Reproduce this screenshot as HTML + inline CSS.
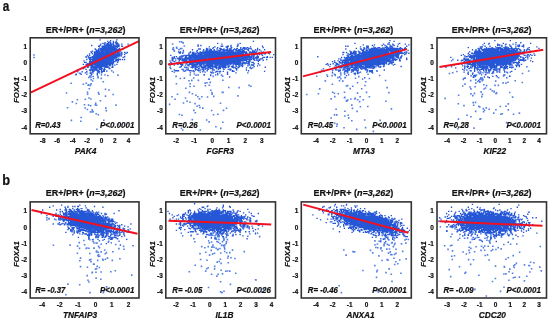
<!DOCTYPE html><html lang="en"><head><title>FOXA1 correlation scatter plots</title><meta charset="utf-8"><style>html,body{margin:0;padding:0;background:#fff}svg{display:block}svg text{font-family:"Liberation Sans",sans-serif}</style></head><body><svg width="550" height="321" viewBox="0 0 550 321">
<rect width="550" height="321" fill="#fff"/>
<g font-weight="bold" fill="#111" stroke="#111" stroke-width="0.2">
<text transform="translate(2.8 11.2) scale(0.88 1.03)" font-size="13.5">a</text>
<text transform="translate(2.3 185) scale(0.95 1.02)" font-size="13.5">b</text>
<path d="M98 76.2h.01M91.1 79.7h.01M76.3 103.5h.01M92.2 109.9h.01M66.5 93h.01M88.6 84.9h.01M111.7 70.8h.01M96.2 113.7h.01M105.8 108.1h.01M87.6 94.1h.01M75.7 74.7h.01M87.5 92.3h.01M106.7 71.1h.01M116 105.1h.01M83.4 84.3h.01M90.5 111.9h.01M88.1 85.2h.01M77.4 99.8h.01M93.4 78.5h.01M96.6 105.3h.01M96.9 129.3h.01M77.8 71.8h.01M90.9 99h.01M71.4 120.4h.01M103.3 81.8h.01M80.1 73.4h.01M89 98h.01M86.9 74.2h.01M85.3 99.2h.01M79.6 73.3h.01M71.1 83.2h.01M113.1 94.5h.01M95.4 104.9h.01M117.5 124.4h.01M91.1 83.9h.01M99 94.3h.01M92.6 81h.01M98.4 72.5h.01M89.3 88.7h.01M95.7 103.2h.01M106.3 110.6h.01M67.5 107.7h.01M90.8 77.4h.01M87.4 109.5h.01M88.8 77.5h.01M101.2 78.4h.01M82.2 71.8h.01M89.7 76.4h.01M86.3 83.3h.01M72.4 101.9h.01M81.1 117.5h.01M88.6 105.1h.01M92.3 112h.01M93.1 111.6h.01M90.7 105.7h.01M118 75.1h.01M97.6 69.6h.01M85.1 108h.01M84.5 104.8h.01M90.3 85.5h.01M105.5 96.1h.01M109 90h.01M98.3 114.8h.01M105.5 89.3h.01M80.8 121.3h.01M98.4 92.6h.01M103.8 120.3h.01M100.4 100.7h.01M34 55h.01M34 57.5h.01" stroke="#5580e4" stroke-width="1.6" stroke-linecap="square" fill="none"/>
<path d="M76.3 74.2h.01M77.7 70h.01M81.2 74.2h.01M83.3 64.4h.01M83.3 68.6h.01M84 60.9h.01M84.7 62.3h.01M84.7 67.9h.01M85.4 72.8h.01M86.1 56.7h.01M86.1 57.4h.01M86.1 62.3h.01M86.1 64.4h.01M86.1 69.3h.01M86.8 59.5h.01M86.8 65.1h.01M86.8 65.8h.01M86.8 71.4h.01M86.8 72.1h.01M87.5 55.3h.01M87.5 63.7h.01M87.5 64.4h.01M87.5 67.2h.01M88.2 56.7h.01M88.2 65.1h.01M88.2 67.2h.01M88.9 58.1h.01M88.9 63.7h.01M88.9 64.4h.01M88.9 65.8h.01M89.6 53.9h.01M89.6 55.3h.01M89.6 57.4h.01M89.6 59.5h.01M89.6 61.6h.01M89.6 62.3h.01M89.6 63h.01M89.6 64.4h.01M89.6 65.1h.01M89.6 70h.01M90.3 58.1h.01M90.3 59.5h.01M90.3 60.2h.01M90.3 60.9h.01M90.3 62.3h.01M90.3 63.7h.01M90.3 70.7h.01M90.3 72.8h.01M90.3 73.5h.01M91 51.8h.01M91 57.4h.01M91 61.6h.01M91 63.7h.01M91 64.4h.01M91 65.1h.01M91 66.5h.01M91 67.9h.01M91 68.6h.01M91 69.3h.01M91 70h.01M91 72.8h.01M91 75.6h.01M91.7 45.5h.01M91.7 52.5h.01M91.7 59.5h.01M91.7 61.6h.01M91.7 62.3h.01M91.7 63h.01M91.7 63.7h.01M91.7 64.4h.01M91.7 65.1h.01M91.7 67.2h.01M91.7 67.9h.01M91.7 74.2h.01M92.4 51.1h.01M92.4 53.9h.01M92.4 56.7h.01M92.4 57.4h.01M92.4 58.8h.01M92.4 59.5h.01M92.4 60.2h.01M92.4 60.9h.01M92.4 61.6h.01M92.4 64.4h.01M92.4 65.1h.01M92.4 66.5h.01M92.4 67.2h.01M92.4 69.3h.01M92.4 70h.01M92.4 71.4h.01M92.4 72.1h.01M93.1 58.1h.01M93.1 58.8h.01M93.1 60.2h.01M93.1 62.3h.01M93.1 63h.01M93.1 64.4h.01M93.1 67.9h.01M93.1 72.8h.01M93.1 76.3h.01M93.8 55.3h.01M93.8 56h.01M93.8 56.7h.01M93.8 57.4h.01M93.8 58.1h.01M93.8 58.8h.01M93.8 59.5h.01M93.8 60.2h.01M93.8 60.9h.01M93.8 61.6h.01M93.8 62.3h.01M93.8 63.7h.01M93.8 65.8h.01M93.8 66.5h.01M93.8 67.2h.01M93.8 67.9h.01M93.8 68.6h.01M93.8 70h.01M93.8 71.4h.01M94.5 51.8h.01M94.5 52.5h.01M94.5 53.2h.01M94.5 53.9h.01M94.5 54.6h.01M94.5 55.3h.01M94.5 56h.01M94.5 56.7h.01M94.5 57.4h.01M94.5 58.1h.01M94.5 58.8h.01M94.5 59.5h.01M94.5 60.2h.01M94.5 60.9h.01M94.5 61.6h.01M94.5 62.3h.01M94.5 63h.01M94.5 63.7h.01M94.5 64.4h.01M94.5 65.8h.01M94.5 67.2h.01M94.5 67.9h.01M95.2 49h.01M95.2 52.5h.01M95.2 53.2h.01M95.2 53.9h.01M95.2 54.6h.01M95.2 56h.01M95.2 56.7h.01M95.2 57.4h.01M95.2 58.1h.01M95.2 59.5h.01M95.2 60.2h.01M95.2 60.9h.01M95.2 61.6h.01M95.2 62.3h.01M95.2 63h.01M95.2 63.7h.01M95.2 64.4h.01M95.2 65.8h.01M95.2 66.5h.01M95.2 67.2h.01M95.2 67.9h.01M95.2 68.6h.01M95.2 69.3h.01M95.2 70h.01M95.9 49.7h.01M95.9 51.8h.01M95.9 52.5h.01M95.9 53.2h.01M95.9 53.9h.01M95.9 55.3h.01M95.9 56.7h.01M95.9 58.1h.01M95.9 58.8h.01M95.9 59.5h.01M95.9 60.2h.01M95.9 60.9h.01M95.9 62.3h.01M95.9 63h.01M95.9 63.7h.01M95.9 64.4h.01M95.9 65.1h.01M95.9 65.8h.01M95.9 67.2h.01M95.9 67.9h.01M95.9 69.3h.01M95.9 70h.01M96.6 50.4h.01M96.6 51.1h.01M96.6 51.8h.01M96.6 53.2h.01M96.6 53.9h.01M96.6 54.6h.01M96.6 55.3h.01M96.6 56h.01M96.6 57.4h.01M96.6 58.1h.01M96.6 58.8h.01M96.6 59.5h.01M96.6 60.2h.01M96.6 60.9h.01M96.6 61.6h.01M96.6 62.3h.01M96.6 63h.01M96.6 63.7h.01M96.6 64.4h.01M96.6 65.1h.01M96.6 65.8h.01M96.6 66.5h.01M96.6 68.6h.01M96.6 69.3h.01M96.6 70h.01M97.3 50.4h.01M97.3 51.1h.01M97.3 51.8h.01M97.3 52.5h.01M97.3 53.2h.01M97.3 53.9h.01M97.3 54.6h.01M97.3 55.3h.01M97.3 56h.01M97.3 56.7h.01M97.3 57.4h.01M97.3 58.1h.01M97.3 58.8h.01M97.3 59.5h.01M97.3 60.2h.01M97.3 60.9h.01M97.3 61.6h.01M97.3 62.3h.01M97.3 63h.01M97.3 63.7h.01M97.3 64.4h.01M97.3 65.1h.01M97.3 65.8h.01M97.3 66.5h.01M97.3 67.9h.01M97.3 70.7h.01M97.3 73.5h.01M97.3 74.9h.01M98 50.4h.01M98 51.1h.01M98 52.5h.01M98 53.9h.01M98 54.6h.01M98 55.3h.01M98 56h.01M98 56.7h.01M98 57.4h.01M98 58.1h.01M98 58.8h.01M98 59.5h.01M98 60.2h.01M98 60.9h.01M98 61.6h.01M98 62.3h.01M98 63h.01M98 63.7h.01M98 65.1h.01M98 65.8h.01M98 66.5h.01M98 67.2h.01M98 67.9h.01M98 70.7h.01M98 72.1h.01M98 77.7h.01M98.7 46.2h.01M98.7 49h.01M98.7 49.7h.01M98.7 50.4h.01M98.7 52.5h.01M98.7 53.2h.01M98.7 53.9h.01M98.7 54.6h.01M98.7 55.3h.01M98.7 56h.01M98.7 56.7h.01M98.7 57.4h.01M98.7 58.1h.01M98.7 58.8h.01M98.7 59.5h.01M98.7 60.2h.01M98.7 60.9h.01M98.7 61.6h.01M98.7 62.3h.01M98.7 63h.01M98.7 63.7h.01M98.7 64.4h.01M98.7 65.1h.01M98.7 65.8h.01M98.7 66.5h.01M98.7 67.2h.01M98.7 70.7h.01M98.7 71.4h.01M99.4 46.9h.01M99.4 51.1h.01M99.4 51.8h.01M99.4 52.5h.01M99.4 53.2h.01M99.4 53.9h.01M99.4 54.6h.01M99.4 55.3h.01M99.4 56h.01M99.4 56.7h.01M99.4 57.4h.01M99.4 58.1h.01M99.4 58.8h.01M99.4 59.5h.01M99.4 60.2h.01M99.4 60.9h.01M99.4 61.6h.01M99.4 62.3h.01M99.4 63h.01M99.4 63.7h.01M99.4 64.4h.01M99.4 65.1h.01M99.4 65.8h.01M99.4 67.9h.01M99.4 68.6h.01M99.4 69.3h.01M99.4 71.4h.01M99.4 72.8h.01M100.1 39.9h.01M100.1 45.5h.01M100.1 49h.01M100.1 51.8h.01M100.1 52.5h.01M100.1 53.2h.01M100.1 53.9h.01M100.1 54.6h.01M100.1 55.3h.01M100.1 56h.01M100.1 56.7h.01M100.1 57.4h.01M100.1 58.1h.01M100.1 58.8h.01M100.1 59.5h.01M100.1 60.2h.01M100.1 60.9h.01M100.1 61.6h.01M100.1 62.3h.01M100.1 63h.01M100.1 63.7h.01M100.1 64.4h.01M100.1 65.1h.01M100.1 65.8h.01M100.1 66.5h.01M100.1 67.2h.01M100.1 69.3h.01M100.8 44.1h.01M100.8 48.3h.01M100.8 49.7h.01M100.8 50.4h.01M100.8 51.8h.01M100.8 52.5h.01M100.8 53.2h.01M100.8 53.9h.01M100.8 54.6h.01M100.8 55.3h.01M100.8 56h.01M100.8 56.7h.01M100.8 57.4h.01M100.8 58.1h.01M100.8 58.8h.01M100.8 59.5h.01M100.8 60.2h.01M100.8 60.9h.01M100.8 61.6h.01M100.8 62.3h.01M100.8 63h.01M100.8 63.7h.01M100.8 64.4h.01M100.8 65.1h.01M100.8 66.5h.01M100.8 67.2h.01M100.8 67.9h.01M100.8 68.6h.01M101.5 49h.01M101.5 49.7h.01M101.5 51.1h.01M101.5 51.8h.01M101.5 52.5h.01M101.5 53.2h.01M101.5 53.9h.01M101.5 54.6h.01M101.5 55.3h.01M101.5 56h.01M101.5 56.7h.01M101.5 57.4h.01M101.5 58.1h.01M101.5 58.8h.01M101.5 59.5h.01M101.5 60.2h.01M101.5 60.9h.01M101.5 61.6h.01M101.5 62.3h.01M101.5 63h.01M101.5 63.7h.01M101.5 64.4h.01M101.5 65.1h.01M101.5 65.8h.01M101.5 66.5h.01M101.5 67.9h.01M101.5 68.6h.01M101.5 70h.01M101.5 71.4h.01M101.5 72.8h.01M101.5 74.9h.01M102.2 46.2h.01M102.2 47.6h.01M102.2 49h.01M102.2 49.7h.01M102.2 50.4h.01M102.2 51.1h.01M102.2 51.8h.01M102.2 52.5h.01M102.2 53.2h.01M102.2 53.9h.01M102.2 54.6h.01M102.2 55.3h.01M102.2 56h.01M102.2 56.7h.01M102.2 57.4h.01M102.2 58.1h.01M102.2 58.8h.01M102.2 59.5h.01M102.2 60.2h.01M102.2 60.9h.01M102.2 61.6h.01M102.2 62.3h.01M102.2 63h.01M102.2 63.7h.01M102.2 64.4h.01M102.2 65.1h.01M102.2 66.5h.01M102.2 68.6h.01M102.2 72.1h.01M102.9 43.4h.01M102.9 46.2h.01M102.9 46.9h.01M102.9 47.6h.01M102.9 48.3h.01M102.9 49h.01M102.9 49.7h.01M102.9 50.4h.01M102.9 51.8h.01M102.9 52.5h.01M102.9 53.2h.01M102.9 53.9h.01M102.9 54.6h.01M102.9 55.3h.01M102.9 56h.01M102.9 56.7h.01M102.9 57.4h.01M102.9 58.1h.01M102.9 58.8h.01M102.9 59.5h.01M102.9 60.2h.01M102.9 60.9h.01M102.9 61.6h.01M102.9 62.3h.01M102.9 63h.01M102.9 63.7h.01M102.9 64.4h.01M102.9 65.1h.01M102.9 66.5h.01M102.9 71.4h.01M103.6 46.2h.01M103.6 46.9h.01M103.6 49h.01M103.6 49.7h.01M103.6 51.1h.01M103.6 51.8h.01M103.6 52.5h.01M103.6 53.2h.01M103.6 53.9h.01M103.6 54.6h.01M103.6 55.3h.01M103.6 56h.01M103.6 56.7h.01M103.6 57.4h.01M103.6 58.1h.01M103.6 58.8h.01M103.6 59.5h.01M103.6 60.2h.01M103.6 60.9h.01M103.6 61.6h.01M103.6 62.3h.01M103.6 63h.01M103.6 63.7h.01M103.6 64.4h.01M103.6 65.1h.01M103.6 65.8h.01M103.6 66.5h.01M103.6 70h.01M104.3 44.1h.01M104.3 46.2h.01M104.3 47.6h.01M104.3 48.3h.01M104.3 49.7h.01M104.3 50.4h.01M104.3 51.8h.01M104.3 52.5h.01M104.3 53.2h.01M104.3 53.9h.01M104.3 54.6h.01M104.3 55.3h.01M104.3 56h.01M104.3 56.7h.01M104.3 57.4h.01M104.3 58.1h.01M104.3 58.8h.01M104.3 59.5h.01M104.3 60.2h.01M104.3 60.9h.01M104.3 61.6h.01M104.3 62.3h.01M104.3 63h.01M104.3 63.7h.01M104.3 64.4h.01M104.3 65.8h.01M104.3 66.5h.01M104.3 68.6h.01M104.3 70.7h.01M104.3 71.4h.01M105 42.7h.01M105 43.4h.01M105 44.8h.01M105 46.2h.01M105 46.9h.01M105 49h.01M105 49.7h.01M105 50.4h.01M105 51.8h.01M105 52.5h.01M105 53.2h.01M105 53.9h.01M105 54.6h.01M105 55.3h.01M105 56h.01M105 56.7h.01M105 58.1h.01M105 58.8h.01M105 59.5h.01M105 60.2h.01M105 60.9h.01M105 61.6h.01M105 62.3h.01M105 63h.01M105 63.7h.01M105 64.4h.01M105 65.1h.01M105 65.8h.01M105 66.5h.01M105 67.2h.01M105 69.3h.01M105 74.9h.01M105.7 47.6h.01M105.7 48.3h.01M105.7 49h.01M105.7 50.4h.01M105.7 51.1h.01M105.7 51.8h.01M105.7 52.5h.01M105.7 53.2h.01M105.7 53.9h.01M105.7 54.6h.01M105.7 55.3h.01M105.7 56h.01M105.7 56.7h.01M105.7 57.4h.01M105.7 58.1h.01M105.7 58.8h.01M105.7 59.5h.01M105.7 60.2h.01M105.7 60.9h.01M105.7 61.6h.01M105.7 62.3h.01M105.7 63h.01M105.7 63.7h.01M105.7 64.4h.01M105.7 65.1h.01M105.7 66.5h.01M106.4 44.8h.01M106.4 45.5h.01M106.4 46.9h.01M106.4 47.6h.01M106.4 48.3h.01M106.4 49h.01M106.4 49.7h.01M106.4 50.4h.01M106.4 51.1h.01M106.4 51.8h.01M106.4 52.5h.01M106.4 53.2h.01M106.4 53.9h.01M106.4 54.6h.01M106.4 55.3h.01M106.4 56h.01M106.4 56.7h.01M106.4 57.4h.01M106.4 58.1h.01M106.4 58.8h.01M106.4 59.5h.01M106.4 60.2h.01M106.4 60.9h.01M106.4 61.6h.01M106.4 62.3h.01M106.4 63h.01M106.4 63.7h.01M106.4 66.5h.01M106.4 67.2h.01M107.1 43.4h.01M107.1 44.1h.01M107.1 44.8h.01M107.1 47.6h.01M107.1 48.3h.01M107.1 49h.01M107.1 49.7h.01M107.1 50.4h.01M107.1 51.1h.01M107.1 51.8h.01M107.1 52.5h.01M107.1 53.2h.01M107.1 53.9h.01M107.1 54.6h.01M107.1 55.3h.01M107.1 56h.01M107.1 56.7h.01M107.1 57.4h.01M107.1 58.1h.01M107.1 58.8h.01M107.1 59.5h.01M107.1 60.2h.01M107.1 60.9h.01M107.1 61.6h.01M107.1 62.3h.01M107.1 63h.01M107.1 63.7h.01M107.1 65.1h.01M107.1 65.8h.01M107.8 41.3h.01M107.8 44.1h.01M107.8 44.8h.01M107.8 45.5h.01M107.8 46.2h.01M107.8 48.3h.01M107.8 49h.01M107.8 49.7h.01M107.8 50.4h.01M107.8 51.1h.01M107.8 51.8h.01M107.8 52.5h.01M107.8 53.2h.01M107.8 53.9h.01M107.8 54.6h.01M107.8 55.3h.01M107.8 56h.01M107.8 56.7h.01M107.8 57.4h.01M107.8 58.1h.01M107.8 58.8h.01M107.8 59.5h.01M107.8 60.2h.01M107.8 60.9h.01M107.8 61.6h.01M107.8 62.3h.01M107.8 63h.01M107.8 63.7h.01M107.8 64.4h.01M107.8 66.5h.01M107.8 67.2h.01M107.8 75.6h.01M108.5 42.7h.01M108.5 44.1h.01M108.5 44.8h.01M108.5 45.5h.01M108.5 46.2h.01M108.5 46.9h.01M108.5 47.6h.01M108.5 49h.01M108.5 49.7h.01M108.5 50.4h.01M108.5 51.1h.01M108.5 51.8h.01M108.5 52.5h.01M108.5 53.2h.01M108.5 53.9h.01M108.5 54.6h.01M108.5 55.3h.01M108.5 56h.01M108.5 56.7h.01M108.5 57.4h.01M108.5 58.1h.01M108.5 58.8h.01M108.5 59.5h.01M108.5 60.2h.01M108.5 60.9h.01M108.5 61.6h.01M108.5 62.3h.01M108.5 63h.01M108.5 64.4h.01M109.2 46.2h.01M109.2 47.6h.01M109.2 48.3h.01M109.2 49h.01M109.2 50.4h.01M109.2 51.1h.01M109.2 51.8h.01M109.2 52.5h.01M109.2 53.2h.01M109.2 53.9h.01M109.2 54.6h.01M109.2 55.3h.01M109.2 56h.01M109.2 56.7h.01M109.2 57.4h.01M109.2 58.1h.01M109.2 58.8h.01M109.2 59.5h.01M109.2 60.9h.01M109.2 61.6h.01M109.2 62.3h.01M109.2 63h.01M109.2 63.7h.01M109.2 64.4h.01M109.2 65.8h.01M109.2 67.9h.01M109.2 68.6h.01M109.9 42h.01M109.9 44.1h.01M109.9 45.5h.01M109.9 46.2h.01M109.9 47.6h.01M109.9 48.3h.01M109.9 49.7h.01M109.9 50.4h.01M109.9 51.1h.01M109.9 51.8h.01M109.9 52.5h.01M109.9 53.2h.01M109.9 53.9h.01M109.9 54.6h.01M109.9 55.3h.01M109.9 56h.01M109.9 56.7h.01M109.9 57.4h.01M109.9 58.1h.01M109.9 58.8h.01M109.9 59.5h.01M109.9 60.2h.01M109.9 60.9h.01M109.9 62.3h.01M109.9 63.7h.01M109.9 65.1h.01M109.9 65.8h.01M109.9 68.6h.01M110.6 40.6h.01M110.6 42.7h.01M110.6 43.4h.01M110.6 46.2h.01M110.6 47.6h.01M110.6 48.3h.01M110.6 49h.01M110.6 49.7h.01M110.6 50.4h.01M110.6 51.1h.01M110.6 51.8h.01M110.6 52.5h.01M110.6 53.2h.01M110.6 53.9h.01M110.6 54.6h.01M110.6 55.3h.01M110.6 56h.01M110.6 56.7h.01M110.6 57.4h.01M110.6 58.1h.01M110.6 58.8h.01M110.6 59.5h.01M110.6 60.2h.01M110.6 62.3h.01M110.6 63h.01M110.6 63.7h.01M110.6 64.4h.01M110.6 65.1h.01M111.3 44.1h.01M111.3 45.5h.01M111.3 46.2h.01M111.3 46.9h.01M111.3 47.6h.01M111.3 48.3h.01M111.3 49h.01M111.3 49.7h.01M111.3 50.4h.01M111.3 51.1h.01M111.3 51.8h.01M111.3 52.5h.01M111.3 53.2h.01M111.3 53.9h.01M111.3 54.6h.01M111.3 55.3h.01M111.3 56h.01M111.3 56.7h.01M111.3 57.4h.01M111.3 58.1h.01M111.3 58.8h.01M111.3 60.2h.01M111.3 60.9h.01M111.3 61.6h.01M111.3 62.3h.01M111.3 63.7h.01M112 46.2h.01M112 46.9h.01M112 47.6h.01M112 49h.01M112 49.7h.01M112 50.4h.01M112 51.1h.01M112 51.8h.01M112 52.5h.01M112 53.2h.01M112 53.9h.01M112 54.6h.01M112 55.3h.01M112 56.7h.01M112 57.4h.01M112 58.1h.01M112 58.8h.01M112 59.5h.01M112 60.2h.01M112 60.9h.01M112 63h.01M112 63.7h.01M112 67.2h.01M112.7 44.1h.01M112.7 46.9h.01M112.7 47.6h.01M112.7 48.3h.01M112.7 49h.01M112.7 50.4h.01M112.7 51.8h.01M112.7 52.5h.01M112.7 53.2h.01M112.7 54.6h.01M112.7 55.3h.01M112.7 56h.01M112.7 56.7h.01M112.7 57.4h.01M112.7 58.8h.01M112.7 60.2h.01M112.7 60.9h.01M112.7 62.3h.01M112.7 63h.01M112.7 64.4h.01M112.7 65.8h.01M112.7 67.2h.01M113.4 41.3h.01M113.4 42.7h.01M113.4 44.1h.01M113.4 44.8h.01M113.4 46.2h.01M113.4 48.3h.01M113.4 49h.01M113.4 49.7h.01M113.4 50.4h.01M113.4 51.8h.01M113.4 52.5h.01M113.4 53.2h.01M113.4 54.6h.01M113.4 55.3h.01M113.4 56h.01M113.4 56.7h.01M113.4 57.4h.01M113.4 58.1h.01M113.4 58.8h.01M113.4 59.5h.01M113.4 60.2h.01M113.4 61.6h.01M113.4 62.3h.01M113.4 63h.01M113.4 72.1h.01M114.1 46.9h.01M114.1 47.6h.01M114.1 48.3h.01M114.1 49h.01M114.1 49.7h.01M114.1 50.4h.01M114.1 51.1h.01M114.1 51.8h.01M114.1 52.5h.01M114.1 53.2h.01M114.1 54.6h.01M114.1 55.3h.01M114.1 56h.01M114.1 57.4h.01M114.1 58.1h.01M114.1 58.8h.01M114.8 45.5h.01M114.8 47.6h.01M114.8 48.3h.01M114.8 49.7h.01M114.8 51.1h.01M114.8 51.8h.01M114.8 52.5h.01M114.8 53.2h.01M114.8 53.9h.01M114.8 54.6h.01M114.8 56.7h.01M114.8 57.4h.01M114.8 61.6h.01M114.8 65.1h.01M115.5 42.7h.01M115.5 46.2h.01M115.5 46.9h.01M115.5 48.3h.01M115.5 49h.01M115.5 49.7h.01M115.5 51.1h.01M115.5 51.8h.01M115.5 52.5h.01M115.5 53.9h.01M115.5 54.6h.01M115.5 55.3h.01M115.5 56h.01M115.5 56.7h.01M115.5 58.1h.01M115.5 60.2h.01M116.2 41.3h.01M116.2 44.1h.01M116.2 46.2h.01M116.2 46.9h.01M116.2 48.3h.01M116.2 49h.01M116.2 49.7h.01M116.2 50.4h.01M116.2 51.1h.01M116.2 51.8h.01M116.2 54.6h.01M116.2 55.3h.01M116.2 56.7h.01M116.2 58.8h.01M116.2 59.5h.01M116.2 60.9h.01M116.9 39.9h.01M116.9 42.7h.01M116.9 44.8h.01M116.9 46.2h.01M116.9 46.9h.01M116.9 51.1h.01M116.9 53.9h.01M116.9 54.6h.01M116.9 56.7h.01M116.9 57.4h.01M116.9 60.9h.01M116.9 64.4h.01M117.6 43.4h.01M117.6 44.8h.01M117.6 46.9h.01M117.6 47.6h.01M117.6 49.7h.01M117.6 50.4h.01M117.6 51.1h.01M117.6 52.5h.01M117.6 53.2h.01M117.6 53.9h.01M117.6 56h.01M117.6 59.5h.01M117.6 62.3h.01M118.3 44.1h.01M118.3 46.2h.01M118.3 50.4h.01M118.3 53.9h.01M118.3 54.6h.01M118.3 55.3h.01M118.3 58.8h.01M118.3 60.9h.01M119 44.8h.01M119 46.2h.01M119 49h.01M119 50.4h.01M119 51.8h.01M119 53.2h.01M119 54.6h.01M119 56h.01M119 56.7h.01M119 59.5h.01M119.7 48.3h.01M119.7 49h.01M119.7 51.8h.01M119.7 53.9h.01M119.7 54.6h.01M119.7 55.3h.01M120.4 51.8h.01M120.4 53.9h.01M120.4 59.5h.01M121.1 56h.01M121.8 44.1h.01M121.8 46.2h.01M121.8 52.5h.01M121.8 53.9h.01M121.8 54.6h.01M122.5 46.2h.01M122.5 59.5h.01M123.2 49h.01M123.2 57.4h.01M124.6 52.5h.01M124.6 54.6h.01M124.6 56.7h.01M124.6 59.5h.01M126 53.2h.01M127.4 52.5h.01M128.1 44.1h.01" stroke="#2556d6" stroke-width="1.35" stroke-linecap="square" fill="none"/>
<line x1="30.5" y1="92.6" x2="139" y2="41.2" stroke="#f01020" stroke-width="2"/>
<rect x="30.2" y="37.8" width="108.8" height="96" fill="none" stroke="#333" stroke-width="1.6"/>
<text x="45.8" y="32.7" font-size="9">ER+/PR+ (<tspan font-style="italic">n=3,262</tspan>)</text>
<text x="27.1" y="48.6" font-size="6.4" text-anchor="end">1</text>
<text x="27.1" y="64.8" font-size="6.4" text-anchor="end">0</text>
<text x="27.1" y="81" font-size="6.4" text-anchor="end">-1</text>
<text x="27.1" y="97.2" font-size="6.4" text-anchor="end">-2</text>
<text x="27.1" y="113.4" font-size="6.4" text-anchor="end">-3</text>
<text x="27.1" y="129.6" font-size="6.4" text-anchor="end">-4</text>
<text x="42.7" y="143.2" font-size="6.4" text-anchor="middle">-8</text>
<text x="57.2" y="143.2" font-size="6.4" text-anchor="middle">-6</text>
<text x="72.7" y="143.2" font-size="6.4" text-anchor="middle">-4</text>
<text x="87.2" y="143.2" font-size="6.4" text-anchor="middle">-2</text>
<text x="101.5" y="143.2" font-size="6.4" text-anchor="middle">0</text>
<text x="114.7" y="143.2" font-size="6.4" text-anchor="middle">2</text>
<text x="128.5" y="143.2" font-size="6.4" text-anchor="middle">4</text>
<text transform="translate(18.9 89.9) rotate(-90)" font-size="7.8" font-style="italic" text-anchor="middle">FOXA1</text>
<text x="85.5" y="153.9" font-size="8.3" font-style="italic" text-anchor="middle">PAK4</text>
<text transform="translate(35.2 127.5) scale(1 1.1)" font-size="7.8" font-style="italic">R=0.43</text>
<text transform="translate(134.4 127.5) scale(1 1.1)" font-size="8" font-style="italic" text-anchor="end">P&lt;0.0001</text>
<path d="M216.5 71.5h.01M196.1 75.2h.01M169.6 104.4h.01M202.8 108.1h.01M222.3 92.4h.01M176.1 76.4h.01M183.4 69.5h.01M213.5 114.8h.01M179.4 114.5h.01M233.5 71.2h.01M209.3 85.2h.01M175.1 99.2h.01M197 67.6h.01M212.6 70.6h.01M207.5 97h.01M194.2 71.8h.01M184.4 78.1h.01M212.3 72.6h.01M197.9 96.7h.01M211.9 92.6h.01M190 86.5h.01M222.8 122.3h.01M189.4 92.4h.01M205.4 85.7h.01M187.1 101.3h.01M194 86.2h.01M193.7 78h.01M186.6 69.8h.01M202.1 69.4h.01M220.5 103.3h.01M229.9 69.1h.01M222.7 76.2h.01M195 103.6h.01M223 92.4h.01M205.2 83.1h.01M228.8 87.5h.01M176.4 83.8h.01M223.4 68.6h.01M187.7 69.8h.01M217.9 114.3h.01M190 102.2h.01M213.7 96.4h.01M193.2 71h.01M181.4 128.3h.01M193.9 110.4h.01M198.4 80.4h.01M177.5 94.3h.01M194.4 74h.01M201.8 96.8h.01M172 96.7h.01M203.2 69h.01M192.3 119.6h.01M213.2 76.4h.01M189 80.7h.01M209.1 121.9h.01M182.7 130h.01M202.6 71.6h.01M199.5 98.9h.01M182 115.3h.01M195.9 95.3h.01M183.5 103h.01M195.3 112.7h.01M208.7 68.9h.01M249.1 85.4h.01M210.2 82.4h.01M199.9 107.5h.01M217.4 71.5h.01M205.9 68.8h.01M215.9 126.7h.01M204.1 74.8h.01M239.1 87.6h.01M221.6 75.1h.01M203.2 67.3h.01M199.4 68.1h.01M183.3 70.1h.01M190.2 75h.01M185.5 98h.01M200.3 130h.01M210.8 90.3h.01M192.4 93.7h.01M198.1 74.9h.01M190.1 83.8h.01M217.6 74.7h.01M206.7 120h.01M191.8 80.4h.01M222.9 80.3h.01M188.2 68.3h.01M195.2 67.6h.01M180.3 78.5h.01M207 82.7h.01M197.1 106.2h.01M208.7 79.3h.01M223.5 110.4h.01M173.4 47.7h.01M179 49.7h.01M184.3 46h.01M176.6 47.2h.01M172.7 49.2h.01M174.3 51.1h.01M181.7 41.9h.01M180.4 48.6h.01M179.7 41.7h.01M172.6 44h.01M181.8 48.5h.01M183.2 42.9h.01M176.9 48.3h.01M173.7 49.6h.01M226.5 108.3h.01M237.9 95.9h.01M220.8 128.4h.01M212.2 94.3h.01M250.9 86.3h.01M199.3 105.5h.01M185.8 88.2h.01M211.6 110.5h.01" stroke="#5580e4" stroke-width="1.6" stroke-linecap="square" fill="none"/>
<path d="M169.4 63.7h.01M170.1 60.9h.01M170.1 65.1h.01M170.1 67.2h.01M170.8 55.3h.01M170.8 62.3h.01M170.8 68.6h.01M171.5 63h.01M171.5 64.4h.01M172.2 57.4h.01M172.2 58.1h.01M172.2 59.5h.01M172.2 60.2h.01M172.2 71.4h.01M172.9 59.5h.01M172.9 60.9h.01M173.6 58.1h.01M174.3 56.7h.01M174.3 58.1h.01M174.3 61.6h.01M174.3 65.1h.01M174.3 70h.01M174.3 72.1h.01M175.7 58.8h.01M175.7 60.9h.01M175.7 70.7h.01M176.4 56.7h.01M176.4 63h.01M177.1 70.7h.01M177.8 58.1h.01M177.8 58.8h.01M177.8 63h.01M177.8 64.4h.01M178.5 51.8h.01M178.5 62.3h.01M178.5 63.7h.01M178.5 70.7h.01M179.2 52.5h.01M179.2 58.1h.01M179.2 58.8h.01M179.2 60.2h.01M179.2 60.9h.01M179.2 63h.01M179.9 53.2h.01M179.9 56.7h.01M179.9 57.4h.01M179.9 58.8h.01M179.9 62.3h.01M179.9 63h.01M179.9 67.2h.01M180.6 51.8h.01M180.6 52.5h.01M180.6 58.1h.01M180.6 59.5h.01M180.6 64.4h.01M181.3 56h.01M181.3 58.1h.01M181.3 63.7h.01M181.3 65.8h.01M181.3 66.5h.01M182 56h.01M182 57.4h.01M182 58.1h.01M182 60.2h.01M182 64.4h.01M182 65.1h.01M182 69.3h.01M182.7 53.2h.01M182.7 59.5h.01M182.7 60.9h.01M182.7 64.4h.01M182.7 65.1h.01M183.4 50.4h.01M183.4 51.8h.01M183.4 56h.01M183.4 58.8h.01M183.4 59.5h.01M184.1 55.3h.01M184.1 58.8h.01M184.1 60.2h.01M184.1 60.9h.01M184.1 61.6h.01M184.1 62.3h.01M184.1 71.4h.01M184.8 58.1h.01M184.8 60.9h.01M184.8 62.3h.01M184.8 67.2h.01M185.5 56h.01M185.5 56.7h.01M185.5 58.1h.01M185.5 59.5h.01M185.5 61.6h.01M185.5 62.3h.01M185.5 65.1h.01M185.5 70.7h.01M186.2 55.3h.01M186.2 56h.01M186.2 58.1h.01M186.2 58.8h.01M186.2 59.5h.01M186.2 60.9h.01M186.2 62.3h.01M186.2 63h.01M186.2 67.9h.01M186.9 55.3h.01M186.9 57.4h.01M186.9 59.5h.01M186.9 60.2h.01M186.9 60.9h.01M186.9 63h.01M186.9 63.7h.01M186.9 67.2h.01M187.6 58.1h.01M187.6 58.8h.01M187.6 62.3h.01M187.6 65.1h.01M188.3 55.3h.01M188.3 58.1h.01M188.3 58.8h.01M188.3 61.6h.01M188.3 70h.01M189 53.2h.01M189 54.6h.01M189 55.3h.01M189 56h.01M189 57.4h.01M189 58.1h.01M189 60.2h.01M189 64.4h.01M189 65.1h.01M189 65.8h.01M189.7 56h.01M189.7 56.7h.01M189.7 57.4h.01M189.7 58.1h.01M189.7 59.5h.01M189.7 60.2h.01M189.7 60.9h.01M189.7 62.3h.01M189.7 63.7h.01M189.7 64.4h.01M189.7 70.7h.01M190.4 51.8h.01M190.4 52.5h.01M190.4 55.3h.01M190.4 56h.01M190.4 58.1h.01M190.4 59.5h.01M190.4 60.2h.01M190.4 60.9h.01M190.4 63.7h.01M190.4 64.4h.01M190.4 72.8h.01M191.1 56h.01M191.1 57.4h.01M191.1 62.3h.01M191.1 67.2h.01M191.1 70.7h.01M191.8 54.6h.01M191.8 55.3h.01M191.8 58.1h.01M191.8 58.8h.01M191.8 59.5h.01M191.8 60.9h.01M191.8 61.6h.01M191.8 62.3h.01M191.8 63h.01M191.8 64.4h.01M191.8 65.1h.01M192.5 49.7h.01M192.5 52.5h.01M192.5 53.2h.01M192.5 55.3h.01M192.5 56h.01M192.5 56.7h.01M192.5 57.4h.01M192.5 58.8h.01M192.5 59.5h.01M192.5 60.2h.01M192.5 60.9h.01M192.5 61.6h.01M192.5 62.3h.01M192.5 65.1h.01M192.5 66.5h.01M192.5 67.9h.01M193.2 53.9h.01M193.2 54.6h.01M193.2 55.3h.01M193.2 56.7h.01M193.2 57.4h.01M193.2 61.6h.01M193.2 63h.01M193.2 63.7h.01M193.2 64.4h.01M193.2 65.1h.01M193.2 66.5h.01M193.2 67.2h.01M193.2 70.7h.01M193.9 52.5h.01M193.9 53.9h.01M193.9 54.6h.01M193.9 55.3h.01M193.9 57.4h.01M193.9 58.1h.01M193.9 59.5h.01M193.9 60.9h.01M193.9 61.6h.01M193.9 62.3h.01M193.9 63.7h.01M194.6 53.9h.01M194.6 55.3h.01M194.6 56h.01M194.6 57.4h.01M194.6 58.1h.01M194.6 59.5h.01M194.6 60.2h.01M194.6 60.9h.01M194.6 61.6h.01M194.6 62.3h.01M194.6 64.4h.01M194.6 65.1h.01M194.6 66.5h.01M195.3 53.9h.01M195.3 54.6h.01M195.3 56h.01M195.3 57.4h.01M195.3 58.1h.01M195.3 58.8h.01M195.3 59.5h.01M195.3 60.2h.01M195.3 60.9h.01M195.3 62.3h.01M195.3 64.4h.01M195.3 68.6h.01M195.3 69.3h.01M195.3 70h.01M196 53.2h.01M196 54.6h.01M196 55.3h.01M196 56h.01M196 56.7h.01M196 57.4h.01M196 58.1h.01M196 58.8h.01M196 60.9h.01M196 61.6h.01M196 63.7h.01M196 64.4h.01M196 65.1h.01M196 65.8h.01M196 67.2h.01M196 69.3h.01M196.7 51.1h.01M196.7 55.3h.01M196.7 56h.01M196.7 57.4h.01M196.7 58.1h.01M196.7 58.8h.01M196.7 59.5h.01M196.7 60.9h.01M196.7 63h.01M196.7 63.7h.01M196.7 64.4h.01M197.4 50.4h.01M197.4 52.5h.01M197.4 56h.01M197.4 56.7h.01M197.4 57.4h.01M197.4 58.1h.01M197.4 58.8h.01M197.4 59.5h.01M197.4 60.2h.01M197.4 60.9h.01M197.4 61.6h.01M197.4 63h.01M197.4 63.7h.01M197.4 65.1h.01M197.4 67.2h.01M197.4 70h.01M198.1 44.8h.01M198.1 46.2h.01M198.1 53.2h.01M198.1 54.6h.01M198.1 55.3h.01M198.1 56h.01M198.1 56.7h.01M198.1 58.1h.01M198.1 59.5h.01M198.1 60.2h.01M198.1 60.9h.01M198.1 61.6h.01M198.1 62.3h.01M198.1 63h.01M198.1 63.7h.01M198.1 70h.01M198.8 49h.01M198.8 53.2h.01M198.8 54.6h.01M198.8 56h.01M198.8 56.7h.01M198.8 58.1h.01M198.8 58.8h.01M198.8 59.5h.01M198.8 60.2h.01M198.8 60.9h.01M198.8 61.6h.01M198.8 62.3h.01M198.8 63h.01M198.8 63.7h.01M198.8 66.5h.01M198.8 68.6h.01M198.8 70.7h.01M199.5 53.2h.01M199.5 54.6h.01M199.5 55.3h.01M199.5 56h.01M199.5 57.4h.01M199.5 58.1h.01M199.5 59.5h.01M199.5 60.9h.01M199.5 61.6h.01M199.5 62.3h.01M199.5 64.4h.01M199.5 65.8h.01M200.2 49h.01M200.2 51.8h.01M200.2 53.2h.01M200.2 53.9h.01M200.2 54.6h.01M200.2 55.3h.01M200.2 56.7h.01M200.2 57.4h.01M200.2 58.1h.01M200.2 59.5h.01M200.2 60.2h.01M200.2 61.6h.01M200.2 62.3h.01M200.2 63h.01M200.2 63.7h.01M200.2 64.4h.01M200.2 65.1h.01M200.2 70h.01M200.2 72.1h.01M200.9 45.5h.01M200.9 52.5h.01M200.9 53.2h.01M200.9 53.9h.01M200.9 55.3h.01M200.9 56h.01M200.9 58.1h.01M200.9 58.8h.01M200.9 59.5h.01M200.9 60.2h.01M200.9 60.9h.01M200.9 62.3h.01M200.9 63h.01M200.9 65.1h.01M200.9 66.5h.01M201.6 52.5h.01M201.6 53.9h.01M201.6 54.6h.01M201.6 55.3h.01M201.6 56h.01M201.6 56.7h.01M201.6 57.4h.01M201.6 58.1h.01M201.6 58.8h.01M201.6 59.5h.01M201.6 60.2h.01M201.6 61.6h.01M201.6 62.3h.01M201.6 63h.01M201.6 63.7h.01M201.6 64.4h.01M201.6 65.1h.01M201.6 65.8h.01M201.6 67.2h.01M202.3 53.9h.01M202.3 55.3h.01M202.3 56h.01M202.3 56.7h.01M202.3 57.4h.01M202.3 58.1h.01M202.3 58.8h.01M202.3 59.5h.01M202.3 60.2h.01M202.3 60.9h.01M202.3 61.6h.01M202.3 63.7h.01M202.3 67.9h.01M203 51.1h.01M203 52.5h.01M203 53.2h.01M203 53.9h.01M203 55.3h.01M203 56h.01M203 57.4h.01M203 58.1h.01M203 58.8h.01M203 59.5h.01M203 60.2h.01M203 60.9h.01M203 61.6h.01M203 62.3h.01M203 63h.01M203 67.2h.01M203 68.6h.01M203 69.3h.01M203.7 49.7h.01M203.7 52.5h.01M203.7 55.3h.01M203.7 57.4h.01M203.7 58.1h.01M203.7 58.8h.01M203.7 59.5h.01M203.7 60.2h.01M203.7 60.9h.01M203.7 62.3h.01M203.7 63h.01M203.7 63.7h.01M203.7 64.4h.01M203.7 65.1h.01M203.7 67.2h.01M203.7 70.7h.01M204.4 53.2h.01M204.4 53.9h.01M204.4 54.6h.01M204.4 55.3h.01M204.4 56.7h.01M204.4 57.4h.01M204.4 58.1h.01M204.4 58.8h.01M204.4 59.5h.01M204.4 60.2h.01M204.4 60.9h.01M204.4 61.6h.01M204.4 62.3h.01M204.4 63h.01M204.4 63.7h.01M204.4 66.5h.01M204.4 67.9h.01M204.4 74.9h.01M205.1 51.1h.01M205.1 51.8h.01M205.1 54.6h.01M205.1 55.3h.01M205.1 56h.01M205.1 57.4h.01M205.1 58.1h.01M205.1 58.8h.01M205.1 59.5h.01M205.1 60.9h.01M205.1 61.6h.01M205.1 62.3h.01M205.1 63h.01M205.1 65.8h.01M205.1 69.3h.01M205.1 72.1h.01M205.8 51.1h.01M205.8 51.8h.01M205.8 52.5h.01M205.8 53.2h.01M205.8 53.9h.01M205.8 54.6h.01M205.8 55.3h.01M205.8 56h.01M205.8 56.7h.01M205.8 57.4h.01M205.8 58.1h.01M205.8 58.8h.01M205.8 59.5h.01M205.8 60.2h.01M205.8 60.9h.01M205.8 61.6h.01M205.8 62.3h.01M205.8 65.1h.01M205.8 66.5h.01M205.8 67.2h.01M205.8 67.9h.01M206.5 48.3h.01M206.5 49.7h.01M206.5 50.4h.01M206.5 51.8h.01M206.5 53.2h.01M206.5 53.9h.01M206.5 55.3h.01M206.5 56h.01M206.5 56.7h.01M206.5 57.4h.01M206.5 58.1h.01M206.5 58.8h.01M206.5 59.5h.01M206.5 60.2h.01M206.5 60.9h.01M206.5 61.6h.01M206.5 62.3h.01M206.5 63h.01M206.5 63.7h.01M206.5 65.1h.01M206.5 65.8h.01M207.2 49h.01M207.2 50.4h.01M207.2 51.1h.01M207.2 52.5h.01M207.2 54.6h.01M207.2 56h.01M207.2 56.7h.01M207.2 58.8h.01M207.2 60.2h.01M207.2 60.9h.01M207.2 61.6h.01M207.2 62.3h.01M207.2 63h.01M207.2 63.7h.01M207.2 64.4h.01M207.2 65.1h.01M207.2 65.8h.01M207.2 68.6h.01M207.2 70.7h.01M207.9 49h.01M207.9 51.1h.01M207.9 52.5h.01M207.9 53.2h.01M207.9 53.9h.01M207.9 54.6h.01M207.9 55.3h.01M207.9 56h.01M207.9 56.7h.01M207.9 57.4h.01M207.9 59.5h.01M207.9 60.2h.01M207.9 60.9h.01M207.9 61.6h.01M207.9 62.3h.01M207.9 63h.01M207.9 64.4h.01M207.9 65.8h.01M207.9 66.5h.01M207.9 67.2h.01M207.9 69.3h.01M208.6 51.1h.01M208.6 51.8h.01M208.6 53.2h.01M208.6 54.6h.01M208.6 55.3h.01M208.6 56h.01M208.6 56.7h.01M208.6 57.4h.01M208.6 58.1h.01M208.6 58.8h.01M208.6 59.5h.01M208.6 60.2h.01M208.6 60.9h.01M208.6 61.6h.01M208.6 62.3h.01M208.6 63.7h.01M208.6 65.1h.01M208.6 65.8h.01M208.6 67.2h.01M209.3 46.9h.01M209.3 50.4h.01M209.3 51.1h.01M209.3 52.5h.01M209.3 53.2h.01M209.3 53.9h.01M209.3 54.6h.01M209.3 55.3h.01M209.3 56h.01M209.3 56.7h.01M209.3 57.4h.01M209.3 58.8h.01M209.3 59.5h.01M209.3 60.2h.01M209.3 60.9h.01M209.3 61.6h.01M209.3 62.3h.01M209.3 63h.01M209.3 63.7h.01M209.3 64.4h.01M209.3 65.1h.01M209.3 65.8h.01M209.3 66.5h.01M209.3 79.1h.01M210 49h.01M210 51.8h.01M210 53.2h.01M210 53.9h.01M210 54.6h.01M210 55.3h.01M210 56h.01M210 56.7h.01M210 57.4h.01M210 58.1h.01M210 58.8h.01M210 59.5h.01M210 60.9h.01M210 62.3h.01M210 63h.01M210 66.5h.01M210 67.9h.01M210.7 50.4h.01M210.7 51.1h.01M210.7 53.2h.01M210.7 54.6h.01M210.7 55.3h.01M210.7 56h.01M210.7 56.7h.01M210.7 57.4h.01M210.7 58.1h.01M210.7 58.8h.01M210.7 59.5h.01M210.7 60.2h.01M210.7 60.9h.01M210.7 61.6h.01M210.7 62.3h.01M210.7 63h.01M210.7 63.7h.01M210.7 64.4h.01M210.7 65.1h.01M210.7 65.8h.01M210.7 67.2h.01M210.7 67.9h.01M210.7 68.6h.01M210.7 72.1h.01M210.7 74.9h.01M210.7 75.6h.01M211.4 49.7h.01M211.4 51.1h.01M211.4 51.8h.01M211.4 52.5h.01M211.4 53.2h.01M211.4 53.9h.01M211.4 54.6h.01M211.4 55.3h.01M211.4 56h.01M211.4 56.7h.01M211.4 57.4h.01M211.4 58.1h.01M211.4 58.8h.01M211.4 59.5h.01M211.4 60.2h.01M211.4 60.9h.01M211.4 61.6h.01M211.4 62.3h.01M211.4 63h.01M211.4 63.7h.01M211.4 65.1h.01M211.4 66.5h.01M211.4 72.8h.01M212.1 51.1h.01M212.1 52.5h.01M212.1 53.2h.01M212.1 53.9h.01M212.1 54.6h.01M212.1 55.3h.01M212.1 56.7h.01M212.1 57.4h.01M212.1 58.1h.01M212.1 58.8h.01M212.1 59.5h.01M212.1 60.2h.01M212.1 60.9h.01M212.1 61.6h.01M212.1 63h.01M212.1 63.7h.01M212.1 64.4h.01M212.1 65.1h.01M212.1 66.5h.01M212.1 68.6h.01M212.8 48.3h.01M212.8 51.1h.01M212.8 51.8h.01M212.8 52.5h.01M212.8 53.2h.01M212.8 53.9h.01M212.8 55.3h.01M212.8 56h.01M212.8 56.7h.01M212.8 57.4h.01M212.8 58.1h.01M212.8 58.8h.01M212.8 59.5h.01M212.8 60.2h.01M212.8 60.9h.01M212.8 61.6h.01M212.8 62.3h.01M212.8 63.7h.01M212.8 65.1h.01M212.8 66.5h.01M212.8 67.2h.01M212.8 68.6h.01M212.8 69.3h.01M213.5 47.6h.01M213.5 51.8h.01M213.5 52.5h.01M213.5 53.9h.01M213.5 54.6h.01M213.5 55.3h.01M213.5 56h.01M213.5 57.4h.01M213.5 58.1h.01M213.5 58.8h.01M213.5 59.5h.01M213.5 60.2h.01M213.5 60.9h.01M213.5 61.6h.01M213.5 62.3h.01M213.5 63h.01M213.5 66.5h.01M213.5 72.8h.01M214.2 49.7h.01M214.2 51.1h.01M214.2 51.8h.01M214.2 52.5h.01M214.2 53.2h.01M214.2 53.9h.01M214.2 54.6h.01M214.2 55.3h.01M214.2 56h.01M214.2 56.7h.01M214.2 57.4h.01M214.2 58.1h.01M214.2 58.8h.01M214.2 59.5h.01M214.2 60.2h.01M214.2 60.9h.01M214.2 61.6h.01M214.2 62.3h.01M214.2 63.7h.01M214.2 70h.01M214.9 46.9h.01M214.9 51.1h.01M214.9 51.8h.01M214.9 52.5h.01M214.9 53.2h.01M214.9 53.9h.01M214.9 54.6h.01M214.9 55.3h.01M214.9 56.7h.01M214.9 57.4h.01M214.9 58.1h.01M214.9 58.8h.01M214.9 59.5h.01M214.9 60.2h.01M214.9 61.6h.01M214.9 62.3h.01M214.9 63h.01M214.9 63.7h.01M214.9 64.4h.01M214.9 65.8h.01M214.9 66.5h.01M214.9 67.2h.01M215.6 51.8h.01M215.6 52.5h.01M215.6 53.9h.01M215.6 55.3h.01M215.6 56h.01M215.6 56.7h.01M215.6 57.4h.01M215.6 58.1h.01M215.6 58.8h.01M215.6 59.5h.01M215.6 60.2h.01M215.6 60.9h.01M215.6 61.6h.01M215.6 62.3h.01M215.6 63h.01M215.6 63.7h.01M215.6 65.1h.01M215.6 66.5h.01M215.6 72.1h.01M215.6 74.9h.01M216.3 51.1h.01M216.3 51.8h.01M216.3 53.2h.01M216.3 53.9h.01M216.3 54.6h.01M216.3 55.3h.01M216.3 56h.01M216.3 56.7h.01M216.3 57.4h.01M216.3 58.1h.01M216.3 58.8h.01M216.3 59.5h.01M216.3 60.2h.01M216.3 61.6h.01M216.3 63h.01M216.3 63.7h.01M216.3 65.8h.01M216.3 66.5h.01M216.3 67.9h.01M216.3 68.6h.01M217 49h.01M217 51.8h.01M217 53.2h.01M217 53.9h.01M217 54.6h.01M217 55.3h.01M217 56h.01M217 56.7h.01M217 57.4h.01M217 58.1h.01M217 58.8h.01M217 59.5h.01M217 60.2h.01M217 60.9h.01M217 61.6h.01M217 62.3h.01M217 63h.01M217 63.7h.01M217 64.4h.01M217 65.1h.01M217 65.8h.01M217 67.9h.01M217 71.4h.01M217.7 43.4h.01M217.7 47.6h.01M217.7 51.1h.01M217.7 51.8h.01M217.7 52.5h.01M217.7 53.2h.01M217.7 54.6h.01M217.7 55.3h.01M217.7 56h.01M217.7 56.7h.01M217.7 57.4h.01M217.7 58.1h.01M217.7 58.8h.01M217.7 59.5h.01M217.7 60.2h.01M217.7 60.9h.01M217.7 61.6h.01M217.7 63h.01M217.7 73.5h.01M218.4 50.4h.01M218.4 51.8h.01M218.4 52.5h.01M218.4 53.2h.01M218.4 53.9h.01M218.4 54.6h.01M218.4 55.3h.01M218.4 56h.01M218.4 57.4h.01M218.4 58.1h.01M218.4 58.8h.01M218.4 59.5h.01M218.4 60.2h.01M218.4 60.9h.01M218.4 61.6h.01M218.4 63h.01M218.4 63.7h.01M218.4 64.4h.01M218.4 65.8h.01M218.4 67.9h.01M218.4 69.3h.01M219.1 50.4h.01M219.1 52.5h.01M219.1 53.2h.01M219.1 53.9h.01M219.1 54.6h.01M219.1 55.3h.01M219.1 56h.01M219.1 56.7h.01M219.1 57.4h.01M219.1 58.1h.01M219.1 58.8h.01M219.1 59.5h.01M219.1 60.2h.01M219.1 61.6h.01M219.1 62.3h.01M219.1 63h.01M219.1 63.7h.01M219.1 65.8h.01M219.1 67.2h.01M219.1 68.6h.01M219.1 71.4h.01M219.8 48.3h.01M219.8 50.4h.01M219.8 51.1h.01M219.8 52.5h.01M219.8 53.2h.01M219.8 53.9h.01M219.8 54.6h.01M219.8 56.7h.01M219.8 57.4h.01M219.8 58.1h.01M219.8 58.8h.01M219.8 59.5h.01M219.8 60.2h.01M219.8 60.9h.01M219.8 61.6h.01M219.8 62.3h.01M219.8 63h.01M219.8 65.1h.01M219.8 65.8h.01M219.8 67.2h.01M219.8 72.8h.01M220.5 48.3h.01M220.5 49h.01M220.5 49.7h.01M220.5 50.4h.01M220.5 51.8h.01M220.5 52.5h.01M220.5 53.2h.01M220.5 53.9h.01M220.5 54.6h.01M220.5 55.3h.01M220.5 56h.01M220.5 56.7h.01M220.5 57.4h.01M220.5 58.1h.01M220.5 58.8h.01M220.5 59.5h.01M220.5 60.2h.01M220.5 60.9h.01M220.5 61.6h.01M220.5 62.3h.01M220.5 63h.01M220.5 63.7h.01M220.5 64.4h.01M220.5 65.8h.01M220.5 66.5h.01M220.5 67.2h.01M220.5 68.6h.01M220.5 71.4h.01M221.2 46.2h.01M221.2 49h.01M221.2 49.7h.01M221.2 52.5h.01M221.2 53.9h.01M221.2 54.6h.01M221.2 55.3h.01M221.2 56h.01M221.2 56.7h.01M221.2 57.4h.01M221.2 58.1h.01M221.2 58.8h.01M221.2 59.5h.01M221.2 60.2h.01M221.2 60.9h.01M221.2 61.6h.01M221.2 62.3h.01M221.2 63.7h.01M221.2 66.5h.01M221.9 44.1h.01M221.9 49.7h.01M221.9 51.8h.01M221.9 52.5h.01M221.9 53.9h.01M221.9 54.6h.01M221.9 55.3h.01M221.9 56h.01M221.9 56.7h.01M221.9 57.4h.01M221.9 58.1h.01M221.9 58.8h.01M221.9 59.5h.01M221.9 60.2h.01M221.9 60.9h.01M221.9 62.3h.01M221.9 63h.01M221.9 63.7h.01M221.9 64.4h.01M221.9 65.1h.01M221.9 65.8h.01M222.6 46.2h.01M222.6 51.8h.01M222.6 52.5h.01M222.6 53.2h.01M222.6 53.9h.01M222.6 54.6h.01M222.6 55.3h.01M222.6 56h.01M222.6 56.7h.01M222.6 57.4h.01M222.6 58.1h.01M222.6 58.8h.01M222.6 59.5h.01M222.6 60.2h.01M222.6 60.9h.01M222.6 61.6h.01M222.6 62.3h.01M222.6 63.7h.01M222.6 64.4h.01M222.6 65.8h.01M222.6 67.2h.01M223.3 49.7h.01M223.3 51.1h.01M223.3 51.8h.01M223.3 52.5h.01M223.3 53.2h.01M223.3 53.9h.01M223.3 55.3h.01M223.3 56h.01M223.3 56.7h.01M223.3 57.4h.01M223.3 58.1h.01M223.3 58.8h.01M223.3 59.5h.01M223.3 60.2h.01M223.3 60.9h.01M223.3 61.6h.01M223.3 62.3h.01M223.3 63h.01M223.3 63.7h.01M223.3 64.4h.01M223.3 65.1h.01M223.3 66.5h.01M223.3 67.2h.01M223.3 71.4h.01M224 49h.01M224 51.1h.01M224 51.8h.01M224 52.5h.01M224 53.2h.01M224 53.9h.01M224 54.6h.01M224 55.3h.01M224 56h.01M224 56.7h.01M224 57.4h.01M224 58.1h.01M224 58.8h.01M224 59.5h.01M224 60.2h.01M224 61.6h.01M224 62.3h.01M224 65.1h.01M224 69.3h.01M224.7 50.4h.01M224.7 51.8h.01M224.7 52.5h.01M224.7 53.9h.01M224.7 54.6h.01M224.7 55.3h.01M224.7 56.7h.01M224.7 57.4h.01M224.7 58.1h.01M224.7 58.8h.01M224.7 59.5h.01M224.7 61.6h.01M224.7 62.3h.01M224.7 63h.01M224.7 64.4h.01M224.7 65.1h.01M224.7 65.8h.01M224.7 67.2h.01M225.4 52.5h.01M225.4 53.2h.01M225.4 53.9h.01M225.4 55.3h.01M225.4 56h.01M225.4 56.7h.01M225.4 57.4h.01M225.4 58.1h.01M225.4 58.8h.01M225.4 59.5h.01M225.4 60.2h.01M225.4 60.9h.01M225.4 61.6h.01M225.4 62.3h.01M225.4 63h.01M225.4 63.7h.01M225.4 64.4h.01M225.4 65.1h.01M225.4 65.8h.01M225.4 67.9h.01M226.1 46.9h.01M226.1 49.7h.01M226.1 50.4h.01M226.1 51.8h.01M226.1 52.5h.01M226.1 53.2h.01M226.1 53.9h.01M226.1 54.6h.01M226.1 55.3h.01M226.1 56h.01M226.1 56.7h.01M226.1 57.4h.01M226.1 58.1h.01M226.1 58.8h.01M226.1 59.5h.01M226.1 60.2h.01M226.1 60.9h.01M226.1 61.6h.01M226.1 62.3h.01M226.1 67.2h.01M226.8 46.9h.01M226.8 47.6h.01M226.8 50.4h.01M226.8 53.2h.01M226.8 53.9h.01M226.8 54.6h.01M226.8 55.3h.01M226.8 56.7h.01M226.8 57.4h.01M226.8 58.1h.01M226.8 58.8h.01M226.8 59.5h.01M226.8 60.2h.01M226.8 60.9h.01M226.8 61.6h.01M226.8 63h.01M226.8 63.7h.01M226.8 64.4h.01M226.8 65.1h.01M227.5 46.2h.01M227.5 47.6h.01M227.5 48.3h.01M227.5 49h.01M227.5 49.7h.01M227.5 51.1h.01M227.5 51.8h.01M227.5 53.2h.01M227.5 54.6h.01M227.5 55.3h.01M227.5 56h.01M227.5 56.7h.01M227.5 57.4h.01M227.5 58.1h.01M227.5 58.8h.01M227.5 59.5h.01M227.5 60.2h.01M227.5 60.9h.01M227.5 61.6h.01M227.5 63h.01M227.5 63.7h.01M227.5 72.1h.01M227.5 73.5h.01M227.5 74.2h.01M228.2 46.2h.01M228.2 50.4h.01M228.2 51.1h.01M228.2 51.8h.01M228.2 52.5h.01M228.2 53.2h.01M228.2 53.9h.01M228.2 54.6h.01M228.2 55.3h.01M228.2 56h.01M228.2 56.7h.01M228.2 57.4h.01M228.2 58.1h.01M228.2 58.8h.01M228.2 59.5h.01M228.2 60.2h.01M228.2 60.9h.01M228.2 61.6h.01M228.2 62.3h.01M228.2 63.7h.01M228.2 64.4h.01M228.2 65.8h.01M228.2 67.2h.01M228.2 69.3h.01M228.9 51.8h.01M228.9 52.5h.01M228.9 53.2h.01M228.9 53.9h.01M228.9 54.6h.01M228.9 55.3h.01M228.9 56h.01M228.9 56.7h.01M228.9 57.4h.01M228.9 58.8h.01M228.9 59.5h.01M228.9 60.2h.01M228.9 60.9h.01M228.9 61.6h.01M228.9 62.3h.01M228.9 63h.01M228.9 65.8h.01M228.9 66.5h.01M229.6 49h.01M229.6 49.7h.01M229.6 50.4h.01M229.6 51.1h.01M229.6 51.8h.01M229.6 52.5h.01M229.6 53.2h.01M229.6 53.9h.01M229.6 54.6h.01M229.6 56h.01M229.6 57.4h.01M229.6 58.1h.01M229.6 58.8h.01M229.6 59.5h.01M229.6 60.2h.01M229.6 60.9h.01M229.6 61.6h.01M229.6 62.3h.01M229.6 63h.01M229.6 63.7h.01M229.6 65.8h.01M229.6 77h.01M230.3 49.7h.01M230.3 52.5h.01M230.3 53.2h.01M230.3 53.9h.01M230.3 54.6h.01M230.3 55.3h.01M230.3 56h.01M230.3 56.7h.01M230.3 57.4h.01M230.3 58.1h.01M230.3 58.8h.01M230.3 59.5h.01M230.3 60.2h.01M230.3 60.9h.01M230.3 61.6h.01M230.3 62.3h.01M230.3 63h.01M230.3 63.7h.01M230.3 64.4h.01M230.3 70h.01M231 45.5h.01M231 46.2h.01M231 46.9h.01M231 48.3h.01M231 49h.01M231 49.7h.01M231 50.4h.01M231 51.1h.01M231 52.5h.01M231 53.2h.01M231 53.9h.01M231 54.6h.01M231 56h.01M231 56.7h.01M231 57.4h.01M231 58.1h.01M231 58.8h.01M231 59.5h.01M231 60.2h.01M231 61.6h.01M231 63h.01M231 69.3h.01M231.7 47.6h.01M231.7 50.4h.01M231.7 51.1h.01M231.7 51.8h.01M231.7 53.2h.01M231.7 53.9h.01M231.7 54.6h.01M231.7 55.3h.01M231.7 56h.01M231.7 56.7h.01M231.7 57.4h.01M231.7 58.1h.01M231.7 59.5h.01M231.7 60.2h.01M231.7 61.6h.01M231.7 62.3h.01M231.7 63.7h.01M231.7 66.5h.01M232.4 50.4h.01M232.4 51.8h.01M232.4 52.5h.01M232.4 53.9h.01M232.4 54.6h.01M232.4 55.3h.01M232.4 56h.01M232.4 56.7h.01M232.4 57.4h.01M232.4 58.1h.01M232.4 58.8h.01M232.4 59.5h.01M232.4 60.2h.01M232.4 60.9h.01M232.4 61.6h.01M232.4 62.3h.01M232.4 66.5h.01M232.4 67.2h.01M232.4 70.7h.01M232.4 71.4h.01M233.1 50.4h.01M233.1 51.1h.01M233.1 52.5h.01M233.1 53.2h.01M233.1 54.6h.01M233.1 55.3h.01M233.1 56h.01M233.1 56.7h.01M233.1 57.4h.01M233.1 58.1h.01M233.1 58.8h.01M233.1 59.5h.01M233.1 60.2h.01M233.1 60.9h.01M233.1 61.6h.01M233.1 63h.01M233.1 65.1h.01M233.1 65.8h.01M233.1 67.2h.01M233.8 49.7h.01M233.8 52.5h.01M233.8 53.2h.01M233.8 53.9h.01M233.8 55.3h.01M233.8 56h.01M233.8 56.7h.01M233.8 57.4h.01M233.8 58.1h.01M233.8 58.8h.01M233.8 59.5h.01M233.8 60.9h.01M233.8 61.6h.01M233.8 62.3h.01M233.8 63.7h.01M233.8 67.9h.01M233.8 71.4h.01M234.5 49h.01M234.5 52.5h.01M234.5 53.2h.01M234.5 53.9h.01M234.5 54.6h.01M234.5 56h.01M234.5 56.7h.01M234.5 57.4h.01M234.5 58.1h.01M234.5 59.5h.01M234.5 60.9h.01M234.5 62.3h.01M234.5 63h.01M234.5 63.7h.01M235.2 51.8h.01M235.2 52.5h.01M235.2 53.2h.01M235.2 53.9h.01M235.2 54.6h.01M235.2 55.3h.01M235.2 56.7h.01M235.2 57.4h.01M235.2 58.8h.01M235.2 60.2h.01M235.2 61.6h.01M235.2 62.3h.01M235.2 64.4h.01M235.2 67.2h.01M235.9 49.7h.01M235.9 50.4h.01M235.9 51.8h.01M235.9 52.5h.01M235.9 54.6h.01M235.9 55.3h.01M235.9 56h.01M235.9 57.4h.01M235.9 58.1h.01M235.9 59.5h.01M235.9 60.2h.01M235.9 61.6h.01M235.9 63h.01M235.9 65.1h.01M235.9 68.6h.01M235.9 72.8h.01M236.6 49h.01M236.6 49.7h.01M236.6 50.4h.01M236.6 51.8h.01M236.6 52.5h.01M236.6 53.2h.01M236.6 53.9h.01M236.6 54.6h.01M236.6 55.3h.01M236.6 56h.01M236.6 56.7h.01M236.6 57.4h.01M236.6 58.1h.01M236.6 58.8h.01M236.6 59.5h.01M236.6 60.9h.01M236.6 61.6h.01M236.6 62.3h.01M236.6 63h.01M236.6 63.7h.01M236.6 64.4h.01M236.6 66.5h.01M236.6 68.6h.01M236.6 70h.01M237.3 46.2h.01M237.3 48.3h.01M237.3 51.8h.01M237.3 52.5h.01M237.3 53.9h.01M237.3 54.6h.01M237.3 55.3h.01M237.3 56h.01M237.3 56.7h.01M237.3 57.4h.01M237.3 58.1h.01M237.3 58.8h.01M237.3 59.5h.01M237.3 60.2h.01M237.3 60.9h.01M237.3 63h.01M237.3 64.4h.01M238 44.1h.01M238 45.5h.01M238 50.4h.01M238 51.1h.01M238 51.8h.01M238 53.2h.01M238 53.9h.01M238 55.3h.01M238 56h.01M238 56.7h.01M238 57.4h.01M238 58.1h.01M238 58.8h.01M238 60.2h.01M238 61.6h.01M238 63h.01M238 63.7h.01M238 67.9h.01M238.7 49.7h.01M238.7 50.4h.01M238.7 51.1h.01M238.7 51.8h.01M238.7 52.5h.01M238.7 53.2h.01M238.7 53.9h.01M238.7 54.6h.01M238.7 55.3h.01M238.7 56h.01M238.7 57.4h.01M238.7 58.1h.01M238.7 58.8h.01M238.7 59.5h.01M238.7 60.2h.01M238.7 60.9h.01M238.7 62.3h.01M238.7 63.7h.01M238.7 65.1h.01M238.7 67.2h.01M239.4 49.7h.01M239.4 51.1h.01M239.4 51.8h.01M239.4 52.5h.01M239.4 53.2h.01M239.4 53.9h.01M239.4 54.6h.01M239.4 55.3h.01M239.4 56h.01M239.4 57.4h.01M239.4 58.1h.01M239.4 58.8h.01M239.4 59.5h.01M239.4 61.6h.01M239.4 66.5h.01M240.1 43.4h.01M240.1 50.4h.01M240.1 51.1h.01M240.1 51.8h.01M240.1 52.5h.01M240.1 53.2h.01M240.1 53.9h.01M240.1 55.3h.01M240.1 56h.01M240.1 56.7h.01M240.1 57.4h.01M240.1 59.5h.01M240.1 60.2h.01M240.1 60.9h.01M240.1 61.6h.01M240.1 63h.01M240.1 64.4h.01M240.1 65.8h.01M240.8 47.6h.01M240.8 49h.01M240.8 51.1h.01M240.8 51.8h.01M240.8 52.5h.01M240.8 53.9h.01M240.8 54.6h.01M240.8 55.3h.01M240.8 56h.01M240.8 56.7h.01M240.8 58.1h.01M240.8 58.8h.01M240.8 60.9h.01M240.8 62.3h.01M240.8 63h.01M241.5 51.1h.01M241.5 51.8h.01M241.5 52.5h.01M241.5 53.2h.01M241.5 53.9h.01M241.5 54.6h.01M241.5 56h.01M241.5 56.7h.01M241.5 57.4h.01M241.5 58.1h.01M241.5 59.5h.01M241.5 60.2h.01M241.5 60.9h.01M241.5 65.1h.01M242.2 49.7h.01M242.2 51.8h.01M242.2 52.5h.01M242.2 53.9h.01M242.2 54.6h.01M242.2 55.3h.01M242.2 56.7h.01M242.2 57.4h.01M242.2 58.1h.01M242.2 59.5h.01M242.2 63.7h.01M242.2 65.1h.01M242.2 66.5h.01M242.9 48.3h.01M242.9 51.1h.01M242.9 52.5h.01M242.9 53.2h.01M242.9 54.6h.01M242.9 55.3h.01M242.9 56h.01M242.9 57.4h.01M242.9 58.8h.01M242.9 59.5h.01M242.9 60.2h.01M242.9 60.9h.01M242.9 62.3h.01M242.9 63h.01M242.9 63.7h.01M242.9 65.8h.01M243.6 47.6h.01M243.6 50.4h.01M243.6 51.1h.01M243.6 51.8h.01M243.6 52.5h.01M243.6 53.2h.01M243.6 55.3h.01M243.6 56h.01M243.6 56.7h.01M243.6 57.4h.01M243.6 58.1h.01M243.6 58.8h.01M243.6 60.2h.01M243.6 62.3h.01M243.6 63h.01M244.3 49h.01M244.3 51.1h.01M244.3 52.5h.01M244.3 54.6h.01M244.3 55.3h.01M244.3 56h.01M244.3 57.4h.01M244.3 60.2h.01M244.3 62.3h.01M245 47.6h.01M245 49h.01M245 52.5h.01M245 54.6h.01M245 55.3h.01M245 56.7h.01M245 57.4h.01M245 58.1h.01M245 59.5h.01M245 63.7h.01M245.7 51.8h.01M245.7 53.2h.01M245.7 53.9h.01M245.7 54.6h.01M245.7 56.7h.01M245.7 57.4h.01M245.7 58.1h.01M245.7 58.8h.01M245.7 59.5h.01M245.7 60.2h.01M245.7 63h.01M246.4 49h.01M246.4 51.8h.01M246.4 52.5h.01M246.4 56h.01M246.4 58.8h.01M246.4 60.9h.01M246.4 62.3h.01M246.4 63h.01M246.4 67.9h.01M246.4 70h.01M247.1 47.6h.01M247.1 53.2h.01M247.1 53.9h.01M247.1 55.3h.01M247.1 56h.01M247.1 56.7h.01M247.1 57.4h.01M247.1 58.1h.01M247.1 58.8h.01M247.1 59.5h.01M247.1 61.6h.01M247.8 47.6h.01M247.8 49.7h.01M247.8 55.3h.01M247.8 56h.01M247.8 57.4h.01M247.8 59.5h.01M247.8 63.7h.01M247.8 65.8h.01M247.8 72.8h.01M248.5 49h.01M248.5 49.7h.01M248.5 50.4h.01M248.5 54.6h.01M248.5 56h.01M248.5 56.7h.01M248.5 57.4h.01M248.5 58.8h.01M248.5 59.5h.01M248.5 61.6h.01M248.5 63h.01M248.5 70.7h.01M249.2 51.8h.01M249.2 53.9h.01M249.2 54.6h.01M249.2 55.3h.01M249.2 56.7h.01M249.2 57.4h.01M249.2 59.5h.01M249.2 60.2h.01M249.2 60.9h.01M249.2 63h.01M249.2 64.4h.01M249.2 65.1h.01M249.9 48.3h.01M249.9 52.5h.01M249.9 56.7h.01M249.9 57.4h.01M249.9 58.1h.01M249.9 59.5h.01M249.9 60.2h.01M249.9 61.6h.01M249.9 67.9h.01M250.6 46.9h.01M250.6 51.8h.01M250.6 52.5h.01M250.6 54.6h.01M250.6 56.7h.01M250.6 58.8h.01M250.6 59.5h.01M250.6 67.2h.01M250.6 67.9h.01M251.3 49h.01M251.3 52.5h.01M251.3 53.9h.01M251.3 54.6h.01M251.3 57.4h.01M251.3 59.5h.01M251.3 65.1h.01M251.3 68.6h.01M252 56h.01M252 58.1h.01M252 62.3h.01M252 64.4h.01M252.7 50.4h.01M252.7 51.1h.01M252.7 52.5h.01M252.7 56h.01M252.7 58.1h.01M252.7 65.1h.01M252.7 67.9h.01M253.4 41.3h.01M253.4 53.2h.01M253.4 55.3h.01M253.4 56.7h.01M253.4 57.4h.01M253.4 58.1h.01M253.4 58.8h.01M253.4 59.5h.01M253.4 62.3h.01M253.4 65.1h.01M254.1 51.1h.01M254.1 51.8h.01M254.1 56h.01M254.1 58.1h.01M254.1 59.5h.01M254.1 63.7h.01M254.1 66.5h.01M254.8 51.1h.01M254.8 51.8h.01M254.8 52.5h.01M254.8 53.9h.01M254.8 54.6h.01M254.8 60.2h.01M255.5 49.7h.01M255.5 53.9h.01M255.5 57.4h.01M255.5 58.1h.01M256.2 52.5h.01M256.2 53.9h.01M256.9 51.1h.01M256.9 53.9h.01M256.9 54.6h.01M256.9 56.7h.01M256.9 58.1h.01M256.9 59.5h.01M256.9 60.2h.01M257.6 48.3h.01M257.6 49.7h.01M257.6 56h.01M257.6 58.1h.01M257.6 65.8h.01M258.3 53.9h.01M258.3 56.7h.01M258.3 57.4h.01M258.3 60.9h.01M258.3 61.6h.01M258.3 63.7h.01M259 52.5h.01M259 59.5h.01M259.7 49.7h.01M259.7 54.6h.01M259.7 60.2h.01M259.7 65.1h.01M260.4 58.8h.01M261.1 51.1h.01M261.8 53.2h.01M261.8 54.6h.01M261.8 58.8h.01M262.5 46.2h.01M262.5 55.3h.01M262.5 58.1h.01M263.2 47.6h.01M263.2 51.8h.01M263.2 57.4h.01M263.2 60.2h.01M264.6 49.7h.01M264.6 53.9h.01M264.6 57.4h.01M264.6 71.4h.01M265.3 53.2h.01M265.3 53.9h.01M265.3 67.2h.01M266.7 57.4h.01M266.7 59.5h.01M267.4 56.7h.01M267.4 57.4h.01M268.8 53.2h.01M269.5 53.9h.01M270.2 57.4h.01M272.3 57.4h.01M273.7 54.6h.01" stroke="#2556d6" stroke-width="1.35" stroke-linecap="square" fill="none"/>
<line x1="168" y1="64.6" x2="271" y2="52" stroke="#f01020" stroke-width="2"/>
<rect x="165.8" y="37.8" width="109.7" height="96" fill="none" stroke="#333" stroke-width="1.6"/>
<text x="179.8" y="32.7" font-size="9">ER+/PR+ (<tspan font-style="italic">n=3,262</tspan>)</text>
<text x="162.7" y="48.6" font-size="6.4" text-anchor="end">1</text>
<text x="162.7" y="64.8" font-size="6.4" text-anchor="end">0</text>
<text x="162.7" y="81" font-size="6.4" text-anchor="end">-1</text>
<text x="162.7" y="97.2" font-size="6.4" text-anchor="end">-2</text>
<text x="162.7" y="113.4" font-size="6.4" text-anchor="end">-3</text>
<text x="162.7" y="129.6" font-size="6.4" text-anchor="end">-4</text>
<text x="176.2" y="143.2" font-size="6.4" text-anchor="middle">-2</text>
<text x="194.2" y="143.2" font-size="6.4" text-anchor="middle">-1</text>
<text x="212.2" y="143.2" font-size="6.4" text-anchor="middle">0</text>
<text x="228.5" y="143.2" font-size="6.4" text-anchor="middle">1</text>
<text x="245.2" y="143.2" font-size="6.4" text-anchor="middle">2</text>
<text x="261.7" y="143.2" font-size="6.4" text-anchor="middle">3</text>
<text transform="translate(154.5 89.9) rotate(-90)" font-size="7.8" font-style="italic" text-anchor="middle">FOXA1</text>
<text x="220.2" y="153.9" font-size="8.3" font-style="italic" text-anchor="middle">FGFR3</text>
<text transform="translate(172.3 127.5) scale(1 1.1)" font-size="7.8" font-style="italic">R=0.26</text>
<text transform="translate(270.9 127.5) scale(1 1.1)" font-size="8" font-style="italic" text-anchor="end">P&lt;0.0001</text>
<path d="M339.7 76.7h.01M344.7 74.1h.01M366.3 68.5h.01M347.8 100h.01M353 71.5h.01M352.4 108.4h.01M332.6 70.1h.01M377.1 71.3h.01M344.9 97.4h.01M342.8 81.1h.01M351.8 105.1h.01M366 67.8h.01M344.7 68.5h.01M364.7 120h.01M335.2 75.5h.01M332.6 92.2h.01M334.4 93.3h.01M354.7 99h.01M365.6 127.6h.01M344.8 71.6h.01M366.5 92.4h.01M365 85.5h.01M332.4 84.3h.01M331.1 118h.01M340.8 78.7h.01M369.4 78.5h.01M338.3 93.8h.01M359.6 101.6h.01M336.1 109.3h.01M319.7 88.9h.01M376 66.7h.01M346.9 67.7h.01M367.8 106.5h.01M353.7 68h.01M320.1 72.2h.01M357.5 82.7h.01M369.7 71.6h.01M373.4 131.4h.01M379.6 75.5h.01M357.5 93.1h.01M348.7 117.9h.01M329.8 66.5h.01M363.5 67.8h.01M363.3 99.8h.01M356.7 129.4h.01M336.8 126.3h.01M361.9 67.1h.01M340.7 73.1h.01M372.6 68.3h.01M339.7 77.1h.01M344.8 116h.01M332.1 75.6h.01M334.5 74.3h.01M345.4 77.5h.01M306.7 94.5h.01M385.9 101.3h.01M357 66.7h.01M355.6 73.4h.01M334.7 123.3h.01M353.8 68.1h.01M350.2 88.6h.01M352.1 66.3h.01M324 71.3h.01M348.2 115.3h.01M316.7 76.3h.01M346.8 101.1h.01M334.5 114.9h.01M339.5 80.8h.01M344.5 92.2h.01M365.2 68.5h.01M372 67.6h.01M350.8 99h.01M331.1 98.9h.01M376.7 70.7h.01M325.3 80.9h.01M346.4 86h.01M337.1 124.1h.01M374 66.1h.01M357.4 71h.01M369.4 96.8h.01M344.9 111.3h.01M365.7 81.8h.01M347.5 71.3h.01M347.6 85.6h.01M355.5 78.2h.01M357.1 111.4h.01M360.4 106.8h.01M346.4 100.6h.01M323.4 68.8h.01M344.5 97.8h.01M345 77.6h.01M335.6 69.3h.01M385.8 123.4h.01M344 127.7h.01M321.6 70.3h.01M357.6 99.8h.01M358.8 76.6h.01M388.9 92.6h.01M335.2 74.7h.01M355.3 98.3h.01M352.7 86.2h.01M337.9 77.6h.01M355.2 74.4h.01M372.5 73h.01M334.8 96.6h.01M368 74.3h.01M361.7 88.7h.01M318.4 93.7h.01M391.4 108.9h.01M360.1 96.7h.01M387.1 87.6h.01M380.2 120.4h.01M351.8 120.7h.01M385.6 80.5h.01M336.8 114.9h.01" stroke="#5580e4" stroke-width="1.6" stroke-linecap="square" fill="none"/>
<path d="M317.8 56.7h.01M326.2 64.4h.01M326.9 74.9h.01M327.6 63.7h.01M327.6 76.3h.01M328.3 65.1h.01M330.4 64.4h.01M332.5 61.6h.01M332.5 72.1h.01M332.5 72.8h.01M333.2 63.7h.01M334.6 60.9h.01M334.6 62.3h.01M334.6 67.2h.01M335.3 65.1h.01M336 63h.01M336 65.1h.01M336 65.8h.01M336 68.6h.01M336 70h.01M336.7 63.7h.01M336.7 67.2h.01M337.4 63.7h.01M337.4 64.4h.01M338.1 60.9h.01M338.1 65.8h.01M338.1 70h.01M338.8 58.8h.01M338.8 64.4h.01M338.8 66.5h.01M338.8 71.4h.01M339.5 61.6h.01M339.5 62.3h.01M339.5 65.8h.01M339.5 67.2h.01M339.5 67.9h.01M339.5 70.7h.01M340.2 62.3h.01M340.2 63h.01M340.2 66.5h.01M340.2 67.2h.01M340.2 70h.01M340.2 70.7h.01M340.9 58.8h.01M340.9 60.2h.01M340.9 63h.01M340.9 65.8h.01M340.9 67.9h.01M340.9 74.9h.01M341.6 57.4h.01M341.6 65.1h.01M341.6 67.2h.01M342.3 60.9h.01M342.3 61.6h.01M342.3 63h.01M343 52.5h.01M343 54.6h.01M343 60.2h.01M343 60.9h.01M343 62.3h.01M343 64.4h.01M343 65.8h.01M343 67.9h.01M343 70h.01M343.7 52.5h.01M343.7 60.2h.01M343.7 65.1h.01M343.7 67.9h.01M343.7 69.3h.01M344.4 57.4h.01M344.4 60.9h.01M344.4 62.3h.01M344.4 63h.01M344.4 64.4h.01M344.4 67.2h.01M344.4 67.9h.01M344.4 72.8h.01M345.1 58.1h.01M345.1 58.8h.01M345.1 59.5h.01M345.1 60.9h.01M345.1 61.6h.01M345.1 63h.01M345.1 65.1h.01M345.1 66.5h.01M345.1 70h.01M345.1 71.4h.01M345.8 46.2h.01M345.8 49h.01M345.8 60.9h.01M345.8 63h.01M345.8 63.7h.01M345.8 66.5h.01M345.8 67.9h.01M345.8 70.7h.01M346.5 52.5h.01M346.5 57.4h.01M346.5 58.1h.01M346.5 59.5h.01M346.5 61.6h.01M346.5 62.3h.01M346.5 63.7h.01M346.5 64.4h.01M346.5 65.1h.01M346.5 75.6h.01M347.2 55.3h.01M347.2 57.4h.01M347.2 58.1h.01M347.2 59.5h.01M347.2 60.9h.01M347.2 61.6h.01M347.2 64.4h.01M347.2 66.5h.01M347.2 68.6h.01M347.2 70h.01M347.2 71.4h.01M347.2 72.8h.01M347.9 46.2h.01M347.9 53.9h.01M347.9 56.7h.01M347.9 57.4h.01M347.9 58.8h.01M347.9 59.5h.01M347.9 60.2h.01M347.9 60.9h.01M347.9 63h.01M347.9 63.7h.01M347.9 64.4h.01M347.9 65.1h.01M347.9 67.2h.01M347.9 70h.01M347.9 70.7h.01M347.9 72.8h.01M348.6 53.9h.01M348.6 56h.01M348.6 58.8h.01M348.6 60.2h.01M348.6 60.9h.01M348.6 61.6h.01M348.6 63h.01M348.6 63.7h.01M348.6 64.4h.01M348.6 65.1h.01M348.6 66.5h.01M348.6 68.6h.01M348.6 74.9h.01M349.3 54.6h.01M349.3 57.4h.01M349.3 58.1h.01M349.3 58.8h.01M349.3 59.5h.01M349.3 62.3h.01M349.3 63h.01M349.3 63.7h.01M349.3 65.1h.01M349.3 70h.01M350 51.1h.01M350 58.8h.01M350 59.5h.01M350 60.2h.01M350 62.3h.01M350 63h.01M350 63.7h.01M350 64.4h.01M350 67.2h.01M350 67.9h.01M350 68.6h.01M350.7 52.5h.01M350.7 53.9h.01M350.7 54.6h.01M350.7 56.7h.01M350.7 57.4h.01M350.7 58.1h.01M350.7 60.2h.01M350.7 60.9h.01M350.7 61.6h.01M350.7 63h.01M350.7 63.7h.01M350.7 64.4h.01M350.7 65.1h.01M351.4 51.8h.01M351.4 53.2h.01M351.4 55.3h.01M351.4 56h.01M351.4 56.7h.01M351.4 57.4h.01M351.4 59.5h.01M351.4 60.9h.01M351.4 61.6h.01M351.4 62.3h.01M351.4 63.7h.01M351.4 64.4h.01M351.4 65.8h.01M351.4 67.2h.01M351.4 70h.01M351.4 72.1h.01M352.1 53.2h.01M352.1 53.9h.01M352.1 56h.01M352.1 57.4h.01M352.1 58.1h.01M352.1 60.2h.01M352.1 60.9h.01M352.1 62.3h.01M352.1 63.7h.01M352.1 64.4h.01M352.1 65.1h.01M352.1 67.2h.01M352.1 69.3h.01M352.1 70h.01M352.1 70.7h.01M352.8 53.2h.01M352.8 55.3h.01M352.8 56h.01M352.8 57.4h.01M352.8 58.1h.01M352.8 59.5h.01M352.8 60.2h.01M352.8 60.9h.01M352.8 61.6h.01M352.8 62.3h.01M352.8 63h.01M352.8 63.7h.01M352.8 64.4h.01M352.8 65.1h.01M352.8 65.8h.01M352.8 66.5h.01M352.8 70h.01M353.5 51.8h.01M353.5 53.2h.01M353.5 53.9h.01M353.5 56.7h.01M353.5 57.4h.01M353.5 58.8h.01M353.5 60.2h.01M353.5 60.9h.01M353.5 61.6h.01M353.5 62.3h.01M353.5 63.7h.01M353.5 64.4h.01M353.5 65.1h.01M353.5 67.9h.01M353.5 70.7h.01M354.2 51.1h.01M354.2 53.9h.01M354.2 56.7h.01M354.2 58.1h.01M354.2 59.5h.01M354.2 60.2h.01M354.2 60.9h.01M354.2 62.3h.01M354.2 64.4h.01M354.2 65.1h.01M354.2 69.3h.01M354.2 70h.01M354.2 73.5h.01M354.9 43.4h.01M354.9 51.1h.01M354.9 52.5h.01M354.9 53.9h.01M354.9 54.6h.01M354.9 55.3h.01M354.9 56h.01M354.9 57.4h.01M354.9 59.5h.01M354.9 60.2h.01M354.9 60.9h.01M354.9 61.6h.01M354.9 62.3h.01M354.9 63h.01M354.9 63.7h.01M354.9 64.4h.01M354.9 65.1h.01M354.9 66.5h.01M354.9 67.2h.01M354.9 68.6h.01M354.9 70h.01M354.9 73.5h.01M355.6 53.2h.01M355.6 56h.01M355.6 56.7h.01M355.6 57.4h.01M355.6 58.8h.01M355.6 60.2h.01M355.6 61.6h.01M355.6 62.3h.01M355.6 63h.01M355.6 63.7h.01M355.6 64.4h.01M355.6 65.1h.01M355.6 65.8h.01M355.6 67.2h.01M355.6 67.9h.01M355.6 68.6h.01M356.3 48.3h.01M356.3 51.8h.01M356.3 53.9h.01M356.3 55.3h.01M356.3 56h.01M356.3 56.7h.01M356.3 57.4h.01M356.3 58.1h.01M356.3 58.8h.01M356.3 59.5h.01M356.3 60.2h.01M356.3 61.6h.01M356.3 62.3h.01M356.3 63h.01M356.3 64.4h.01M356.3 65.1h.01M356.3 67.2h.01M356.3 69.3h.01M356.3 70h.01M357 55.3h.01M357 56h.01M357 56.7h.01M357 57.4h.01M357 58.1h.01M357 58.8h.01M357 59.5h.01M357 60.2h.01M357 60.9h.01M357 61.6h.01M357 62.3h.01M357 63h.01M357 63.7h.01M357 64.4h.01M357 65.1h.01M357 65.8h.01M357 67.2h.01M357 68.6h.01M357 70.7h.01M357.7 54.6h.01M357.7 56h.01M357.7 56.7h.01M357.7 57.4h.01M357.7 58.1h.01M357.7 58.8h.01M357.7 59.5h.01M357.7 60.2h.01M357.7 61.6h.01M357.7 63h.01M357.7 63.7h.01M357.7 64.4h.01M357.7 65.1h.01M357.7 65.8h.01M357.7 68.6h.01M357.7 71.4h.01M357.7 72.1h.01M357.7 73.5h.01M358.4 51.1h.01M358.4 54.6h.01M358.4 55.3h.01M358.4 56.7h.01M358.4 58.1h.01M358.4 58.8h.01M358.4 59.5h.01M358.4 60.2h.01M358.4 60.9h.01M358.4 61.6h.01M358.4 62.3h.01M358.4 63h.01M358.4 63.7h.01M358.4 64.4h.01M358.4 65.1h.01M358.4 65.8h.01M358.4 67.9h.01M358.4 70h.01M359.1 52.5h.01M359.1 53.2h.01M359.1 53.9h.01M359.1 54.6h.01M359.1 55.3h.01M359.1 56h.01M359.1 56.7h.01M359.1 57.4h.01M359.1 58.1h.01M359.1 59.5h.01M359.1 60.2h.01M359.1 60.9h.01M359.1 61.6h.01M359.1 62.3h.01M359.1 63h.01M359.1 64.4h.01M359.1 65.1h.01M359.1 65.8h.01M359.1 66.5h.01M359.1 67.2h.01M359.1 72.8h.01M359.8 51.8h.01M359.8 53.9h.01M359.8 55.3h.01M359.8 56.7h.01M359.8 57.4h.01M359.8 58.8h.01M359.8 59.5h.01M359.8 60.2h.01M359.8 60.9h.01M359.8 61.6h.01M359.8 62.3h.01M359.8 63h.01M359.8 63.7h.01M359.8 64.4h.01M359.8 65.1h.01M359.8 66.5h.01M359.8 67.2h.01M360.5 46.9h.01M360.5 49h.01M360.5 53.2h.01M360.5 55.3h.01M360.5 56h.01M360.5 56.7h.01M360.5 57.4h.01M360.5 58.8h.01M360.5 59.5h.01M360.5 60.2h.01M360.5 60.9h.01M360.5 61.6h.01M360.5 62.3h.01M360.5 63h.01M360.5 63.7h.01M360.5 65.1h.01M360.5 67.2h.01M360.5 68.6h.01M360.5 72.1h.01M361.2 49h.01M361.2 53.9h.01M361.2 55.3h.01M361.2 56.7h.01M361.2 57.4h.01M361.2 58.1h.01M361.2 58.8h.01M361.2 59.5h.01M361.2 60.2h.01M361.2 60.9h.01M361.2 61.6h.01M361.2 62.3h.01M361.2 63h.01M361.2 64.4h.01M361.2 65.1h.01M361.2 65.8h.01M361.2 66.5h.01M361.9 50.4h.01M361.9 53.2h.01M361.9 53.9h.01M361.9 54.6h.01M361.9 55.3h.01M361.9 56h.01M361.9 56.7h.01M361.9 57.4h.01M361.9 58.1h.01M361.9 58.8h.01M361.9 59.5h.01M361.9 60.2h.01M361.9 60.9h.01M361.9 61.6h.01M361.9 62.3h.01M361.9 63h.01M361.9 63.7h.01M361.9 65.8h.01M361.9 66.5h.01M361.9 68.6h.01M361.9 69.3h.01M362.6 51.1h.01M362.6 51.8h.01M362.6 53.2h.01M362.6 53.9h.01M362.6 54.6h.01M362.6 55.3h.01M362.6 56h.01M362.6 56.7h.01M362.6 57.4h.01M362.6 58.1h.01M362.6 58.8h.01M362.6 59.5h.01M362.6 60.2h.01M362.6 60.9h.01M362.6 61.6h.01M362.6 62.3h.01M362.6 63h.01M362.6 63.7h.01M362.6 64.4h.01M362.6 66.5h.01M362.6 67.9h.01M362.6 79.1h.01M363.3 44.8h.01M363.3 49.7h.01M363.3 52.5h.01M363.3 53.2h.01M363.3 53.9h.01M363.3 56h.01M363.3 56.7h.01M363.3 57.4h.01M363.3 58.1h.01M363.3 58.8h.01M363.3 59.5h.01M363.3 60.2h.01M363.3 60.9h.01M363.3 61.6h.01M363.3 63h.01M363.3 63.7h.01M363.3 64.4h.01M363.3 66.5h.01M364 47.6h.01M364 48.3h.01M364 49h.01M364 51.1h.01M364 51.8h.01M364 53.2h.01M364 53.9h.01M364 54.6h.01M364 55.3h.01M364 56h.01M364 56.7h.01M364 57.4h.01M364 58.1h.01M364 58.8h.01M364 59.5h.01M364 60.2h.01M364 60.9h.01M364 61.6h.01M364 62.3h.01M364 63h.01M364 63.7h.01M364 65.8h.01M364 67.9h.01M364 68.6h.01M364.7 48.3h.01M364.7 49h.01M364.7 51.8h.01M364.7 54.6h.01M364.7 55.3h.01M364.7 56h.01M364.7 56.7h.01M364.7 57.4h.01M364.7 58.1h.01M364.7 58.8h.01M364.7 59.5h.01M364.7 60.2h.01M364.7 60.9h.01M364.7 61.6h.01M364.7 62.3h.01M364.7 63h.01M364.7 63.7h.01M364.7 64.4h.01M364.7 65.8h.01M364.7 67.9h.01M364.7 68.6h.01M364.7 77.7h.01M365.4 51.8h.01M365.4 52.5h.01M365.4 53.2h.01M365.4 53.9h.01M365.4 54.6h.01M365.4 55.3h.01M365.4 56h.01M365.4 56.7h.01M365.4 57.4h.01M365.4 58.1h.01M365.4 58.8h.01M365.4 59.5h.01M365.4 60.2h.01M365.4 60.9h.01M365.4 61.6h.01M365.4 62.3h.01M365.4 63h.01M365.4 63.7h.01M365.4 64.4h.01M365.4 65.1h.01M365.4 65.8h.01M365.4 66.5h.01M365.4 68.6h.01M365.4 69.3h.01M366.1 50.4h.01M366.1 51.1h.01M366.1 51.8h.01M366.1 53.2h.01M366.1 53.9h.01M366.1 54.6h.01M366.1 56h.01M366.1 56.7h.01M366.1 57.4h.01M366.1 58.1h.01M366.1 58.8h.01M366.1 59.5h.01M366.1 60.2h.01M366.1 60.9h.01M366.1 61.6h.01M366.1 62.3h.01M366.1 63h.01M366.1 63.7h.01M366.1 64.4h.01M366.1 65.1h.01M366.1 65.8h.01M366.1 67.9h.01M366.1 70h.01M366.8 46.2h.01M366.8 47.6h.01M366.8 49h.01M366.8 51.8h.01M366.8 52.5h.01M366.8 53.2h.01M366.8 53.9h.01M366.8 54.6h.01M366.8 55.3h.01M366.8 56.7h.01M366.8 57.4h.01M366.8 58.1h.01M366.8 58.8h.01M366.8 59.5h.01M366.8 60.2h.01M366.8 60.9h.01M366.8 62.3h.01M366.8 63h.01M366.8 64.4h.01M366.8 65.1h.01M366.8 65.8h.01M366.8 66.5h.01M366.8 67.9h.01M366.8 72.1h.01M367.5 46.9h.01M367.5 47.6h.01M367.5 50.4h.01M367.5 51.8h.01M367.5 52.5h.01M367.5 53.2h.01M367.5 53.9h.01M367.5 54.6h.01M367.5 56h.01M367.5 56.7h.01M367.5 57.4h.01M367.5 58.1h.01M367.5 58.8h.01M367.5 59.5h.01M367.5 60.2h.01M367.5 60.9h.01M367.5 61.6h.01M367.5 62.3h.01M367.5 63h.01M367.5 63.7h.01M367.5 64.4h.01M367.5 65.8h.01M367.5 70h.01M367.5 70.7h.01M368.2 46.2h.01M368.2 47.6h.01M368.2 51.1h.01M368.2 51.8h.01M368.2 52.5h.01M368.2 53.2h.01M368.2 53.9h.01M368.2 54.6h.01M368.2 55.3h.01M368.2 56h.01M368.2 57.4h.01M368.2 58.1h.01M368.2 58.8h.01M368.2 59.5h.01M368.2 60.2h.01M368.2 60.9h.01M368.2 61.6h.01M368.2 62.3h.01M368.2 63h.01M368.2 63.7h.01M368.2 64.4h.01M368.2 65.1h.01M368.2 65.8h.01M368.2 67.2h.01M368.9 49h.01M368.9 51.8h.01M368.9 52.5h.01M368.9 53.9h.01M368.9 54.6h.01M368.9 55.3h.01M368.9 56.7h.01M368.9 57.4h.01M368.9 58.1h.01M368.9 58.8h.01M368.9 59.5h.01M368.9 60.2h.01M368.9 60.9h.01M368.9 61.6h.01M368.9 63h.01M368.9 63.7h.01M368.9 65.1h.01M368.9 67.2h.01M368.9 67.9h.01M369.6 49.7h.01M369.6 51.1h.01M369.6 51.8h.01M369.6 52.5h.01M369.6 53.9h.01M369.6 54.6h.01M369.6 55.3h.01M369.6 56h.01M369.6 56.7h.01M369.6 57.4h.01M369.6 58.1h.01M369.6 58.8h.01M369.6 59.5h.01M369.6 60.2h.01M369.6 60.9h.01M369.6 61.6h.01M369.6 62.3h.01M369.6 63.7h.01M369.6 65.1h.01M369.6 65.8h.01M369.6 67.9h.01M369.6 70.7h.01M370.3 49.7h.01M370.3 51.1h.01M370.3 51.8h.01M370.3 52.5h.01M370.3 53.2h.01M370.3 53.9h.01M370.3 54.6h.01M370.3 55.3h.01M370.3 56h.01M370.3 56.7h.01M370.3 57.4h.01M370.3 58.1h.01M370.3 58.8h.01M370.3 59.5h.01M370.3 60.2h.01M370.3 60.9h.01M370.3 61.6h.01M370.3 63h.01M370.3 64.4h.01M370.3 65.1h.01M370.3 65.8h.01M370.3 66.5h.01M370.3 71.4h.01M371 49h.01M371 49.7h.01M371 50.4h.01M371 51.1h.01M371 53.2h.01M371 53.9h.01M371 54.6h.01M371 55.3h.01M371 56h.01M371 56.7h.01M371 57.4h.01M371 58.1h.01M371 58.8h.01M371 59.5h.01M371 60.2h.01M371 60.9h.01M371 61.6h.01M371 62.3h.01M371 63h.01M371 63.7h.01M371 65.1h.01M371 67.2h.01M371 67.9h.01M371 70.7h.01M371.7 48.3h.01M371.7 49h.01M371.7 49.7h.01M371.7 51.1h.01M371.7 51.8h.01M371.7 52.5h.01M371.7 53.2h.01M371.7 53.9h.01M371.7 54.6h.01M371.7 55.3h.01M371.7 56h.01M371.7 56.7h.01M371.7 57.4h.01M371.7 58.1h.01M371.7 58.8h.01M371.7 59.5h.01M371.7 60.2h.01M371.7 61.6h.01M371.7 63.7h.01M371.7 65.1h.01M371.7 65.8h.01M371.7 66.5h.01M371.7 72.1h.01M372.4 45.5h.01M372.4 49h.01M372.4 49.7h.01M372.4 51.8h.01M372.4 52.5h.01M372.4 53.2h.01M372.4 53.9h.01M372.4 54.6h.01M372.4 55.3h.01M372.4 56h.01M372.4 56.7h.01M372.4 57.4h.01M372.4 58.1h.01M372.4 58.8h.01M372.4 59.5h.01M372.4 60.2h.01M372.4 60.9h.01M372.4 61.6h.01M372.4 62.3h.01M372.4 63h.01M372.4 63.7h.01M372.4 64.4h.01M372.4 65.8h.01M372.4 70.7h.01M372.4 72.1h.01M373.1 48.3h.01M373.1 50.4h.01M373.1 51.1h.01M373.1 51.8h.01M373.1 52.5h.01M373.1 53.9h.01M373.1 54.6h.01M373.1 55.3h.01M373.1 56h.01M373.1 56.7h.01M373.1 57.4h.01M373.1 58.1h.01M373.1 58.8h.01M373.1 59.5h.01M373.1 60.2h.01M373.1 60.9h.01M373.1 61.6h.01M373.1 62.3h.01M373.1 63.7h.01M373.1 65.1h.01M373.1 66.5h.01M373.1 68.6h.01M373.8 46.9h.01M373.8 48.3h.01M373.8 49.7h.01M373.8 51.8h.01M373.8 52.5h.01M373.8 53.2h.01M373.8 53.9h.01M373.8 54.6h.01M373.8 55.3h.01M373.8 56h.01M373.8 56.7h.01M373.8 57.4h.01M373.8 58.1h.01M373.8 58.8h.01M373.8 59.5h.01M373.8 60.2h.01M373.8 60.9h.01M373.8 61.6h.01M373.8 62.3h.01M373.8 63.7h.01M373.8 64.4h.01M373.8 67.9h.01M374.5 44.8h.01M374.5 49h.01M374.5 49.7h.01M374.5 50.4h.01M374.5 51.1h.01M374.5 51.8h.01M374.5 52.5h.01M374.5 53.2h.01M374.5 53.9h.01M374.5 54.6h.01M374.5 55.3h.01M374.5 56h.01M374.5 56.7h.01M374.5 57.4h.01M374.5 58.1h.01M374.5 58.8h.01M374.5 59.5h.01M374.5 60.2h.01M374.5 60.9h.01M374.5 61.6h.01M374.5 62.3h.01M374.5 63h.01M374.5 63.7h.01M374.5 66.5h.01M374.5 67.9h.01M375.2 47.6h.01M375.2 50.4h.01M375.2 52.5h.01M375.2 53.2h.01M375.2 53.9h.01M375.2 54.6h.01M375.2 55.3h.01M375.2 56h.01M375.2 56.7h.01M375.2 57.4h.01M375.2 58.1h.01M375.2 58.8h.01M375.2 59.5h.01M375.2 60.2h.01M375.2 60.9h.01M375.2 61.6h.01M375.2 62.3h.01M375.2 63h.01M375.2 63.7h.01M375.2 64.4h.01M375.9 49h.01M375.9 49.7h.01M375.9 51.1h.01M375.9 51.8h.01M375.9 52.5h.01M375.9 53.2h.01M375.9 53.9h.01M375.9 54.6h.01M375.9 55.3h.01M375.9 56h.01M375.9 56.7h.01M375.9 57.4h.01M375.9 58.1h.01M375.9 58.8h.01M375.9 59.5h.01M375.9 60.9h.01M375.9 61.6h.01M375.9 62.3h.01M375.9 63h.01M375.9 63.7h.01M375.9 65.1h.01M376.6 48.3h.01M376.6 49.7h.01M376.6 50.4h.01M376.6 51.1h.01M376.6 51.8h.01M376.6 52.5h.01M376.6 53.2h.01M376.6 53.9h.01M376.6 54.6h.01M376.6 55.3h.01M376.6 56h.01M376.6 56.7h.01M376.6 57.4h.01M376.6 58.1h.01M376.6 59.5h.01M376.6 60.9h.01M376.6 61.6h.01M376.6 62.3h.01M376.6 63.7h.01M376.6 64.4h.01M376.6 65.1h.01M377.3 48.3h.01M377.3 51.1h.01M377.3 51.8h.01M377.3 52.5h.01M377.3 53.2h.01M377.3 54.6h.01M377.3 55.3h.01M377.3 56h.01M377.3 56.7h.01M377.3 57.4h.01M377.3 58.1h.01M377.3 58.8h.01M377.3 59.5h.01M377.3 60.2h.01M377.3 60.9h.01M377.3 61.6h.01M377.3 62.3h.01M377.3 63h.01M377.3 63.7h.01M377.3 64.4h.01M377.3 65.1h.01M378 47.6h.01M378 49h.01M378 49.7h.01M378 50.4h.01M378 51.1h.01M378 51.8h.01M378 53.2h.01M378 53.9h.01M378 54.6h.01M378 55.3h.01M378 56h.01M378 57.4h.01M378 58.1h.01M378 58.8h.01M378 59.5h.01M378 60.2h.01M378 60.9h.01M378 61.6h.01M378 62.3h.01M378 63.7h.01M378 65.8h.01M378.7 49.7h.01M378.7 50.4h.01M378.7 51.1h.01M378.7 51.8h.01M378.7 52.5h.01M378.7 53.2h.01M378.7 53.9h.01M378.7 54.6h.01M378.7 55.3h.01M378.7 56h.01M378.7 56.7h.01M378.7 57.4h.01M378.7 58.1h.01M378.7 58.8h.01M378.7 60.2h.01M378.7 60.9h.01M378.7 61.6h.01M378.7 62.3h.01M378.7 63h.01M378.7 63.7h.01M378.7 65.1h.01M378.7 66.5h.01M379.4 47.6h.01M379.4 49.7h.01M379.4 50.4h.01M379.4 51.1h.01M379.4 52.5h.01M379.4 53.2h.01M379.4 53.9h.01M379.4 54.6h.01M379.4 55.3h.01M379.4 56h.01M379.4 56.7h.01M379.4 57.4h.01M379.4 58.1h.01M379.4 58.8h.01M379.4 60.9h.01M379.4 61.6h.01M379.4 62.3h.01M379.4 63h.01M380.1 48.3h.01M380.1 49h.01M380.1 49.7h.01M380.1 51.1h.01M380.1 51.8h.01M380.1 53.2h.01M380.1 53.9h.01M380.1 54.6h.01M380.1 55.3h.01M380.1 56h.01M380.1 56.7h.01M380.1 57.4h.01M380.1 58.1h.01M380.1 58.8h.01M380.1 59.5h.01M380.1 60.2h.01M380.1 60.9h.01M380.1 61.6h.01M380.1 62.3h.01M380.1 64.4h.01M380.1 67.2h.01M380.8 48.3h.01M380.8 49h.01M380.8 49.7h.01M380.8 50.4h.01M380.8 51.1h.01M380.8 52.5h.01M380.8 53.2h.01M380.8 53.9h.01M380.8 54.6h.01M380.8 55.3h.01M380.8 56h.01M380.8 56.7h.01M380.8 57.4h.01M380.8 58.8h.01M380.8 59.5h.01M380.8 60.2h.01M380.8 60.9h.01M380.8 61.6h.01M380.8 62.3h.01M380.8 63h.01M380.8 64.4h.01M380.8 66.5h.01M381.5 51.1h.01M381.5 51.8h.01M381.5 52.5h.01M381.5 53.2h.01M381.5 54.6h.01M381.5 55.3h.01M381.5 56.7h.01M381.5 57.4h.01M381.5 58.1h.01M381.5 58.8h.01M381.5 59.5h.01M381.5 60.2h.01M381.5 60.9h.01M381.5 62.3h.01M381.5 63.7h.01M382.2 45.5h.01M382.2 49h.01M382.2 49.7h.01M382.2 50.4h.01M382.2 51.1h.01M382.2 51.8h.01M382.2 52.5h.01M382.2 53.2h.01M382.2 53.9h.01M382.2 54.6h.01M382.2 55.3h.01M382.2 56h.01M382.2 56.7h.01M382.2 57.4h.01M382.2 58.1h.01M382.2 58.8h.01M382.2 59.5h.01M382.2 60.2h.01M382.2 62.3h.01M382.2 63.7h.01M382.9 47.6h.01M382.9 49.7h.01M382.9 51.1h.01M382.9 52.5h.01M382.9 53.2h.01M382.9 53.9h.01M382.9 54.6h.01M382.9 55.3h.01M382.9 56h.01M382.9 56.7h.01M382.9 57.4h.01M382.9 58.1h.01M382.9 58.8h.01M382.9 60.2h.01M382.9 60.9h.01M382.9 61.6h.01M382.9 62.3h.01M382.9 63h.01M382.9 64.4h.01M383.6 44.1h.01M383.6 49h.01M383.6 49.7h.01M383.6 50.4h.01M383.6 51.1h.01M383.6 51.8h.01M383.6 52.5h.01M383.6 53.2h.01M383.6 53.9h.01M383.6 54.6h.01M383.6 55.3h.01M383.6 56h.01M383.6 56.7h.01M383.6 57.4h.01M383.6 58.1h.01M383.6 58.8h.01M383.6 59.5h.01M383.6 60.2h.01M383.6 60.9h.01M383.6 63h.01M383.6 65.8h.01M383.6 66.5h.01M384.3 49h.01M384.3 50.4h.01M384.3 52.5h.01M384.3 53.2h.01M384.3 53.9h.01M384.3 54.6h.01M384.3 55.3h.01M384.3 56h.01M384.3 56.7h.01M384.3 57.4h.01M384.3 58.1h.01M384.3 58.8h.01M384.3 59.5h.01M384.3 60.9h.01M384.3 61.6h.01M384.3 63h.01M384.3 63.7h.01M384.3 64.4h.01M384.3 65.8h.01M384.3 70h.01M385 45.5h.01M385 47.6h.01M385 50.4h.01M385 51.1h.01M385 51.8h.01M385 52.5h.01M385 53.2h.01M385 53.9h.01M385 54.6h.01M385 55.3h.01M385 56.7h.01M385 57.4h.01M385 58.1h.01M385 59.5h.01M385 60.9h.01M385 62.3h.01M385 63h.01M385.7 49.7h.01M385.7 50.4h.01M385.7 51.1h.01M385.7 52.5h.01M385.7 53.2h.01M385.7 53.9h.01M385.7 54.6h.01M385.7 55.3h.01M385.7 56h.01M385.7 56.7h.01M385.7 57.4h.01M385.7 58.1h.01M385.7 58.8h.01M385.7 59.5h.01M385.7 60.2h.01M385.7 60.9h.01M385.7 62.3h.01M386.4 46.2h.01M386.4 47.6h.01M386.4 49h.01M386.4 49.7h.01M386.4 51.1h.01M386.4 51.8h.01M386.4 52.5h.01M386.4 53.2h.01M386.4 53.9h.01M386.4 54.6h.01M386.4 55.3h.01M386.4 56h.01M386.4 56.7h.01M386.4 57.4h.01M386.4 58.1h.01M386.4 58.8h.01M386.4 59.5h.01M386.4 61.6h.01M386.4 62.3h.01M386.4 63h.01M386.4 63.7h.01M387.1 46.9h.01M387.1 48.3h.01M387.1 49h.01M387.1 49.7h.01M387.1 50.4h.01M387.1 51.1h.01M387.1 51.8h.01M387.1 52.5h.01M387.1 53.2h.01M387.1 56h.01M387.1 56.7h.01M387.1 57.4h.01M387.1 58.1h.01M387.1 58.8h.01M387.1 59.5h.01M387.1 60.2h.01M387.1 60.9h.01M387.1 61.6h.01M387.8 44.1h.01M387.8 47.6h.01M387.8 48.3h.01M387.8 50.4h.01M387.8 51.1h.01M387.8 52.5h.01M387.8 53.2h.01M387.8 53.9h.01M387.8 54.6h.01M387.8 55.3h.01M387.8 56h.01M387.8 56.7h.01M387.8 57.4h.01M387.8 58.1h.01M387.8 58.8h.01M387.8 59.5h.01M387.8 60.2h.01M387.8 61.6h.01M388.5 44.1h.01M388.5 48.3h.01M388.5 49h.01M388.5 50.4h.01M388.5 51.8h.01M388.5 52.5h.01M388.5 53.2h.01M388.5 53.9h.01M388.5 54.6h.01M388.5 55.3h.01M388.5 56h.01M388.5 56.7h.01M388.5 59.5h.01M388.5 60.9h.01M388.5 64.4h.01M389.2 42.7h.01M389.2 49.7h.01M389.2 50.4h.01M389.2 54.6h.01M389.2 56h.01M389.2 56.7h.01M389.2 57.4h.01M389.2 58.8h.01M389.2 61.6h.01M389.2 63.7h.01M389.9 40.6h.01M389.9 44.8h.01M389.9 46.9h.01M389.9 47.6h.01M389.9 48.3h.01M389.9 49h.01M389.9 49.7h.01M389.9 50.4h.01M389.9 51.8h.01M389.9 53.9h.01M389.9 54.6h.01M389.9 55.3h.01M389.9 56h.01M389.9 56.7h.01M389.9 58.1h.01M389.9 58.8h.01M389.9 60.2h.01M389.9 63h.01M390.6 46.2h.01M390.6 48.3h.01M390.6 49.7h.01M390.6 51.1h.01M390.6 51.8h.01M390.6 54.6h.01M390.6 56h.01M390.6 56.7h.01M390.6 57.4h.01M390.6 58.1h.01M390.6 58.8h.01M390.6 61.6h.01M391.3 46.9h.01M391.3 49h.01M391.3 49.7h.01M391.3 52.5h.01M391.3 53.2h.01M391.3 53.9h.01M391.3 54.6h.01M391.3 55.3h.01M391.3 56h.01M391.3 56.7h.01M391.3 57.4h.01M391.3 58.1h.01M391.3 60.9h.01M391.3 63h.01M392 46.2h.01M392 46.9h.01M392 47.6h.01M392 49.7h.01M392 50.4h.01M392 51.1h.01M392 52.5h.01M392 53.2h.01M392 54.6h.01M392 56h.01M392 56.7h.01M392 57.4h.01M392 60.2h.01M392 62.3h.01M392 63.7h.01M392.7 44.1h.01M392.7 47.6h.01M392.7 49h.01M392.7 49.7h.01M392.7 50.4h.01M392.7 51.1h.01M392.7 52.5h.01M392.7 53.9h.01M392.7 56h.01M392.7 57.4h.01M392.7 58.1h.01M392.7 59.5h.01M392.7 60.9h.01M393.4 44.8h.01M393.4 48.3h.01M393.4 50.4h.01M393.4 51.1h.01M393.4 51.8h.01M393.4 52.5h.01M393.4 53.2h.01M393.4 54.6h.01M393.4 55.3h.01M393.4 56h.01M393.4 57.4h.01M393.4 58.1h.01M393.4 60.9h.01M393.4 62.3h.01M393.4 65.1h.01M394.1 41.3h.01M394.1 45.5h.01M394.1 48.3h.01M394.1 49h.01M394.1 49.7h.01M394.1 50.4h.01M394.1 51.1h.01M394.1 53.9h.01M394.1 56h.01M394.1 59.5h.01M394.8 48.3h.01M394.8 50.4h.01M394.8 51.8h.01M394.8 52.5h.01M394.8 53.2h.01M394.8 53.9h.01M394.8 55.3h.01M394.8 56h.01M394.8 58.1h.01M394.8 59.5h.01M394.8 64.4h.01M395.5 49h.01M395.5 50.4h.01M395.5 51.1h.01M395.5 51.8h.01M395.5 52.5h.01M395.5 53.2h.01M395.5 53.9h.01M395.5 54.6h.01M395.5 56h.01M395.5 60.2h.01M396.2 48.3h.01M396.2 49h.01M396.2 51.1h.01M396.2 51.8h.01M396.2 55.3h.01M396.2 56.7h.01M396.2 59.5h.01M396.9 48.3h.01M396.9 49h.01M396.9 49.7h.01M396.9 51.1h.01M396.9 53.2h.01M396.9 53.9h.01M396.9 54.6h.01M396.9 57.4h.01M396.9 59.5h.01M397.6 46.2h.01M397.6 48.3h.01M397.6 49h.01M397.6 50.4h.01M397.6 51.8h.01M397.6 53.2h.01M397.6 53.9h.01M397.6 54.6h.01M397.6 56h.01M397.6 56.7h.01M398.3 44.1h.01M398.3 49.7h.01M398.3 51.1h.01M398.3 52.5h.01M398.3 53.9h.01M398.3 54.6h.01M398.3 56h.01M398.3 56.7h.01M398.3 57.4h.01M398.3 58.1h.01M399 49h.01M399 49.7h.01M399 53.9h.01M399 54.6h.01M399.7 43.4h.01M399.7 48.3h.01M399.7 51.8h.01M399.7 52.5h.01M399.7 53.2h.01M399.7 58.8h.01M399.7 59.5h.01M399.7 60.9h.01M400.4 47.6h.01M400.4 48.3h.01M400.4 49h.01M400.4 51.8h.01M400.4 53.2h.01M400.4 57.4h.01M400.4 60.9h.01M401.1 48.3h.01M401.1 50.4h.01M401.1 51.8h.01M401.1 56.7h.01M401.1 58.1h.01M401.1 66.5h.01M401.8 50.4h.01M401.8 51.8h.01M401.8 53.2h.01M401.8 55.3h.01M401.8 56h.01M402.5 49h.01M403.2 50.4h.01M403.2 53.2h.01M403.9 49.7h.01M404.6 48.3h.01M404.6 49.7h.01M404.6 52.5h.01M404.6 54.6h.01M405.3 44.1h.01M405.3 47.6h.01M405.3 53.9h.01M406 49h.01M406 51.8h.01M406 53.9h.01M406.7 46.2h.01M406.7 51.8h.01M406.7 52.5h.01M406.7 58.1h.01M406.7 59.5h.01M408.1 50.4h.01M408.8 44.8h.01M408.8 53.2h.01" stroke="#2556d6" stroke-width="1.35" stroke-linecap="square" fill="none"/>
<line x1="303" y1="76.4" x2="407" y2="49.1" stroke="#f01020" stroke-width="2"/>
<rect x="301.3" y="37.8" width="110" height="96" fill="none" stroke="#333" stroke-width="1.6"/>
<text x="313.4" y="32.7" font-size="9">ER+/PR+ (<tspan font-style="italic">n=3,262</tspan>)</text>
<text x="298.2" y="48.6" font-size="6.4" text-anchor="end">1</text>
<text x="298.2" y="64.8" font-size="6.4" text-anchor="end">0</text>
<text x="298.2" y="81" font-size="6.4" text-anchor="end">-1</text>
<text x="298.2" y="97.2" font-size="6.4" text-anchor="end">-2</text>
<text x="298.2" y="113.4" font-size="6.4" text-anchor="end">-3</text>
<text x="298.2" y="129.6" font-size="6.4" text-anchor="end">-4</text>
<text x="316" y="143.2" font-size="6.4" text-anchor="middle">-4</text>
<text x="332.7" y="143.2" font-size="6.4" text-anchor="middle">-2</text>
<text x="349.7" y="143.2" font-size="6.4" text-anchor="middle">-1</text>
<text x="366.5" y="143.2" font-size="6.4" text-anchor="middle">0</text>
<text x="381.7" y="143.2" font-size="6.4" text-anchor="middle">1</text>
<text x="397.2" y="143.2" font-size="6.4" text-anchor="middle">2</text>
<text transform="translate(290 89.9) rotate(-90)" font-size="7.8" font-style="italic" text-anchor="middle">FOXA1</text>
<text x="364" y="153.9" font-size="8.3" font-style="italic" text-anchor="middle">MTA3</text>
<text transform="translate(307.8 127.5) scale(1 1.1)" font-size="7.8" font-style="italic">R=0.45</text>
<text transform="translate(406.7 127.5) scale(1 1.1)" font-size="8" font-style="italic" text-anchor="end">P&lt;0.0001</text>
<path d="M465 84.1h.01M481.1 91.9h.01M471.1 75.9h.01M526.9 66.8h.01M497.2 68.5h.01M480.6 71.3h.01M471.7 67.9h.01M479.9 79.3h.01M474.5 93.4h.01M473.3 77.1h.01M509.7 76.3h.01M449.4 73.5h.01M498.3 85.4h.01M475.5 102.4h.01M496 93.6h.01M489.2 109.2h.01M497.2 76.6h.01M528.7 71h.01M479.8 107h.01M470.9 88.9h.01M480 119.2h.01M482.3 80.6h.01M475.5 76.5h.01M486.6 85.6h.01M480.2 73.3h.01M500.3 106.5h.01M479.4 73.7h.01M485.4 74.8h.01M473.2 102.6h.01M494.3 66.9h.01M463.3 79.4h.01M478.8 106.4h.01M495 85.4h.01M470.9 93.9h.01M495.9 109.8h.01M494.6 69.2h.01M499.4 69.8h.01M481.6 79.5h.01M470 87h.01M509.7 92.5h.01M504.7 75h.01M496.6 92.9h.01M472.8 95.6h.01M484.1 89h.01M462.7 86h.01M483.6 111.7h.01M492.2 90.7h.01M483.8 84.7h.01M519.4 113.1h.01M464 105.6h.01M506 106.2h.01M499.1 71.6h.01M465.2 78.1h.01M522.3 82.5h.01M508.3 103.9h.01M452.7 72.8h.01M506 83.1h.01M485.5 88h.01M498.7 77.7h.01M482.2 78.1h.01M479.7 82.1h.01M456.9 71.5h.01M473.7 105.2h.01M481.8 96.6h.01M451.6 66.7h.01M464.2 70.3h.01M482.5 94.4h.01M490.5 89.2h.01M474 128.1h.01M508 82.3h.01M472.9 73.1h.01M493.7 113.1h.01M506.5 122.6h.01M468 73.2h.01M503.6 75.9h.01M480 81.6h.01M467 115.2h.01M512.6 97.1h.01M476.9 68.8h.01M502.3 113.8h.01M500.8 114.2h.01M480.6 118.9h.01M470.7 80.6h.01M483.3 108.6h.01M480.8 77.9h.01M474.8 75.4h.01M477.7 81.5h.01M458.3 103.7h.01M494.1 91.9h.01M457.9 128.7h.01M503.1 82.9h.01M495.7 81.1h.01M475.7 79.9h.01M475.8 83.1h.01M470.9 116.8h.01M483 79.6h.01M515.2 80.7h.01M489 71.5h.01M475.1 86.7h.01M515.2 69.2h.01M475.7 111.4h.01M476.5 75h.01M522.5 73.5h.01M458.5 119.1h.01M513.5 114.3h.01M508.3 109.9h.01M458.6 95.3h.01M484.5 110.3h.01M486.3 107.9h.01M494.2 91.4h.01M445.1 98.4h.01" stroke="#5580e4" stroke-width="1.6" stroke-linecap="square" fill="none"/>
<path d="M445.9 67.2h.01M450.8 57.4h.01M451.5 60.9h.01M452.9 59.5h.01M454.3 65.1h.01M455.7 67.9h.01M457.8 60.2h.01M458.5 64.4h.01M461.3 55.3h.01M461.3 60.9h.01M462 60.2h.01M462 63.7h.01M462 64.4h.01M462.7 60.2h.01M462.7 65.8h.01M462.7 69.3h.01M463.4 54.6h.01M464.1 58.1h.01M464.1 59.5h.01M464.1 61.6h.01M464.1 72.1h.01M464.1 78.4h.01M464.8 56h.01M464.8 58.1h.01M464.8 59.5h.01M464.8 63.7h.01M464.8 65.8h.01M464.8 67.2h.01M464.8 68.6h.01M465.5 59.5h.01M465.5 60.9h.01M465.5 62.3h.01M465.5 63h.01M466.2 56.7h.01M466.9 56.7h.01M466.9 58.8h.01M466.9 59.5h.01M466.9 60.9h.01M466.9 63.7h.01M466.9 66.5h.01M466.9 70h.01M467.6 61.6h.01M467.6 62.3h.01M467.6 63.7h.01M467.6 65.8h.01M467.6 67.2h.01M468.3 47.6h.01M468.3 53.2h.01M468.3 53.9h.01M468.3 56h.01M468.3 58.8h.01M468.3 59.5h.01M468.3 60.2h.01M468.3 63h.01M468.3 64.4h.01M468.3 66.5h.01M468.3 72.1h.01M468.3 74.2h.01M469 62.3h.01M469 68.6h.01M469.7 51.8h.01M469.7 54.6h.01M469.7 56.7h.01M469.7 57.4h.01M469.7 60.2h.01M469.7 62.3h.01M469.7 63.7h.01M469.7 64.4h.01M469.7 68.6h.01M470.4 56h.01M470.4 61.6h.01M470.4 62.3h.01M470.4 63h.01M470.4 63.7h.01M470.4 67.2h.01M470.4 70.7h.01M471.1 55.3h.01M471.1 56h.01M471.1 57.4h.01M471.1 58.8h.01M471.1 60.9h.01M471.1 64.4h.01M471.1 65.8h.01M471.1 70.7h.01M471.8 53.2h.01M471.8 56h.01M471.8 58.1h.01M471.8 62.3h.01M471.8 64.4h.01M472.5 49.7h.01M472.5 53.2h.01M472.5 56.7h.01M472.5 57.4h.01M472.5 62.3h.01M472.5 63h.01M472.5 63.7h.01M472.5 65.1h.01M472.5 66.5h.01M472.5 74.2h.01M473.2 53.9h.01M473.2 55.3h.01M473.2 57.4h.01M473.2 58.8h.01M473.2 60.2h.01M473.2 61.6h.01M473.2 63h.01M473.2 65.1h.01M473.9 56h.01M473.9 56.7h.01M473.9 58.1h.01M473.9 58.8h.01M473.9 59.5h.01M473.9 60.2h.01M473.9 61.6h.01M473.9 62.3h.01M473.9 63.7h.01M473.9 65.1h.01M473.9 65.8h.01M473.9 75.6h.01M473.9 77h.01M474.6 51.8h.01M474.6 53.2h.01M474.6 53.9h.01M474.6 55.3h.01M474.6 56h.01M474.6 56.7h.01M474.6 57.4h.01M474.6 58.1h.01M474.6 58.8h.01M474.6 59.5h.01M474.6 60.9h.01M474.6 61.6h.01M474.6 62.3h.01M474.6 64.4h.01M474.6 65.8h.01M474.6 66.5h.01M474.6 67.9h.01M474.6 68.6h.01M474.6 69.3h.01M474.6 70.7h.01M474.6 71.4h.01M475.3 51.1h.01M475.3 52.5h.01M475.3 53.9h.01M475.3 55.3h.01M475.3 56h.01M475.3 59.5h.01M475.3 60.9h.01M475.3 61.6h.01M475.3 62.3h.01M475.3 63h.01M475.3 63.7h.01M475.3 65.1h.01M475.3 65.8h.01M475.3 66.5h.01M475.3 67.2h.01M475.3 67.9h.01M475.3 75.6h.01M476 49.7h.01M476 52.5h.01M476 53.2h.01M476 54.6h.01M476 56.7h.01M476 60.2h.01M476 60.9h.01M476 63h.01M476 65.1h.01M476.7 51.1h.01M476.7 52.5h.01M476.7 53.2h.01M476.7 54.6h.01M476.7 55.3h.01M476.7 56h.01M476.7 57.4h.01M476.7 58.1h.01M476.7 58.8h.01M476.7 59.5h.01M476.7 60.2h.01M476.7 60.9h.01M476.7 61.6h.01M476.7 63h.01M476.7 67.9h.01M477.4 51.1h.01M477.4 51.8h.01M477.4 55.3h.01M477.4 56h.01M477.4 56.7h.01M477.4 57.4h.01M477.4 58.1h.01M477.4 58.8h.01M477.4 60.2h.01M477.4 60.9h.01M477.4 61.6h.01M477.4 63h.01M477.4 63.7h.01M477.4 64.4h.01M477.4 65.8h.01M477.4 66.5h.01M477.4 67.9h.01M477.4 70h.01M478.1 48.3h.01M478.1 51.8h.01M478.1 52.5h.01M478.1 53.2h.01M478.1 53.9h.01M478.1 54.6h.01M478.1 55.3h.01M478.1 56h.01M478.1 56.7h.01M478.1 57.4h.01M478.1 58.1h.01M478.1 58.8h.01M478.1 60.2h.01M478.1 60.9h.01M478.1 61.6h.01M478.1 62.3h.01M478.1 65.8h.01M478.1 69.3h.01M478.1 72.1h.01M478.8 49.7h.01M478.8 50.4h.01M478.8 51.1h.01M478.8 52.5h.01M478.8 53.9h.01M478.8 54.6h.01M478.8 55.3h.01M478.8 56h.01M478.8 57.4h.01M478.8 58.1h.01M478.8 60.2h.01M478.8 60.9h.01M478.8 61.6h.01M478.8 62.3h.01M478.8 63.7h.01M478.8 65.1h.01M478.8 65.8h.01M478.8 67.9h.01M478.8 72.1h.01M478.8 80.5h.01M479.5 49h.01M479.5 50.4h.01M479.5 51.1h.01M479.5 51.8h.01M479.5 53.9h.01M479.5 54.6h.01M479.5 55.3h.01M479.5 56.7h.01M479.5 57.4h.01M479.5 58.8h.01M479.5 59.5h.01M479.5 60.2h.01M479.5 60.9h.01M479.5 61.6h.01M479.5 62.3h.01M479.5 63.7h.01M479.5 65.8h.01M479.5 66.5h.01M479.5 70h.01M480.2 46.9h.01M480.2 51.1h.01M480.2 51.8h.01M480.2 53.2h.01M480.2 53.9h.01M480.2 54.6h.01M480.2 55.3h.01M480.2 56.7h.01M480.2 57.4h.01M480.2 58.1h.01M480.2 58.8h.01M480.2 59.5h.01M480.2 60.2h.01M480.2 60.9h.01M480.2 61.6h.01M480.2 63h.01M480.2 64.4h.01M480.2 65.1h.01M480.2 65.8h.01M480.2 67.2h.01M480.9 47.6h.01M480.9 48.3h.01M480.9 51.8h.01M480.9 52.5h.01M480.9 54.6h.01M480.9 55.3h.01M480.9 56.7h.01M480.9 57.4h.01M480.9 58.1h.01M480.9 58.8h.01M480.9 59.5h.01M480.9 60.2h.01M480.9 61.6h.01M480.9 62.3h.01M480.9 63h.01M480.9 63.7h.01M480.9 65.8h.01M480.9 69.3h.01M480.9 72.8h.01M481.6 46.9h.01M481.6 48.3h.01M481.6 49h.01M481.6 52.5h.01M481.6 53.9h.01M481.6 55.3h.01M481.6 56h.01M481.6 56.7h.01M481.6 57.4h.01M481.6 58.1h.01M481.6 58.8h.01M481.6 59.5h.01M481.6 61.6h.01M481.6 62.3h.01M481.6 63h.01M481.6 63.7h.01M481.6 64.4h.01M481.6 65.8h.01M481.6 66.5h.01M481.6 67.9h.01M481.6 69.3h.01M481.6 74.9h.01M482.3 46.9h.01M482.3 49.7h.01M482.3 50.4h.01M482.3 52.5h.01M482.3 53.2h.01M482.3 53.9h.01M482.3 54.6h.01M482.3 56h.01M482.3 56.7h.01M482.3 59.5h.01M482.3 60.2h.01M482.3 60.9h.01M482.3 61.6h.01M482.3 62.3h.01M482.3 63h.01M482.3 63.7h.01M482.3 65.8h.01M482.3 68.6h.01M482.3 69.3h.01M483 44.8h.01M483 49.7h.01M483 52.5h.01M483 53.2h.01M483 54.6h.01M483 55.3h.01M483 56h.01M483 56.7h.01M483 57.4h.01M483 58.1h.01M483 59.5h.01M483 60.2h.01M483 60.9h.01M483 61.6h.01M483 63h.01M483 63.7h.01M483 65.1h.01M483 66.5h.01M483 67.2h.01M483 72.8h.01M483.7 49.7h.01M483.7 51.1h.01M483.7 51.8h.01M483.7 52.5h.01M483.7 53.2h.01M483.7 54.6h.01M483.7 55.3h.01M483.7 56.7h.01M483.7 57.4h.01M483.7 58.1h.01M483.7 58.8h.01M483.7 59.5h.01M483.7 60.2h.01M483.7 60.9h.01M483.7 62.3h.01M483.7 63.7h.01M483.7 64.4h.01M483.7 65.8h.01M483.7 68.6h.01M483.7 69.3h.01M483.7 70.7h.01M484.4 43.4h.01M484.4 49h.01M484.4 53.2h.01M484.4 53.9h.01M484.4 54.6h.01M484.4 55.3h.01M484.4 56h.01M484.4 56.7h.01M484.4 57.4h.01M484.4 58.1h.01M484.4 58.8h.01M484.4 59.5h.01M484.4 60.2h.01M484.4 60.9h.01M484.4 61.6h.01M484.4 62.3h.01M484.4 63h.01M484.4 63.7h.01M484.4 64.4h.01M484.4 65.8h.01M484.4 66.5h.01M484.4 67.2h.01M484.4 77h.01M485.1 46.2h.01M485.1 50.4h.01M485.1 51.1h.01M485.1 51.8h.01M485.1 53.2h.01M485.1 53.9h.01M485.1 54.6h.01M485.1 56h.01M485.1 56.7h.01M485.1 57.4h.01M485.1 58.1h.01M485.1 58.8h.01M485.1 59.5h.01M485.1 60.2h.01M485.1 60.9h.01M485.1 61.6h.01M485.1 62.3h.01M485.1 63h.01M485.1 63.7h.01M485.1 64.4h.01M485.1 65.8h.01M485.1 66.5h.01M485.1 68.6h.01M485.1 72.1h.01M485.8 49h.01M485.8 49.7h.01M485.8 51.1h.01M485.8 51.8h.01M485.8 52.5h.01M485.8 53.2h.01M485.8 53.9h.01M485.8 54.6h.01M485.8 55.3h.01M485.8 56h.01M485.8 56.7h.01M485.8 57.4h.01M485.8 58.1h.01M485.8 58.8h.01M485.8 59.5h.01M485.8 60.2h.01M485.8 60.9h.01M485.8 61.6h.01M485.8 62.3h.01M485.8 63h.01M485.8 63.7h.01M485.8 64.4h.01M485.8 65.8h.01M485.8 66.5h.01M485.8 67.2h.01M485.8 67.9h.01M485.8 70h.01M485.8 72.1h.01M485.8 74.2h.01M486.5 47.6h.01M486.5 49.7h.01M486.5 50.4h.01M486.5 52.5h.01M486.5 53.2h.01M486.5 53.9h.01M486.5 54.6h.01M486.5 56h.01M486.5 56.7h.01M486.5 57.4h.01M486.5 58.1h.01M486.5 58.8h.01M486.5 59.5h.01M486.5 60.2h.01M486.5 61.6h.01M486.5 62.3h.01M486.5 63h.01M486.5 63.7h.01M486.5 64.4h.01M486.5 65.1h.01M486.5 66.5h.01M486.5 67.2h.01M486.5 67.9h.01M486.5 69.3h.01M486.5 70.7h.01M487.2 49h.01M487.2 49.7h.01M487.2 51.1h.01M487.2 51.8h.01M487.2 52.5h.01M487.2 53.2h.01M487.2 53.9h.01M487.2 54.6h.01M487.2 55.3h.01M487.2 56h.01M487.2 56.7h.01M487.2 58.1h.01M487.2 58.8h.01M487.2 59.5h.01M487.2 60.2h.01M487.2 60.9h.01M487.2 62.3h.01M487.2 63h.01M487.2 63.7h.01M487.2 64.4h.01M487.2 65.8h.01M487.2 66.5h.01M487.2 67.2h.01M487.2 68.6h.01M487.2 72.8h.01M487.9 49h.01M487.9 50.4h.01M487.9 52.5h.01M487.9 53.2h.01M487.9 53.9h.01M487.9 54.6h.01M487.9 55.3h.01M487.9 56h.01M487.9 56.7h.01M487.9 57.4h.01M487.9 58.1h.01M487.9 58.8h.01M487.9 59.5h.01M487.9 60.2h.01M487.9 61.6h.01M487.9 62.3h.01M487.9 63.7h.01M487.9 64.4h.01M487.9 65.8h.01M487.9 67.9h.01M487.9 72.8h.01M487.9 77h.01M488.6 44.1h.01M488.6 48.3h.01M488.6 49.7h.01M488.6 50.4h.01M488.6 51.1h.01M488.6 52.5h.01M488.6 53.2h.01M488.6 53.9h.01M488.6 54.6h.01M488.6 55.3h.01M488.6 56.7h.01M488.6 57.4h.01M488.6 58.1h.01M488.6 58.8h.01M488.6 59.5h.01M488.6 60.2h.01M488.6 60.9h.01M488.6 61.6h.01M488.6 62.3h.01M488.6 63h.01M488.6 63.7h.01M488.6 64.4h.01M488.6 65.1h.01M488.6 69.3h.01M488.6 70.7h.01M489.3 43.4h.01M489.3 49h.01M489.3 50.4h.01M489.3 51.1h.01M489.3 53.2h.01M489.3 53.9h.01M489.3 54.6h.01M489.3 55.3h.01M489.3 56h.01M489.3 56.7h.01M489.3 57.4h.01M489.3 58.1h.01M489.3 58.8h.01M489.3 59.5h.01M489.3 60.2h.01M489.3 60.9h.01M489.3 61.6h.01M489.3 62.3h.01M489.3 63.7h.01M489.3 65.1h.01M489.3 65.8h.01M489.3 70h.01M489.3 70.7h.01M489.3 72.8h.01M489.3 77.7h.01M490 46.2h.01M490 48.3h.01M490 49h.01M490 50.4h.01M490 51.1h.01M490 52.5h.01M490 53.2h.01M490 53.9h.01M490 54.6h.01M490 55.3h.01M490 56h.01M490 56.7h.01M490 57.4h.01M490 58.1h.01M490 58.8h.01M490 59.5h.01M490 60.2h.01M490 60.9h.01M490 61.6h.01M490 63h.01M490 63.7h.01M490 64.4h.01M490 65.1h.01M490 65.8h.01M490 66.5h.01M490 67.2h.01M490 70.7h.01M490.7 48.3h.01M490.7 51.1h.01M490.7 52.5h.01M490.7 53.2h.01M490.7 53.9h.01M490.7 54.6h.01M490.7 55.3h.01M490.7 56h.01M490.7 56.7h.01M490.7 57.4h.01M490.7 58.1h.01M490.7 58.8h.01M490.7 59.5h.01M490.7 60.2h.01M490.7 60.9h.01M490.7 61.6h.01M490.7 62.3h.01M490.7 63h.01M490.7 64.4h.01M490.7 65.1h.01M490.7 66.5h.01M490.7 67.2h.01M490.7 67.9h.01M490.7 68.6h.01M490.7 70h.01M491.4 49.7h.01M491.4 50.4h.01M491.4 51.1h.01M491.4 51.8h.01M491.4 52.5h.01M491.4 53.2h.01M491.4 53.9h.01M491.4 54.6h.01M491.4 55.3h.01M491.4 56h.01M491.4 56.7h.01M491.4 57.4h.01M491.4 58.1h.01M491.4 58.8h.01M491.4 59.5h.01M491.4 60.2h.01M491.4 60.9h.01M491.4 61.6h.01M491.4 62.3h.01M491.4 63h.01M491.4 63.7h.01M491.4 64.4h.01M491.4 65.1h.01M491.4 66.5h.01M491.4 68.6h.01M492.1 47.6h.01M492.1 48.3h.01M492.1 49.7h.01M492.1 50.4h.01M492.1 51.1h.01M492.1 52.5h.01M492.1 53.2h.01M492.1 53.9h.01M492.1 54.6h.01M492.1 55.3h.01M492.1 56h.01M492.1 56.7h.01M492.1 57.4h.01M492.1 58.1h.01M492.1 58.8h.01M492.1 59.5h.01M492.1 60.2h.01M492.1 60.9h.01M492.1 61.6h.01M492.1 62.3h.01M492.1 63h.01M492.1 63.7h.01M492.1 64.4h.01M492.1 65.1h.01M492.1 65.8h.01M492.1 66.5h.01M492.1 67.2h.01M492.1 73.5h.01M492.8 48.3h.01M492.8 49.7h.01M492.8 50.4h.01M492.8 51.1h.01M492.8 51.8h.01M492.8 52.5h.01M492.8 53.2h.01M492.8 53.9h.01M492.8 54.6h.01M492.8 55.3h.01M492.8 56h.01M492.8 56.7h.01M492.8 57.4h.01M492.8 58.1h.01M492.8 58.8h.01M492.8 59.5h.01M492.8 60.2h.01M492.8 60.9h.01M492.8 61.6h.01M492.8 62.3h.01M492.8 63h.01M492.8 63.7h.01M492.8 65.1h.01M492.8 65.8h.01M492.8 67.9h.01M492.8 72.1h.01M492.8 76.3h.01M493.5 48.3h.01M493.5 49h.01M493.5 49.7h.01M493.5 51.1h.01M493.5 52.5h.01M493.5 53.2h.01M493.5 53.9h.01M493.5 54.6h.01M493.5 55.3h.01M493.5 56h.01M493.5 56.7h.01M493.5 57.4h.01M493.5 58.1h.01M493.5 58.8h.01M493.5 59.5h.01M493.5 60.2h.01M493.5 61.6h.01M493.5 62.3h.01M493.5 63h.01M493.5 63.7h.01M493.5 64.4h.01M493.5 65.8h.01M493.5 67.2h.01M493.5 69.3h.01M493.5 71.4h.01M493.5 72.8h.01M494.2 49h.01M494.2 49.7h.01M494.2 51.1h.01M494.2 51.8h.01M494.2 52.5h.01M494.2 53.2h.01M494.2 53.9h.01M494.2 54.6h.01M494.2 55.3h.01M494.2 56h.01M494.2 56.7h.01M494.2 57.4h.01M494.2 58.1h.01M494.2 58.8h.01M494.2 59.5h.01M494.2 60.2h.01M494.2 60.9h.01M494.2 61.6h.01M494.2 62.3h.01M494.2 63h.01M494.2 63.7h.01M494.2 65.1h.01M494.2 65.8h.01M494.2 66.5h.01M494.2 69.3h.01M494.2 70h.01M494.9 40.6h.01M494.9 49h.01M494.9 49.7h.01M494.9 50.4h.01M494.9 51.1h.01M494.9 51.8h.01M494.9 52.5h.01M494.9 53.2h.01M494.9 53.9h.01M494.9 54.6h.01M494.9 55.3h.01M494.9 56h.01M494.9 56.7h.01M494.9 57.4h.01M494.9 58.1h.01M494.9 58.8h.01M494.9 59.5h.01M494.9 60.2h.01M494.9 60.9h.01M494.9 61.6h.01M494.9 62.3h.01M494.9 63h.01M494.9 65.8h.01M494.9 67.2h.01M494.9 68.6h.01M494.9 69.3h.01M495.6 46.9h.01M495.6 49h.01M495.6 49.7h.01M495.6 51.8h.01M495.6 52.5h.01M495.6 53.2h.01M495.6 53.9h.01M495.6 54.6h.01M495.6 55.3h.01M495.6 56h.01M495.6 56.7h.01M495.6 57.4h.01M495.6 58.1h.01M495.6 58.8h.01M495.6 59.5h.01M495.6 60.2h.01M495.6 60.9h.01M495.6 61.6h.01M495.6 62.3h.01M495.6 63h.01M495.6 66.5h.01M495.6 70h.01M496.3 51.1h.01M496.3 51.8h.01M496.3 52.5h.01M496.3 53.2h.01M496.3 54.6h.01M496.3 55.3h.01M496.3 56h.01M496.3 56.7h.01M496.3 57.4h.01M496.3 58.1h.01M496.3 58.8h.01M496.3 59.5h.01M496.3 60.2h.01M496.3 60.9h.01M496.3 62.3h.01M496.3 63h.01M496.3 63.7h.01M496.3 65.1h.01M496.3 66.5h.01M496.3 67.9h.01M496.3 75.6h.01M497 47.6h.01M497 48.3h.01M497 49.7h.01M497 50.4h.01M497 51.8h.01M497 52.5h.01M497 53.2h.01M497 53.9h.01M497 54.6h.01M497 55.3h.01M497 56.7h.01M497 57.4h.01M497 58.1h.01M497 58.8h.01M497 59.5h.01M497 60.2h.01M497 60.9h.01M497 61.6h.01M497 62.3h.01M497 63h.01M497 63.7h.01M497 64.4h.01M497 65.8h.01M497 69.3h.01M497 70.7h.01M497 72.1h.01M497.7 44.1h.01M497.7 45.5h.01M497.7 49h.01M497.7 49.7h.01M497.7 50.4h.01M497.7 51.1h.01M497.7 51.8h.01M497.7 52.5h.01M497.7 53.2h.01M497.7 53.9h.01M497.7 54.6h.01M497.7 55.3h.01M497.7 56h.01M497.7 56.7h.01M497.7 57.4h.01M497.7 58.1h.01M497.7 58.8h.01M497.7 59.5h.01M497.7 60.2h.01M497.7 60.9h.01M497.7 61.6h.01M497.7 62.3h.01M497.7 63h.01M497.7 63.7h.01M497.7 64.4h.01M497.7 65.1h.01M497.7 65.8h.01M498.4 44.8h.01M498.4 47.6h.01M498.4 49h.01M498.4 49.7h.01M498.4 50.4h.01M498.4 51.1h.01M498.4 51.8h.01M498.4 53.2h.01M498.4 53.9h.01M498.4 54.6h.01M498.4 55.3h.01M498.4 56h.01M498.4 56.7h.01M498.4 57.4h.01M498.4 58.1h.01M498.4 58.8h.01M498.4 59.5h.01M498.4 60.2h.01M498.4 60.9h.01M498.4 62.3h.01M498.4 63h.01M498.4 63.7h.01M498.4 65.1h.01M499.1 47.6h.01M499.1 49h.01M499.1 51.1h.01M499.1 51.8h.01M499.1 52.5h.01M499.1 53.2h.01M499.1 53.9h.01M499.1 54.6h.01M499.1 55.3h.01M499.1 56h.01M499.1 56.7h.01M499.1 58.1h.01M499.1 58.8h.01M499.1 59.5h.01M499.1 60.2h.01M499.1 60.9h.01M499.1 61.6h.01M499.1 62.3h.01M499.1 63h.01M499.1 63.7h.01M499.1 68.6h.01M499.1 69.3h.01M499.8 44.8h.01M499.8 45.5h.01M499.8 47.6h.01M499.8 51.1h.01M499.8 51.8h.01M499.8 52.5h.01M499.8 53.2h.01M499.8 53.9h.01M499.8 54.6h.01M499.8 55.3h.01M499.8 56h.01M499.8 56.7h.01M499.8 57.4h.01M499.8 58.1h.01M499.8 58.8h.01M499.8 59.5h.01M499.8 60.2h.01M499.8 60.9h.01M499.8 61.6h.01M499.8 62.3h.01M499.8 63.7h.01M499.8 64.4h.01M499.8 65.1h.01M499.8 69.3h.01M499.8 70h.01M499.8 72.1h.01M500.5 47.6h.01M500.5 49h.01M500.5 49.7h.01M500.5 50.4h.01M500.5 51.1h.01M500.5 51.8h.01M500.5 52.5h.01M500.5 53.2h.01M500.5 53.9h.01M500.5 54.6h.01M500.5 55.3h.01M500.5 56h.01M500.5 56.7h.01M500.5 57.4h.01M500.5 58.1h.01M500.5 58.8h.01M500.5 59.5h.01M500.5 60.2h.01M500.5 60.9h.01M500.5 61.6h.01M500.5 62.3h.01M500.5 63h.01M500.5 63.7h.01M500.5 64.4h.01M500.5 65.8h.01M500.5 66.5h.01M500.5 67.2h.01M500.5 67.9h.01M501.2 48.3h.01M501.2 49.7h.01M501.2 50.4h.01M501.2 51.1h.01M501.2 51.8h.01M501.2 52.5h.01M501.2 53.2h.01M501.2 53.9h.01M501.2 54.6h.01M501.2 55.3h.01M501.2 56h.01M501.2 56.7h.01M501.2 57.4h.01M501.2 58.1h.01M501.2 58.8h.01M501.2 59.5h.01M501.2 60.2h.01M501.2 60.9h.01M501.2 61.6h.01M501.2 62.3h.01M501.2 63h.01M501.2 64.4h.01M501.2 66.5h.01M501.2 67.2h.01M501.9 45.5h.01M501.9 46.2h.01M501.9 49h.01M501.9 49.7h.01M501.9 50.4h.01M501.9 51.1h.01M501.9 51.8h.01M501.9 52.5h.01M501.9 53.2h.01M501.9 53.9h.01M501.9 54.6h.01M501.9 55.3h.01M501.9 56h.01M501.9 56.7h.01M501.9 57.4h.01M501.9 58.1h.01M501.9 58.8h.01M501.9 59.5h.01M501.9 60.2h.01M501.9 60.9h.01M501.9 61.6h.01M501.9 62.3h.01M501.9 63h.01M501.9 63.7h.01M501.9 64.4h.01M501.9 65.8h.01M501.9 66.5h.01M501.9 67.2h.01M502.6 48.3h.01M502.6 49.7h.01M502.6 50.4h.01M502.6 51.1h.01M502.6 51.8h.01M502.6 52.5h.01M502.6 53.2h.01M502.6 53.9h.01M502.6 54.6h.01M502.6 55.3h.01M502.6 56h.01M502.6 56.7h.01M502.6 57.4h.01M502.6 58.1h.01M502.6 58.8h.01M502.6 59.5h.01M502.6 60.2h.01M502.6 60.9h.01M502.6 61.6h.01M502.6 62.3h.01M502.6 63.7h.01M502.6 64.4h.01M502.6 65.8h.01M503.3 43.4h.01M503.3 49.7h.01M503.3 50.4h.01M503.3 51.1h.01M503.3 51.8h.01M503.3 52.5h.01M503.3 53.2h.01M503.3 53.9h.01M503.3 54.6h.01M503.3 55.3h.01M503.3 56h.01M503.3 56.7h.01M503.3 57.4h.01M503.3 58.1h.01M503.3 58.8h.01M503.3 59.5h.01M503.3 60.9h.01M503.3 61.6h.01M503.3 62.3h.01M503.3 63h.01M503.3 63.7h.01M503.3 65.1h.01M503.3 65.8h.01M503.3 67.9h.01M504 47.6h.01M504 49.7h.01M504 50.4h.01M504 51.1h.01M504 51.8h.01M504 52.5h.01M504 53.2h.01M504 53.9h.01M504 54.6h.01M504 55.3h.01M504 56h.01M504 56.7h.01M504 57.4h.01M504 58.1h.01M504 58.8h.01M504 59.5h.01M504 60.2h.01M504 64.4h.01M504 68.6h.01M504 69.3h.01M504 70h.01M504 74.9h.01M504.7 49h.01M504.7 49.7h.01M504.7 51.1h.01M504.7 51.8h.01M504.7 53.2h.01M504.7 53.9h.01M504.7 54.6h.01M504.7 55.3h.01M504.7 56h.01M504.7 57.4h.01M504.7 58.8h.01M504.7 59.5h.01M504.7 60.2h.01M504.7 60.9h.01M504.7 61.6h.01M504.7 62.3h.01M504.7 63h.01M504.7 63.7h.01M504.7 66.5h.01M504.7 67.9h.01M504.7 71.4h.01M504.7 72.1h.01M505.4 44.8h.01M505.4 46.9h.01M505.4 47.6h.01M505.4 48.3h.01M505.4 49h.01M505.4 50.4h.01M505.4 51.1h.01M505.4 51.8h.01M505.4 53.2h.01M505.4 53.9h.01M505.4 54.6h.01M505.4 55.3h.01M505.4 56h.01M505.4 56.7h.01M505.4 57.4h.01M505.4 58.1h.01M505.4 58.8h.01M505.4 59.5h.01M505.4 60.2h.01M505.4 62.3h.01M505.4 63h.01M505.4 63.7h.01M505.4 64.4h.01M505.4 65.1h.01M505.4 68.6h.01M506.1 44.1h.01M506.1 47.6h.01M506.1 49h.01M506.1 49.7h.01M506.1 51.1h.01M506.1 51.8h.01M506.1 52.5h.01M506.1 53.2h.01M506.1 53.9h.01M506.1 54.6h.01M506.1 55.3h.01M506.1 56h.01M506.1 56.7h.01M506.1 57.4h.01M506.1 58.1h.01M506.1 58.8h.01M506.1 59.5h.01M506.1 60.2h.01M506.1 60.9h.01M506.1 61.6h.01M506.1 62.3h.01M506.1 63h.01M506.1 63.7h.01M506.1 65.1h.01M506.1 66.5h.01M506.1 67.9h.01M506.8 46.9h.01M506.8 48.3h.01M506.8 49h.01M506.8 50.4h.01M506.8 51.1h.01M506.8 52.5h.01M506.8 53.2h.01M506.8 53.9h.01M506.8 54.6h.01M506.8 55.3h.01M506.8 56h.01M506.8 56.7h.01M506.8 57.4h.01M506.8 58.1h.01M506.8 58.8h.01M506.8 59.5h.01M506.8 60.2h.01M506.8 61.6h.01M506.8 63h.01M506.8 63.7h.01M506.8 64.4h.01M506.8 66.5h.01M506.8 67.2h.01M506.8 72.1h.01M506.8 77.7h.01M507.5 48.3h.01M507.5 50.4h.01M507.5 51.8h.01M507.5 52.5h.01M507.5 53.2h.01M507.5 53.9h.01M507.5 55.3h.01M507.5 56h.01M507.5 56.7h.01M507.5 58.1h.01M507.5 59.5h.01M507.5 60.2h.01M507.5 60.9h.01M507.5 61.6h.01M507.5 63h.01M507.5 63.7h.01M507.5 66.5h.01M507.5 68.6h.01M507.5 72.8h.01M508.2 47.6h.01M508.2 49h.01M508.2 49.7h.01M508.2 50.4h.01M508.2 52.5h.01M508.2 53.2h.01M508.2 53.9h.01M508.2 54.6h.01M508.2 55.3h.01M508.2 56h.01M508.2 56.7h.01M508.2 57.4h.01M508.2 58.1h.01M508.2 58.8h.01M508.2 60.2h.01M508.2 60.9h.01M508.2 61.6h.01M508.9 49h.01M508.9 49.7h.01M508.9 50.4h.01M508.9 51.1h.01M508.9 53.2h.01M508.9 53.9h.01M508.9 54.6h.01M508.9 55.3h.01M508.9 56h.01M508.9 57.4h.01M508.9 58.1h.01M508.9 58.8h.01M508.9 59.5h.01M508.9 60.2h.01M508.9 60.9h.01M508.9 61.6h.01M508.9 62.3h.01M508.9 63h.01M508.9 64.4h.01M509.6 44.8h.01M509.6 49h.01M509.6 51.1h.01M509.6 51.8h.01M509.6 52.5h.01M509.6 53.2h.01M509.6 53.9h.01M509.6 54.6h.01M509.6 55.3h.01M509.6 57.4h.01M509.6 58.1h.01M509.6 58.8h.01M509.6 59.5h.01M509.6 60.9h.01M509.6 62.3h.01M509.6 63h.01M509.6 63.7h.01M509.6 64.4h.01M509.6 65.1h.01M509.6 67.2h.01M509.6 76.3h.01M510.3 40.6h.01M510.3 46.2h.01M510.3 48.3h.01M510.3 50.4h.01M510.3 51.1h.01M510.3 51.8h.01M510.3 52.5h.01M510.3 53.2h.01M510.3 53.9h.01M510.3 54.6h.01M510.3 55.3h.01M510.3 56h.01M510.3 56.7h.01M510.3 57.4h.01M510.3 58.1h.01M510.3 58.8h.01M510.3 60.2h.01M510.3 61.6h.01M510.3 62.3h.01M510.3 63.7h.01M510.3 64.4h.01M510.3 72.1h.01M511 46.2h.01M511 48.3h.01M511 51.8h.01M511 52.5h.01M511 53.9h.01M511 54.6h.01M511 55.3h.01M511 56h.01M511 56.7h.01M511 57.4h.01M511 58.1h.01M511 58.8h.01M511 59.5h.01M511 60.2h.01M511 61.6h.01M511 62.3h.01M511 63.7h.01M511 65.1h.01M511 67.2h.01M511.7 47.6h.01M511.7 49h.01M511.7 50.4h.01M511.7 51.1h.01M511.7 51.8h.01M511.7 52.5h.01M511.7 53.2h.01M511.7 53.9h.01M511.7 54.6h.01M511.7 55.3h.01M511.7 56h.01M511.7 56.7h.01M511.7 58.1h.01M511.7 58.8h.01M511.7 59.5h.01M511.7 60.2h.01M511.7 60.9h.01M511.7 61.6h.01M511.7 67.2h.01M511.7 67.9h.01M511.7 71.4h.01M512.4 49h.01M512.4 51.1h.01M512.4 51.8h.01M512.4 52.5h.01M512.4 53.2h.01M512.4 53.9h.01M512.4 54.6h.01M512.4 55.3h.01M512.4 56h.01M512.4 56.7h.01M512.4 57.4h.01M512.4 58.8h.01M512.4 59.5h.01M512.4 60.2h.01M512.4 60.9h.01M512.4 65.1h.01M513.1 44.1h.01M513.1 49h.01M513.1 50.4h.01M513.1 51.8h.01M513.1 52.5h.01M513.1 53.2h.01M513.1 53.9h.01M513.1 54.6h.01M513.1 55.3h.01M513.1 56h.01M513.1 56.7h.01M513.1 57.4h.01M513.1 58.1h.01M513.1 58.8h.01M513.1 60.9h.01M513.1 62.3h.01M513.1 63h.01M513.1 67.2h.01M513.8 49h.01M513.8 51.1h.01M513.8 51.8h.01M513.8 52.5h.01M513.8 53.2h.01M513.8 53.9h.01M513.8 54.6h.01M513.8 55.3h.01M513.8 56h.01M513.8 58.1h.01M513.8 58.8h.01M513.8 59.5h.01M513.8 60.9h.01M513.8 62.3h.01M513.8 63h.01M514.5 49h.01M514.5 49.7h.01M514.5 51.1h.01M514.5 52.5h.01M514.5 53.9h.01M514.5 54.6h.01M514.5 55.3h.01M514.5 56h.01M514.5 56.7h.01M514.5 58.8h.01M514.5 62.3h.01M515.2 48.3h.01M515.2 51.1h.01M515.2 52.5h.01M515.2 53.2h.01M515.2 54.6h.01M515.2 55.3h.01M515.2 57.4h.01M515.2 58.1h.01M515.2 58.8h.01M515.2 60.2h.01M515.2 62.3h.01M515.9 42.7h.01M515.9 44.8h.01M515.9 46.9h.01M515.9 48.3h.01M515.9 50.4h.01M515.9 51.1h.01M515.9 51.8h.01M515.9 52.5h.01M515.9 53.2h.01M515.9 53.9h.01M515.9 54.6h.01M515.9 56.7h.01M515.9 57.4h.01M515.9 58.1h.01M515.9 58.8h.01M515.9 59.5h.01M515.9 65.1h.01M516.6 49h.01M516.6 49.7h.01M516.6 52.5h.01M516.6 53.2h.01M516.6 53.9h.01M516.6 54.6h.01M516.6 56h.01M516.6 57.4h.01M516.6 58.1h.01M516.6 62.3h.01M516.6 63h.01M516.6 65.1h.01M516.6 66.5h.01M517.3 49h.01M517.3 50.4h.01M517.3 51.8h.01M517.3 52.5h.01M517.3 55.3h.01M517.3 56h.01M517.3 57.4h.01M517.3 58.8h.01M517.3 63h.01M518 45.5h.01M518 46.2h.01M518 53.2h.01M518 54.6h.01M518 56.7h.01M518 57.4h.01M518 63h.01M518 63.7h.01M518 65.1h.01M518.7 48.3h.01M518.7 51.8h.01M518.7 52.5h.01M518.7 54.6h.01M518.7 56h.01M518.7 58.8h.01M518.7 59.5h.01M518.7 61.6h.01M518.7 62.3h.01M518.7 63h.01M519.4 44.8h.01M519.4 45.5h.01M519.4 46.2h.01M519.4 49.7h.01M519.4 51.8h.01M519.4 56h.01M519.4 60.2h.01M519.4 62.3h.01M519.4 65.1h.01M519.4 66.5h.01M520.1 49.7h.01M520.1 52.5h.01M520.1 53.2h.01M520.1 53.9h.01M520.1 60.2h.01M520.8 42.7h.01M520.8 50.4h.01M520.8 51.8h.01M520.8 56.7h.01M520.8 57.4h.01M520.8 59.5h.01M520.8 60.2h.01M521.5 52.5h.01M521.5 64.4h.01M522.2 46.2h.01M522.2 53.2h.01M522.2 53.9h.01M522.2 60.2h.01M522.9 51.8h.01M522.9 53.2h.01M522.9 57.4h.01M522.9 58.8h.01M522.9 59.5h.01M522.9 60.2h.01M523.6 44.8h.01M523.6 45.5h.01M523.6 46.9h.01M523.6 51.8h.01M523.6 53.9h.01M523.6 58.1h.01M523.6 60.2h.01M523.6 60.9h.01M524.3 49.7h.01M524.3 51.1h.01M524.3 51.8h.01M524.3 55.3h.01M524.3 58.8h.01M524.3 60.9h.01M525 55.3h.01M525.7 57.4h.01M525.7 60.2h.01M526.4 50.4h.01M526.4 51.1h.01M527.1 49.7h.01M527.1 55.3h.01M527.1 56h.01M527.8 48.3h.01M527.8 49h.01M527.8 54.6h.01M527.8 57.4h.01M527.8 58.8h.01M528.5 54.6h.01M529.2 47.6h.01M529.2 49.7h.01M529.2 56h.01M529.9 52.5h.01M530.6 43.4h.01M530.6 51.1h.01M530.6 54.6h.01M530.6 60.9h.01M531.3 58.1h.01M532 55.3h.01M532.7 61.6h.01M534.1 53.9h.01M534.8 55.3h.01M536.9 46.9h.01M539 48.3h.01" stroke="#2556d6" stroke-width="1.35" stroke-linecap="square" fill="none"/>
<line x1="439.4" y1="66.9" x2="543.2" y2="49.8" stroke="#f01020" stroke-width="2"/>
<rect x="437" y="37.8" width="109.5" height="96" fill="none" stroke="#333" stroke-width="1.6"/>
<text x="451.8" y="32.7" font-size="9">ER+/PR+ (<tspan font-style="italic">n=3,262</tspan>)</text>
<text x="433.9" y="48.6" font-size="6.4" text-anchor="end">1</text>
<text x="433.9" y="64.8" font-size="6.4" text-anchor="end">0</text>
<text x="433.9" y="81" font-size="6.4" text-anchor="end">-1</text>
<text x="433.9" y="97.2" font-size="6.4" text-anchor="end">-2</text>
<text x="433.9" y="113.4" font-size="6.4" text-anchor="end">-3</text>
<text x="433.9" y="129.6" font-size="6.4" text-anchor="end">-4</text>
<text x="447.2" y="143.2" font-size="6.4" text-anchor="middle">-4</text>
<text x="463.5" y="143.2" font-size="6.4" text-anchor="middle">-2</text>
<text x="479.7" y="143.2" font-size="6.4" text-anchor="middle">-1</text>
<text x="495.2" y="143.2" font-size="6.4" text-anchor="middle">0</text>
<text x="509.7" y="143.2" font-size="6.4" text-anchor="middle">1</text>
<text x="524.2" y="143.2" font-size="6.4" text-anchor="middle">2</text>
<text x="539" y="143.2" font-size="6.4" text-anchor="middle">4</text>
<text transform="translate(425.7 89.9) rotate(-90)" font-size="7.8" font-style="italic" text-anchor="middle">FOXA1</text>
<text x="494.8" y="153.9" font-size="8.3" font-style="italic" text-anchor="middle">KIF22</text>
<text transform="translate(443.5 127.5) scale(1 1.1)" font-size="7.8" font-style="italic">R=0.28</text>
<text transform="translate(540.9 127.5) scale(1 1.1)" font-size="8" font-style="italic" text-anchor="end">P&lt;0.0001</text>
<path d="M86.2 234.1h.01M97 236.7h.01M77.5 246.1h.01M104.7 250h.01M101.1 251.9h.01M92.6 239.8h.01M97.9 255.5h.01M91 233.6h.01M96 234.6h.01M91 261.6h.01M91.3 235.2h.01M90.9 234.6h.01M70.1 245.1h.01M89.6 259.9h.01M108.2 233.2h.01M114.5 232.6h.01M92.1 272.8h.01M99.1 235.3h.01M112.8 251.7h.01M80.5 258.1h.01M102.7 237.3h.01M79.5 248.4h.01M102.9 240.3h.01M96 237.8h.01M97.2 266.2h.01M95.8 237.3h.01M119.9 258.8h.01M82.5 234.3h.01M100.9 279.2h.01M101.2 244.3h.01M90.2 231.2h.01M102.3 233.6h.01M98.4 237h.01M99.6 256.2h.01M111.2 233.8h.01M88.7 237.1h.01M100.8 234.8h.01M108.7 241.3h.01M92.3 272.3h.01M112.3 260.4h.01M88.8 238.9h.01M79.8 260.8h.01M86.2 248.4h.01M99.4 240.8h.01M109.8 238.1h.01M94.1 248h.01M97.7 260.4h.01M98 239.3h.01M105.3 253.7h.01M87.2 275.6h.01M96.9 243.1h.01M88 280.3h.01M103.4 292.6h.01M107.7 235.1h.01M72.9 234.6h.01M100.7 233.5h.01M96.1 243h.01M106.4 252.6h.01M90 292.6h.01M98.6 254.5h.01M84.6 244.7h.01M124 249.3h.01M101.1 272h.01M115.7 233.8h.01M115.7 244.5h.01M95.5 269.1h.01M99.4 267.5h.01M110.1 237.3h.01M90.8 259.5h.01M106.7 286.9h.01M88.9 282h.01M105.7 236.4h.01M98.1 252.3h.01M79.3 242.6h.01M94 243h.01M103.9 290.9h.01M96.6 251h.01M101.2 233.1h.01M123.6 246.4h.01M83.9 240.5h.01M90.3 231.5h.01M89.8 253.5h.01M98.5 256.4h.01M96 272.2h.01M89.1 239.2h.01M89.9 239.7h.01M119.9 234.2h.01M126.7 231.6h.01M96.6 268.6h.01M99.5 247.7h.01M79.7 284.7h.01M93.9 248.3h.01M103.1 260.2h.01M96.1 278.1h.01M118.9 248.6h.01M131.7 275.1h.01M96.4 252h.01M86.9 248h.01M105.4 259.2h.01M108.3 242.2h.01M88.9 233h.01M97.9 234.8h.01M110.8 271.8h.01M103 234.8h.01M88.9 248.3h.01M108.6 238.8h.01M89.3 231.6h.01M115.9 232.3h.01M98.6 246.4h.01M77.4 253.3h.01M88.9 236.5h.01M107.5 258.1h.01M119 241.3h.01M102.7 259.3h.01M67.9 284.1h.01M93.6 264.1h.01M65.9 294.8h.01M80.5 266.6h.01M87.4 267.3h.01M53.4 245.2h.01M115.3 270.7h.01M94.2 264.3h.01" stroke="#5580e4" stroke-width="1.6" stroke-linecap="square" fill="none"/>
<path d="M41.3 213.5h.01M42.7 210h.01M46.9 215.6h.01M46.9 217.7h.01M46.9 219.8h.01M49 218.4h.01M49 219.1h.01M49.7 207.2h.01M53.2 205.8h.01M53.2 216.3h.01M53.2 224h.01M54.6 219.1h.01M56 213.5h.01M56 214.9h.01M56 216.3h.01M56 219.8h.01M56.7 210h.01M56.7 216.3h.01M57.4 216.3h.01M58.1 214.9h.01M58.1 224h.01M58.8 217h.01M58.8 218.4h.01M58.8 219.1h.01M58.8 219.8h.01M58.8 224h.01M59.5 219.8h.01M59.5 222.6h.01M60.2 209.3h.01M60.2 211.4h.01M60.2 212.1h.01M60.2 214.2h.01M60.2 218.4h.01M60.2 224.7h.01M60.9 217.7h.01M60.9 219.1h.01M60.9 219.8h.01M61.6 205.1h.01M61.6 215.6h.01M61.6 216.3h.01M61.6 219.1h.01M61.6 224h.01M62.3 211.4h.01M62.3 216.3h.01M62.3 219.1h.01M63 212.8h.01M63 216.3h.01M63 217.7h.01M63 219.1h.01M63 220.5h.01M63 223.3h.01M63.7 213.5h.01M63.7 214.9h.01M63.7 219.8h.01M63.7 220.5h.01M63.7 221.2h.01M64.4 214.9h.01M64.4 216.3h.01M64.4 219.1h.01M64.4 220.5h.01M64.4 224.7h.01M65.1 207.2h.01M65.1 210h.01M65.1 213.5h.01M65.1 214.2h.01M65.1 214.9h.01M65.1 216.3h.01M65.1 217h.01M65.1 218.4h.01M65.1 223.3h.01M65.1 224h.01M65.8 208.6h.01M65.8 210h.01M65.8 212.1h.01M65.8 213.5h.01M65.8 215.6h.01M65.8 217.7h.01M65.8 218.4h.01M65.8 219.1h.01M65.8 219.8h.01M65.8 222.6h.01M65.8 232.4h.01M66.5 210h.01M66.5 210.7h.01M66.5 212.1h.01M66.5 213.5h.01M66.5 214.9h.01M66.5 215.6h.01M66.5 217h.01M66.5 217.7h.01M66.5 219.1h.01M66.5 220.5h.01M67.2 212.8h.01M67.2 214.9h.01M67.2 218.4h.01M67.2 220.5h.01M67.2 224h.01M67.2 224.7h.01M67.9 206.5h.01M67.9 207.2h.01M67.9 216.3h.01M67.9 217.7h.01M67.9 219.8h.01M67.9 220.5h.01M67.9 224.7h.01M67.9 226.8h.01M67.9 229.6h.01M68.6 211.4h.01M68.6 213.5h.01M68.6 214.2h.01M68.6 216.3h.01M68.6 217h.01M68.6 217.7h.01M68.6 219.1h.01M68.6 220.5h.01M68.6 221.2h.01M68.6 221.9h.01M68.6 222.6h.01M68.6 223.3h.01M68.6 224.7h.01M68.6 228.2h.01M68.6 228.9h.01M69.3 209.3h.01M69.3 212.1h.01M69.3 212.8h.01M69.3 214.9h.01M69.3 216.3h.01M69.3 217h.01M69.3 219.1h.01M69.3 219.8h.01M69.3 220.5h.01M69.3 222.6h.01M69.3 223.3h.01M69.3 224h.01M69.3 224.7h.01M69.3 228.2h.01M70 209.3h.01M70 210.7h.01M70 212.8h.01M70 213.5h.01M70 214.2h.01M70 214.9h.01M70 217h.01M70 217.7h.01M70 220.5h.01M70 223.3h.01M70 224.7h.01M70.7 210h.01M70.7 211.4h.01M70.7 212.8h.01M70.7 213.5h.01M70.7 214.2h.01M70.7 214.9h.01M70.7 215.6h.01M70.7 216.3h.01M70.7 217h.01M70.7 219.8h.01M70.7 220.5h.01M70.7 221.2h.01M70.7 221.9h.01M70.7 222.6h.01M70.7 224h.01M70.7 226.1h.01M70.7 229.6h.01M70.7 231h.01M71.4 210.7h.01M71.4 212.1h.01M71.4 213.5h.01M71.4 214.9h.01M71.4 215.6h.01M71.4 216.3h.01M71.4 217h.01M71.4 217.7h.01M71.4 218.4h.01M71.4 219.1h.01M71.4 219.8h.01M71.4 220.5h.01M71.4 221.9h.01M71.4 222.6h.01M71.4 224.7h.01M72.1 212.1h.01M72.1 212.8h.01M72.1 214.2h.01M72.1 215.6h.01M72.1 216.3h.01M72.1 217h.01M72.1 218.4h.01M72.1 219.1h.01M72.1 221.9h.01M72.1 222.6h.01M72.1 223.3h.01M72.1 224h.01M72.1 224.7h.01M72.1 225.4h.01M72.1 227.5h.01M72.1 228.9h.01M72.1 230.3h.01M72.1 231.7h.01M72.8 206.5h.01M72.8 208.6h.01M72.8 211.4h.01M72.8 212.1h.01M72.8 214.9h.01M72.8 216.3h.01M72.8 217h.01M72.8 217.7h.01M72.8 218.4h.01M72.8 219.1h.01M72.8 219.8h.01M72.8 220.5h.01M72.8 221.2h.01M72.8 222.6h.01M72.8 223.3h.01M72.8 224h.01M72.8 224.7h.01M72.8 227.5h.01M72.8 228.9h.01M73.5 212.1h.01M73.5 213.5h.01M73.5 214.2h.01M73.5 215.6h.01M73.5 216.3h.01M73.5 217h.01M73.5 217.7h.01M73.5 218.4h.01M73.5 219.1h.01M73.5 219.8h.01M73.5 224.7h.01M73.5 225.4h.01M73.5 227.5h.01M73.5 228.9h.01M73.5 229.6h.01M74.2 210h.01M74.2 212.8h.01M74.2 213.5h.01M74.2 214.2h.01M74.2 214.9h.01M74.2 215.6h.01M74.2 216.3h.01M74.2 217h.01M74.2 217.7h.01M74.2 218.4h.01M74.2 219.1h.01M74.2 219.8h.01M74.2 220.5h.01M74.2 221.2h.01M74.2 221.9h.01M74.2 222.6h.01M74.2 223.3h.01M74.2 224.7h.01M74.2 225.4h.01M74.2 227.5h.01M74.2 231h.01M74.2 231.7h.01M74.2 233.1h.01M74.9 206.5h.01M74.9 211.4h.01M74.9 212.8h.01M74.9 213.5h.01M74.9 215.6h.01M74.9 216.3h.01M74.9 217h.01M74.9 218.4h.01M74.9 219.8h.01M74.9 220.5h.01M74.9 221.2h.01M74.9 221.9h.01M74.9 222.6h.01M74.9 224h.01M74.9 224.7h.01M74.9 225.4h.01M75.6 211.4h.01M75.6 212.1h.01M75.6 214.2h.01M75.6 215.6h.01M75.6 217h.01M75.6 217.7h.01M75.6 218.4h.01M75.6 219.1h.01M75.6 219.8h.01M75.6 220.5h.01M75.6 221.2h.01M75.6 221.9h.01M75.6 222.6h.01M75.6 223.3h.01M75.6 224h.01M75.6 224.7h.01M75.6 226.1h.01M76.3 209.3h.01M76.3 211.4h.01M76.3 213.5h.01M76.3 214.2h.01M76.3 215.6h.01M76.3 217h.01M76.3 217.7h.01M76.3 218.4h.01M76.3 219.1h.01M76.3 219.8h.01M76.3 220.5h.01M76.3 221.2h.01M76.3 221.9h.01M76.3 223.3h.01M76.3 224h.01M76.3 226.8h.01M77 211.4h.01M77 212.8h.01M77 214.2h.01M77 214.9h.01M77 215.6h.01M77 216.3h.01M77 217h.01M77 217.7h.01M77 219.1h.01M77 219.8h.01M77 220.5h.01M77 221.2h.01M77 221.9h.01M77 222.6h.01M77 223.3h.01M77 224h.01M77 224.7h.01M77 225.4h.01M77 227.5h.01M77 228.2h.01M77 228.9h.01M77 231h.01M77 231.7h.01M77 232.4h.01M77.7 206.5h.01M77.7 208.6h.01M77.7 210h.01M77.7 212.8h.01M77.7 213.5h.01M77.7 214.2h.01M77.7 214.9h.01M77.7 216.3h.01M77.7 217h.01M77.7 217.7h.01M77.7 218.4h.01M77.7 219.1h.01M77.7 219.8h.01M77.7 220.5h.01M77.7 221.2h.01M77.7 223.3h.01M77.7 224.7h.01M77.7 226.1h.01M77.7 228.2h.01M77.7 233.1h.01M78.4 206.5h.01M78.4 210h.01M78.4 211.4h.01M78.4 214.9h.01M78.4 215.6h.01M78.4 216.3h.01M78.4 217h.01M78.4 217.7h.01M78.4 218.4h.01M78.4 219.1h.01M78.4 219.8h.01M78.4 220.5h.01M78.4 221.2h.01M78.4 221.9h.01M78.4 222.6h.01M78.4 224h.01M78.4 224.7h.01M78.4 225.4h.01M78.4 226.1h.01M78.4 228.9h.01M78.4 231h.01M78.4 231.7h.01M78.4 237.3h.01M79.1 209.3h.01M79.1 210h.01M79.1 210.7h.01M79.1 212.8h.01M79.1 215.6h.01M79.1 217h.01M79.1 217.7h.01M79.1 218.4h.01M79.1 219.1h.01M79.1 219.8h.01M79.1 220.5h.01M79.1 221.2h.01M79.1 221.9h.01M79.1 222.6h.01M79.1 223.3h.01M79.1 224h.01M79.1 224.7h.01M79.1 226.1h.01M79.1 226.8h.01M79.1 228.2h.01M79.1 228.9h.01M79.1 229.6h.01M79.8 205.1h.01M79.8 211.4h.01M79.8 212.1h.01M79.8 212.8h.01M79.8 214.2h.01M79.8 214.9h.01M79.8 215.6h.01M79.8 216.3h.01M79.8 217.7h.01M79.8 218.4h.01M79.8 219.1h.01M79.8 219.8h.01M79.8 221.2h.01M79.8 221.9h.01M79.8 222.6h.01M79.8 223.3h.01M79.8 224h.01M79.8 224.7h.01M79.8 226.1h.01M79.8 226.8h.01M79.8 227.5h.01M79.8 228.2h.01M79.8 231h.01M79.8 231.7h.01M79.8 233.8h.01M80.5 211.4h.01M80.5 212.1h.01M80.5 212.8h.01M80.5 214.2h.01M80.5 214.9h.01M80.5 215.6h.01M80.5 216.3h.01M80.5 217h.01M80.5 217.7h.01M80.5 218.4h.01M80.5 219.1h.01M80.5 219.8h.01M80.5 220.5h.01M80.5 221.2h.01M80.5 221.9h.01M80.5 222.6h.01M80.5 223.3h.01M80.5 224h.01M80.5 224.7h.01M80.5 226.1h.01M80.5 226.8h.01M80.5 227.5h.01M80.5 229.6h.01M80.5 231h.01M81.2 208.6h.01M81.2 210.7h.01M81.2 212.1h.01M81.2 212.8h.01M81.2 213.5h.01M81.2 214.9h.01M81.2 215.6h.01M81.2 216.3h.01M81.2 217h.01M81.2 217.7h.01M81.2 218.4h.01M81.2 219.1h.01M81.2 219.8h.01M81.2 220.5h.01M81.2 221.2h.01M81.2 221.9h.01M81.2 223.3h.01M81.2 224h.01M81.2 224.7h.01M81.2 225.4h.01M81.2 226.1h.01M81.2 226.8h.01M81.9 208.6h.01M81.9 210.7h.01M81.9 212.1h.01M81.9 212.8h.01M81.9 213.5h.01M81.9 214.2h.01M81.9 214.9h.01M81.9 215.6h.01M81.9 216.3h.01M81.9 217h.01M81.9 217.7h.01M81.9 218.4h.01M81.9 219.1h.01M81.9 219.8h.01M81.9 220.5h.01M81.9 221.2h.01M81.9 221.9h.01M81.9 222.6h.01M81.9 223.3h.01M81.9 224h.01M81.9 224.7h.01M81.9 225.4h.01M81.9 226.1h.01M81.9 227.5h.01M81.9 228.9h.01M81.9 229.6h.01M81.9 230.3h.01M82.6 211.4h.01M82.6 212.8h.01M82.6 214.2h.01M82.6 214.9h.01M82.6 215.6h.01M82.6 216.3h.01M82.6 217h.01M82.6 217.7h.01M82.6 218.4h.01M82.6 219.1h.01M82.6 219.8h.01M82.6 220.5h.01M82.6 221.2h.01M82.6 221.9h.01M82.6 222.6h.01M82.6 223.3h.01M82.6 224h.01M82.6 224.7h.01M82.6 225.4h.01M82.6 226.1h.01M82.6 226.8h.01M82.6 227.5h.01M82.6 229.6h.01M82.6 232.4h.01M83.3 211.4h.01M83.3 212.1h.01M83.3 213.5h.01M83.3 214.2h.01M83.3 214.9h.01M83.3 215.6h.01M83.3 216.3h.01M83.3 217h.01M83.3 217.7h.01M83.3 219.8h.01M83.3 220.5h.01M83.3 221.2h.01M83.3 221.9h.01M83.3 222.6h.01M83.3 223.3h.01M83.3 224h.01M83.3 224.7h.01M83.3 225.4h.01M83.3 226.1h.01M83.3 226.8h.01M83.3 230.3h.01M83.3 232.4h.01M83.3 233.1h.01M84 211.4h.01M84 212.1h.01M84 212.8h.01M84 213.5h.01M84 214.2h.01M84 214.9h.01M84 215.6h.01M84 216.3h.01M84 217h.01M84 217.7h.01M84 218.4h.01M84 219.1h.01M84 219.8h.01M84 220.5h.01M84 221.2h.01M84 221.9h.01M84 222.6h.01M84 223.3h.01M84 224h.01M84 224.7h.01M84 225.4h.01M84 226.1h.01M84 226.8h.01M84 227.5h.01M84 228.9h.01M84 229.6h.01M84 230.3h.01M84.7 211.4h.01M84.7 212.8h.01M84.7 214.2h.01M84.7 214.9h.01M84.7 215.6h.01M84.7 216.3h.01M84.7 217h.01M84.7 217.7h.01M84.7 219.1h.01M84.7 219.8h.01M84.7 220.5h.01M84.7 221.2h.01M84.7 221.9h.01M84.7 222.6h.01M84.7 223.3h.01M84.7 224h.01M84.7 224.7h.01M84.7 225.4h.01M84.7 226.1h.01M84.7 226.8h.01M84.7 227.5h.01M84.7 228.2h.01M84.7 230.3h.01M84.7 233.8h.01M85.4 205.8h.01M85.4 212.8h.01M85.4 213.5h.01M85.4 214.2h.01M85.4 214.9h.01M85.4 215.6h.01M85.4 217h.01M85.4 217.7h.01M85.4 218.4h.01M85.4 219.1h.01M85.4 219.8h.01M85.4 220.5h.01M85.4 221.2h.01M85.4 221.9h.01M85.4 222.6h.01M85.4 223.3h.01M85.4 224h.01M85.4 224.7h.01M85.4 225.4h.01M85.4 226.1h.01M85.4 226.8h.01M85.4 227.5h.01M85.4 228.2h.01M85.4 230.3h.01M85.4 231h.01M86.1 207.9h.01M86.1 211.4h.01M86.1 212.8h.01M86.1 213.5h.01M86.1 214.2h.01M86.1 214.9h.01M86.1 215.6h.01M86.1 216.3h.01M86.1 217h.01M86.1 217.7h.01M86.1 218.4h.01M86.1 219.1h.01M86.1 219.8h.01M86.1 220.5h.01M86.1 221.2h.01M86.1 221.9h.01M86.1 223.3h.01M86.1 224h.01M86.1 224.7h.01M86.1 225.4h.01M86.1 226.1h.01M86.1 226.8h.01M86.1 228.2h.01M86.1 228.9h.01M86.1 230.3h.01M86.1 233.8h.01M86.8 213.5h.01M86.8 214.2h.01M86.8 215.6h.01M86.8 217h.01M86.8 217.7h.01M86.8 218.4h.01M86.8 219.1h.01M86.8 219.8h.01M86.8 220.5h.01M86.8 221.2h.01M86.8 221.9h.01M86.8 222.6h.01M86.8 223.3h.01M86.8 224h.01M86.8 224.7h.01M86.8 225.4h.01M86.8 226.1h.01M86.8 226.8h.01M86.8 227.5h.01M86.8 229.6h.01M86.8 231h.01M87.5 209.3h.01M87.5 210h.01M87.5 210.7h.01M87.5 212.8h.01M87.5 217h.01M87.5 217.7h.01M87.5 218.4h.01M87.5 219.1h.01M87.5 219.8h.01M87.5 220.5h.01M87.5 221.2h.01M87.5 221.9h.01M87.5 222.6h.01M87.5 223.3h.01M87.5 224h.01M87.5 224.7h.01M87.5 225.4h.01M87.5 226.1h.01M87.5 226.8h.01M87.5 227.5h.01M87.5 228.9h.01M87.5 229.6h.01M87.5 231.7h.01M87.5 235.2h.01M88.2 212.1h.01M88.2 214.2h.01M88.2 215.6h.01M88.2 216.3h.01M88.2 217h.01M88.2 217.7h.01M88.2 218.4h.01M88.2 219.1h.01M88.2 219.8h.01M88.2 220.5h.01M88.2 221.2h.01M88.2 221.9h.01M88.2 222.6h.01M88.2 223.3h.01M88.2 224h.01M88.2 224.7h.01M88.2 225.4h.01M88.2 226.1h.01M88.2 226.8h.01M88.2 227.5h.01M88.2 228.2h.01M88.2 229.6h.01M88.2 234.5h.01M88.9 210h.01M88.9 210.7h.01M88.9 212.8h.01M88.9 214.9h.01M88.9 215.6h.01M88.9 216.3h.01M88.9 217h.01M88.9 217.7h.01M88.9 218.4h.01M88.9 219.1h.01M88.9 219.8h.01M88.9 220.5h.01M88.9 221.2h.01M88.9 221.9h.01M88.9 222.6h.01M88.9 223.3h.01M88.9 224h.01M88.9 224.7h.01M88.9 225.4h.01M88.9 226.1h.01M88.9 226.8h.01M88.9 227.5h.01M88.9 228.2h.01M88.9 228.9h.01M88.9 229.6h.01M88.9 230.3h.01M88.9 231.7h.01M88.9 235.9h.01M88.9 237.3h.01M88.9 238h.01M89.6 211.4h.01M89.6 212.8h.01M89.6 213.5h.01M89.6 214.9h.01M89.6 215.6h.01M89.6 216.3h.01M89.6 217h.01M89.6 217.7h.01M89.6 218.4h.01M89.6 219.1h.01M89.6 219.8h.01M89.6 220.5h.01M89.6 221.2h.01M89.6 221.9h.01M89.6 222.6h.01M89.6 223.3h.01M89.6 224h.01M89.6 224.7h.01M89.6 225.4h.01M89.6 226.1h.01M89.6 227.5h.01M89.6 228.2h.01M89.6 228.9h.01M89.6 229.6h.01M89.6 230.3h.01M89.6 231h.01M89.6 233.8h.01M89.6 235.2h.01M90.3 212.8h.01M90.3 214.2h.01M90.3 215.6h.01M90.3 216.3h.01M90.3 217h.01M90.3 217.7h.01M90.3 218.4h.01M90.3 219.1h.01M90.3 219.8h.01M90.3 220.5h.01M90.3 221.2h.01M90.3 221.9h.01M90.3 222.6h.01M90.3 223.3h.01M90.3 224h.01M90.3 224.7h.01M90.3 225.4h.01M90.3 226.1h.01M90.3 226.8h.01M90.3 227.5h.01M90.3 228.2h.01M90.3 228.9h.01M90.3 229.6h.01M90.3 230.3h.01M90.3 233.1h.01M91 212.1h.01M91 212.8h.01M91 214.9h.01M91 215.6h.01M91 216.3h.01M91 217.7h.01M91 218.4h.01M91 219.1h.01M91 219.8h.01M91 220.5h.01M91 221.2h.01M91 221.9h.01M91 222.6h.01M91 223.3h.01M91 224h.01M91 225.4h.01M91 226.1h.01M91 226.8h.01M91 227.5h.01M91 228.9h.01M91 230.3h.01M91 231h.01M91 232.4h.01M91.7 214.2h.01M91.7 215.6h.01M91.7 216.3h.01M91.7 217h.01M91.7 217.7h.01M91.7 218.4h.01M91.7 219.1h.01M91.7 219.8h.01M91.7 220.5h.01M91.7 221.2h.01M91.7 221.9h.01M91.7 222.6h.01M91.7 223.3h.01M91.7 224h.01M91.7 224.7h.01M91.7 225.4h.01M91.7 226.1h.01M91.7 226.8h.01M91.7 227.5h.01M91.7 228.2h.01M91.7 228.9h.01M91.7 230.3h.01M91.7 233.1h.01M91.7 234.5h.01M92.4 210.7h.01M92.4 213.5h.01M92.4 214.2h.01M92.4 215.6h.01M92.4 217h.01M92.4 217.7h.01M92.4 218.4h.01M92.4 219.1h.01M92.4 219.8h.01M92.4 220.5h.01M92.4 221.2h.01M92.4 221.9h.01M92.4 222.6h.01M92.4 223.3h.01M92.4 224h.01M92.4 224.7h.01M92.4 225.4h.01M92.4 226.1h.01M92.4 226.8h.01M92.4 227.5h.01M92.4 228.2h.01M92.4 228.9h.01M92.4 229.6h.01M92.4 230.3h.01M92.4 231h.01M92.4 232.4h.01M93.1 212.1h.01M93.1 213.5h.01M93.1 214.2h.01M93.1 215.6h.01M93.1 217h.01M93.1 217.7h.01M93.1 218.4h.01M93.1 219.1h.01M93.1 219.8h.01M93.1 220.5h.01M93.1 221.2h.01M93.1 221.9h.01M93.1 222.6h.01M93.1 223.3h.01M93.1 224h.01M93.1 224.7h.01M93.1 225.4h.01M93.1 226.1h.01M93.1 226.8h.01M93.1 227.5h.01M93.1 228.2h.01M93.1 230.3h.01M93.1 231.7h.01M93.1 232.4h.01M93.1 239.4h.01M93.1 241.5h.01M93.8 214.9h.01M93.8 215.6h.01M93.8 216.3h.01M93.8 217h.01M93.8 217.7h.01M93.8 219.1h.01M93.8 219.8h.01M93.8 220.5h.01M93.8 221.2h.01M93.8 221.9h.01M93.8 222.6h.01M93.8 223.3h.01M93.8 224h.01M93.8 224.7h.01M93.8 225.4h.01M93.8 226.1h.01M93.8 226.8h.01M93.8 227.5h.01M93.8 228.2h.01M93.8 228.9h.01M93.8 230.3h.01M93.8 232.4h.01M94.5 206.5h.01M94.5 214.9h.01M94.5 215.6h.01M94.5 217h.01M94.5 217.7h.01M94.5 219.1h.01M94.5 219.8h.01M94.5 220.5h.01M94.5 221.2h.01M94.5 221.9h.01M94.5 222.6h.01M94.5 223.3h.01M94.5 224h.01M94.5 224.7h.01M94.5 225.4h.01M94.5 226.1h.01M94.5 226.8h.01M94.5 227.5h.01M94.5 229.6h.01M94.5 230.3h.01M94.5 231h.01M94.5 231.7h.01M94.5 232.4h.01M94.5 233.8h.01M95.2 212.8h.01M95.2 213.5h.01M95.2 214.2h.01M95.2 214.9h.01M95.2 216.3h.01M95.2 217.7h.01M95.2 219.1h.01M95.2 219.8h.01M95.2 220.5h.01M95.2 221.2h.01M95.2 221.9h.01M95.2 222.6h.01M95.2 223.3h.01M95.2 224h.01M95.2 224.7h.01M95.2 225.4h.01M95.2 226.8h.01M95.2 227.5h.01M95.2 228.2h.01M95.2 228.9h.01M95.2 229.6h.01M95.2 231h.01M95.2 231.7h.01M95.2 234.5h.01M95.9 214.2h.01M95.9 216.3h.01M95.9 219.1h.01M95.9 219.8h.01M95.9 220.5h.01M95.9 221.2h.01M95.9 221.9h.01M95.9 222.6h.01M95.9 223.3h.01M95.9 224h.01M95.9 224.7h.01M95.9 225.4h.01M95.9 226.1h.01M95.9 226.8h.01M95.9 227.5h.01M95.9 228.2h.01M95.9 228.9h.01M95.9 230.3h.01M95.9 232.4h.01M95.9 236.6h.01M96.6 212.1h.01M96.6 214.2h.01M96.6 215.6h.01M96.6 216.3h.01M96.6 217.7h.01M96.6 218.4h.01M96.6 219.1h.01M96.6 219.8h.01M96.6 220.5h.01M96.6 221.2h.01M96.6 221.9h.01M96.6 222.6h.01M96.6 223.3h.01M96.6 224h.01M96.6 224.7h.01M96.6 225.4h.01M96.6 226.1h.01M96.6 227.5h.01M96.6 228.2h.01M96.6 228.9h.01M96.6 229.6h.01M96.6 235.9h.01M96.6 236.6h.01M97.3 212.8h.01M97.3 214.2h.01M97.3 217.7h.01M97.3 218.4h.01M97.3 219.1h.01M97.3 219.8h.01M97.3 220.5h.01M97.3 221.9h.01M97.3 222.6h.01M97.3 223.3h.01M97.3 224h.01M97.3 224.7h.01M97.3 225.4h.01M97.3 226.1h.01M97.3 227.5h.01M97.3 228.2h.01M97.3 229.6h.01M97.3 231h.01M97.3 231.7h.01M97.3 232.4h.01M97.3 234.5h.01M98 216.3h.01M98 217h.01M98 217.7h.01M98 218.4h.01M98 219.1h.01M98 219.8h.01M98 221.2h.01M98 221.9h.01M98 222.6h.01M98 223.3h.01M98 224h.01M98 224.7h.01M98 225.4h.01M98 226.1h.01M98 226.8h.01M98 227.5h.01M98 228.2h.01M98 228.9h.01M98 229.6h.01M98 230.3h.01M98 232.4h.01M98 233.1h.01M98 237.3h.01M98.7 212.1h.01M98.7 214.2h.01M98.7 216.3h.01M98.7 217.7h.01M98.7 218.4h.01M98.7 219.1h.01M98.7 219.8h.01M98.7 221.2h.01M98.7 221.9h.01M98.7 222.6h.01M98.7 223.3h.01M98.7 224h.01M98.7 224.7h.01M98.7 225.4h.01M98.7 226.1h.01M98.7 226.8h.01M98.7 227.5h.01M98.7 228.9h.01M98.7 229.6h.01M98.7 230.3h.01M98.7 231.7h.01M98.7 232.4h.01M98.7 235.9h.01M99.4 215.6h.01M99.4 216.3h.01M99.4 217.7h.01M99.4 218.4h.01M99.4 219.1h.01M99.4 219.8h.01M99.4 220.5h.01M99.4 221.2h.01M99.4 221.9h.01M99.4 222.6h.01M99.4 223.3h.01M99.4 224h.01M99.4 224.7h.01M99.4 225.4h.01M99.4 226.1h.01M99.4 226.8h.01M99.4 227.5h.01M99.4 228.2h.01M99.4 228.9h.01M99.4 229.6h.01M99.4 231.7h.01M99.4 232.4h.01M100.1 215.6h.01M100.1 216.3h.01M100.1 217h.01M100.1 217.7h.01M100.1 218.4h.01M100.1 219.1h.01M100.1 219.8h.01M100.1 220.5h.01M100.1 221.2h.01M100.1 221.9h.01M100.1 222.6h.01M100.1 223.3h.01M100.1 224h.01M100.1 224.7h.01M100.1 225.4h.01M100.1 226.1h.01M100.1 226.8h.01M100.1 227.5h.01M100.1 228.2h.01M100.1 228.9h.01M100.1 230.3h.01M100.1 231h.01M100.1 231.7h.01M100.8 217.7h.01M100.8 218.4h.01M100.8 219.1h.01M100.8 219.8h.01M100.8 220.5h.01M100.8 221.2h.01M100.8 221.9h.01M100.8 222.6h.01M100.8 223.3h.01M100.8 224h.01M100.8 224.7h.01M100.8 225.4h.01M100.8 226.1h.01M100.8 226.8h.01M100.8 227.5h.01M100.8 228.2h.01M100.8 228.9h.01M100.8 229.6h.01M100.8 230.3h.01M100.8 231.7h.01M101.5 213.5h.01M101.5 217h.01M101.5 218.4h.01M101.5 219.1h.01M101.5 221.2h.01M101.5 221.9h.01M101.5 223.3h.01M101.5 224h.01M101.5 224.7h.01M101.5 225.4h.01M101.5 226.1h.01M101.5 226.8h.01M101.5 227.5h.01M101.5 228.2h.01M101.5 228.9h.01M101.5 229.6h.01M101.5 230.3h.01M101.5 231h.01M101.5 231.7h.01M101.5 232.4h.01M101.5 234.5h.01M102.2 219.1h.01M102.2 220.5h.01M102.2 221.2h.01M102.2 223.3h.01M102.2 224h.01M102.2 224.7h.01M102.2 225.4h.01M102.2 226.1h.01M102.2 226.8h.01M102.2 227.5h.01M102.2 228.2h.01M102.2 228.9h.01M102.2 229.6h.01M102.2 230.3h.01M102.2 232.4h.01M102.2 233.1h.01M102.2 235.2h.01M102.2 235.9h.01M102.2 237.3h.01M102.9 207.2h.01M102.9 215.6h.01M102.9 217.7h.01M102.9 219.1h.01M102.9 219.8h.01M102.9 220.5h.01M102.9 221.2h.01M102.9 221.9h.01M102.9 222.6h.01M102.9 223.3h.01M102.9 224h.01M102.9 224.7h.01M102.9 225.4h.01M102.9 226.1h.01M102.9 226.8h.01M102.9 227.5h.01M102.9 228.9h.01M102.9 230.3h.01M102.9 231h.01M102.9 231.7h.01M102.9 233.1h.01M102.9 234.5h.01M103.6 217h.01M103.6 219.1h.01M103.6 219.8h.01M103.6 221.2h.01M103.6 221.9h.01M103.6 222.6h.01M103.6 223.3h.01M103.6 224h.01M103.6 224.7h.01M103.6 225.4h.01M103.6 226.1h.01M103.6 226.8h.01M103.6 227.5h.01M103.6 228.2h.01M103.6 228.9h.01M103.6 229.6h.01M103.6 230.3h.01M103.6 231h.01M103.6 232.4h.01M103.6 233.8h.01M103.6 234.5h.01M103.6 235.9h.01M103.6 236.6h.01M104.3 219.1h.01M104.3 219.8h.01M104.3 221.2h.01M104.3 221.9h.01M104.3 224h.01M104.3 225.4h.01M104.3 226.1h.01M104.3 226.8h.01M104.3 227.5h.01M104.3 228.9h.01M104.3 232.4h.01M104.3 239.4h.01M105 213.5h.01M105 214.9h.01M105 217.7h.01M105 218.4h.01M105 219.8h.01M105 223.3h.01M105 224h.01M105 224.7h.01M105 225.4h.01M105 226.1h.01M105 226.8h.01M105 228.2h.01M105 228.9h.01M105 229.6h.01M105 233.1h.01M105 237.3h.01M105.7 217h.01M105.7 218.4h.01M105.7 219.1h.01M105.7 221.2h.01M105.7 221.9h.01M105.7 222.6h.01M105.7 224h.01M105.7 226.1h.01M105.7 226.8h.01M105.7 227.5h.01M105.7 228.9h.01M105.7 229.6h.01M105.7 231h.01M105.7 233.1h.01M105.7 236.6h.01M106.4 214.2h.01M106.4 217.7h.01M106.4 218.4h.01M106.4 219.1h.01M106.4 223.3h.01M106.4 224.7h.01M106.4 225.4h.01M106.4 226.1h.01M106.4 226.8h.01M106.4 227.5h.01M106.4 228.2h.01M106.4 228.9h.01M106.4 231h.01M106.4 231.7h.01M106.4 233.8h.01M106.4 235.2h.01M106.4 235.9h.01M106.4 243.6h.01M107.1 219.1h.01M107.1 220.5h.01M107.1 223.3h.01M107.1 224h.01M107.1 224.7h.01M107.1 226.1h.01M107.1 227.5h.01M107.1 228.2h.01M107.1 228.9h.01M107.1 230.3h.01M107.1 231h.01M107.1 231.7h.01M107.1 232.4h.01M107.1 233.1h.01M107.1 233.8h.01M107.8 217h.01M107.8 223.3h.01M107.8 224.7h.01M107.8 225.4h.01M107.8 226.1h.01M107.8 228.2h.01M107.8 230.3h.01M107.8 233.8h.01M108.5 219.1h.01M108.5 220.5h.01M108.5 221.2h.01M108.5 221.9h.01M108.5 222.6h.01M108.5 223.3h.01M108.5 224h.01M108.5 224.7h.01M108.5 225.4h.01M108.5 226.8h.01M108.5 227.5h.01M108.5 228.9h.01M108.5 231.7h.01M108.5 236.6h.01M109.2 218.4h.01M109.2 219.1h.01M109.2 219.8h.01M109.2 221.2h.01M109.2 223.3h.01M109.2 224h.01M109.2 224.7h.01M109.2 226.8h.01M109.2 227.5h.01M109.2 228.9h.01M109.2 230.3h.01M109.2 231h.01M109.9 221.9h.01M109.9 223.3h.01M109.9 225.4h.01M109.9 226.1h.01M109.9 227.5h.01M109.9 230.3h.01M109.9 231.7h.01M109.9 236.6h.01M110.6 220.5h.01M110.6 224.7h.01M110.6 225.4h.01M110.6 226.1h.01M110.6 226.8h.01M110.6 227.5h.01M110.6 228.2h.01M110.6 230.3h.01M110.6 231h.01M110.6 232.4h.01M110.6 235.2h.01M110.6 239.4h.01M111.3 219.1h.01M111.3 219.8h.01M111.3 221.2h.01M111.3 224.7h.01M111.3 226.1h.01M111.3 228.2h.01M111.3 228.9h.01M111.3 230.3h.01M111.3 231.7h.01M111.3 238h.01M111.3 242.9h.01M112 220.5h.01M112 221.9h.01M112 223.3h.01M112 224.7h.01M112 225.4h.01M112 226.8h.01M112 227.5h.01M112 228.2h.01M112 231.7h.01M112 234.5h.01M112 237.3h.01M112 239.4h.01M112.7 219.1h.01M112.7 220.5h.01M112.7 221.2h.01M112.7 221.9h.01M112.7 224h.01M112.7 226.8h.01M112.7 228.2h.01M112.7 228.9h.01M112.7 231.7h.01M112.7 238h.01M113.4 221.2h.01M113.4 224h.01M113.4 228.2h.01M113.4 228.9h.01M113.4 230.3h.01M113.4 231h.01M113.4 231.7h.01M113.4 233.1h.01M114.1 213.5h.01M114.1 224.7h.01M114.1 225.4h.01M114.1 226.1h.01M114.1 234.5h.01M114.1 237.3h.01M114.8 221.9h.01M114.8 226.8h.01M114.8 228.2h.01M114.8 229.6h.01M114.8 232.4h.01M114.8 233.1h.01M114.8 235.9h.01M115.5 223.3h.01M115.5 225.4h.01M115.5 226.1h.01M115.5 226.8h.01M115.5 228.9h.01M115.5 231.7h.01M115.5 235.2h.01M115.5 237.3h.01M116.2 231h.01M116.2 232.4h.01M116.2 238h.01M116.9 222.6h.01M116.9 233.1h.01M116.9 233.8h.01M116.9 235.9h.01M117.6 225.4h.01M117.6 228.2h.01M117.6 230.3h.01M117.6 231.7h.01M117.6 233.8h.01M117.6 238.7h.01M118.3 226.1h.01M118.3 235.9h.01M119 210.7h.01M119 226.8h.01M119 228.9h.01M119 229.6h.01M119 232.4h.01M119.7 225.4h.01M119.7 226.1h.01M119.7 226.8h.01M119.7 228.2h.01M119.7 229.6h.01M119.7 231h.01M119.7 233.1h.01M119.7 235.2h.01M120.4 229.6h.01M120.4 245h.01M121.1 232.4h.01M121.8 224.7h.01M121.8 236.6h.01M122.5 231.7h.01M123.2 228.2h.01M123.9 229.6h.01M123.9 232.4h.01M123.9 233.1h.01M123.9 234.5h.01M124.6 226.1h.01M124.6 228.9h.01M124.6 235.9h.01M126.7 239.4h.01M128.1 226.8h.01M128.1 229.6h.01M128.1 231.7h.01M128.1 232.4h.01M128.8 231h.01M130.2 228.9h.01M130.9 224h.01M130.9 232.4h.01M133 245.7h.01" stroke="#2556d6" stroke-width="1.35" stroke-linecap="square" fill="none"/>
<line x1="31.5" y1="210" x2="137.5" y2="233.8" stroke="#f01020" stroke-width="2"/>
<rect x="30.2" y="201.9" width="108.8" height="96.1" fill="none" stroke="#333" stroke-width="1.6"/>
<text x="45.8" y="195.8" font-size="9">ER+/PR+ (<tspan font-style="italic">n=3,262</tspan>)</text>
<text x="27.1" y="213.3" font-size="6.4" text-anchor="end">1</text>
<text x="27.1" y="229.5" font-size="6.4" text-anchor="end">0</text>
<text x="27.1" y="245.7" font-size="6.4" text-anchor="end">-1</text>
<text x="27.1" y="261.9" font-size="6.4" text-anchor="end">-2</text>
<text x="27.1" y="278.1" font-size="6.4" text-anchor="end">-3</text>
<text x="27.1" y="294.3" font-size="6.4" text-anchor="end">-4</text>
<text x="42.2" y="307.4" font-size="6.4" text-anchor="middle">-4</text>
<text x="59.7" y="307.4" font-size="6.4" text-anchor="middle">-2</text>
<text x="78" y="307.4" font-size="6.4" text-anchor="middle">-1</text>
<text x="95.5" y="307.4" font-size="6.4" text-anchor="middle">0</text>
<text x="111.7" y="307.4" font-size="6.4" text-anchor="middle">1</text>
<text x="128.5" y="307.4" font-size="6.4" text-anchor="middle">2</text>
<text transform="translate(18.9 254.05) rotate(-90)" font-size="7.8" font-style="italic" text-anchor="middle">FOXA1</text>
<text x="80" y="318.1" font-size="8.3" font-style="italic" text-anchor="middle">TNFAIP3</text>
<text transform="translate(35.2 292.6) scale(1 1.1)" font-size="7.8" font-style="italic">R= -0.37</text>
<text transform="translate(134.4 292.6) scale(1 1.1)" font-size="8" font-style="italic" text-anchor="end">P&lt;0.0001</text>
<path d="M218.4 231.2h.01M235.7 273.2h.01M218.2 249.3h.01M224.1 239.7h.01M222.9 233.5h.01M224 246h.01M230.4 284.4h.01M211.6 242h.01M207 260.2h.01M213 245h.01M211.7 234.9h.01M210.7 235.3h.01M224.7 248.9h.01M226.2 243.5h.01M208.5 287.5h.01M195.2 265.2h.01M197.8 234.2h.01M216.2 234.1h.01M215.9 234.5h.01M205.7 252.2h.01M217.6 249.6h.01M226.2 230.5h.01M217.1 233h.01M222.5 241.7h.01M197.1 234.2h.01M222 235h.01M211.2 250.4h.01M218 234.4h.01M201.5 266.4h.01M209.4 242.9h.01M208.2 267.8h.01M206.7 268.7h.01M218.1 274.2h.01M214.5 253.3h.01M215.7 237.7h.01M228.2 256.2h.01M221.7 245.4h.01M220.6 291.9h.01M223.4 237.6h.01M218.9 239.4h.01M227.8 258h.01M222.1 292.6h.01M213.4 232.6h.01M214.6 268.9h.01M223.5 245.4h.01M209.6 255.1h.01M217.2 262.1h.01M216.9 276.1h.01M214.8 231.5h.01M221.5 234.6h.01M227.4 239.6h.01M234.9 258.5h.01M221.6 230.1h.01M224 230.5h.01M226.4 241.9h.01M201.7 246.6h.01M204.8 247.8h.01M224.7 251.5h.01M221.2 270.2h.01M212.3 246.8h.01M224.4 247.5h.01M210.4 233.8h.01M205.8 237.3h.01M220.6 281.8h.01M220.8 253h.01M223.9 238.6h.01M244.3 251.6h.01M212.8 235.3h.01M225.5 230.8h.01M211.6 274.3h.01M216.1 248.3h.01M232.5 250.1h.01M214.9 237.5h.01M200.6 259.5h.01M189.3 271.7h.01M229.8 271.1h.01M218.3 242.3h.01M228.2 231.5h.01M214 247.2h.01M205.7 271.1h.01M209.1 235.3h.01M228.3 262.8h.01M222.5 273.9h.01M228.1 235.3h.01M200 253.6h.01M231 257.8h.01M220 243.5h.01M219.7 233h.01M217.6 235.9h.01M226.7 252.7h.01M213.1 233.2h.01M226.2 237.4h.01M219.2 261.5h.01M229.8 252.6h.01M224 291.3h.01M211 233.1h.01M217.9 236.8h.01M214.7 266.4h.01M225.3 230.5h.01M227.6 271h.01M216.5 239.3h.01M224.9 245h.01M208.2 246.6h.01M211.9 247.3h.01M206.5 232.2h.01M220.4 231.3h.01M220 248.5h.01M221.1 263.4h.01M225.8 271.2h.01M212.6 254.1h.01M261.9 292.1h.01M259.6 236.6h.01M256 280h.01M220.4 259.3h.01M263.2 289.1h.01M255.6 279.8h.01M247.8 236.2h.01M194.8 241.8h.01M223.6 240.3h.01" stroke="#5580e4" stroke-width="1.6" stroke-linecap="square" fill="none"/>
<path d="M168 211.4h.01M169.4 213.5h.01M170.1 219.1h.01M172.2 214.9h.01M172.9 217.7h.01M174.3 216.3h.01M174.3 220.5h.01M176.4 219.1h.01M176.4 224h.01M176.4 230.3h.01M177.1 215.6h.01M178.5 214.9h.01M178.5 219.1h.01M179.2 224h.01M179.2 228.2h.01M179.9 221.9h.01M179.9 227.5h.01M179.9 228.2h.01M180.6 217h.01M180.6 217.7h.01M180.6 222.6h.01M180.6 224h.01M180.6 225.4h.01M180.6 229.6h.01M181.3 227.5h.01M181.3 233.1h.01M182 218.4h.01M182 221.2h.01M182.7 214.9h.01M182.7 215.6h.01M182.7 216.3h.01M182.7 217.7h.01M182.7 219.8h.01M182.7 221.2h.01M182.7 225.4h.01M182.7 235.9h.01M183.4 214.2h.01M183.4 219.1h.01M183.4 221.2h.01M183.4 224h.01M183.4 226.1h.01M184.1 214.9h.01M184.1 216.3h.01M184.1 221.2h.01M184.8 214.2h.01M184.8 223.3h.01M184.8 224h.01M184.8 224.7h.01M184.8 229.6h.01M185.5 212.8h.01M185.5 217.7h.01M185.5 221.2h.01M186.2 219.1h.01M186.2 224h.01M186.9 214.9h.01M186.9 223.3h.01M187.6 221.9h.01M187.6 226.1h.01M188.3 210.7h.01M188.3 212.1h.01M188.3 212.8h.01M188.3 215.6h.01M188.3 217.7h.01M188.3 220.5h.01M188.3 223.3h.01M188.3 232.4h.01M189 215.6h.01M189 217h.01M189 219.1h.01M189 222.6h.01M189 223.3h.01M189 228.2h.01M189.7 210h.01M189.7 214.9h.01M189.7 216.3h.01M189.7 218.4h.01M189.7 219.1h.01M189.7 219.8h.01M189.7 220.5h.01M189.7 223.3h.01M189.7 224h.01M190.4 210.7h.01M190.4 213.5h.01M190.4 214.9h.01M190.4 217h.01M190.4 217.7h.01M190.4 221.2h.01M190.4 224.7h.01M190.4 226.1h.01M190.4 228.9h.01M190.4 231.7h.01M191.1 212.8h.01M191.1 217.7h.01M191.1 218.4h.01M191.1 219.1h.01M191.1 219.8h.01M191.1 220.5h.01M191.1 222.6h.01M191.1 223.3h.01M191.1 225.4h.01M191.1 235.2h.01M191.1 235.9h.01M191.8 215.6h.01M191.8 216.3h.01M191.8 217h.01M191.8 217.7h.01M191.8 219.8h.01M191.8 221.9h.01M191.8 227.5h.01M191.8 231.7h.01M192.5 215.6h.01M192.5 217.7h.01M192.5 219.8h.01M192.5 220.5h.01M192.5 221.2h.01M192.5 221.9h.01M192.5 222.6h.01M192.5 225.4h.01M192.5 226.1h.01M192.5 226.8h.01M193.2 214.2h.01M193.2 215.6h.01M193.2 217h.01M193.2 217.7h.01M193.2 218.4h.01M193.2 219.8h.01M193.2 221.9h.01M193.2 223.3h.01M193.2 226.1h.01M193.2 227.5h.01M193.2 231.7h.01M193.9 213.5h.01M193.9 215.6h.01M193.9 216.3h.01M193.9 217h.01M193.9 217.7h.01M193.9 218.4h.01M193.9 219.8h.01M193.9 220.5h.01M193.9 221.9h.01M193.9 222.6h.01M193.9 224h.01M193.9 225.4h.01M193.9 226.1h.01M193.9 228.2h.01M193.9 228.9h.01M193.9 238.7h.01M194.6 203.7h.01M194.6 211.4h.01M194.6 212.1h.01M194.6 213.5h.01M194.6 214.9h.01M194.6 215.6h.01M194.6 218.4h.01M194.6 219.1h.01M194.6 220.5h.01M194.6 221.9h.01M194.6 222.6h.01M194.6 223.3h.01M194.6 224h.01M194.6 228.2h.01M194.6 228.9h.01M195.3 213.5h.01M195.3 216.3h.01M195.3 217h.01M195.3 217.7h.01M195.3 218.4h.01M195.3 219.1h.01M195.3 220.5h.01M195.3 221.2h.01M195.3 221.9h.01M195.3 222.6h.01M195.3 223.3h.01M195.3 224h.01M195.3 224.7h.01M195.3 225.4h.01M195.3 228.9h.01M195.3 229.6h.01M195.3 231h.01M196 213.5h.01M196 214.9h.01M196 215.6h.01M196 217h.01M196 218.4h.01M196 219.1h.01M196 219.8h.01M196 220.5h.01M196 221.2h.01M196 221.9h.01M196 223.3h.01M196 224.7h.01M196 226.8h.01M196 231.7h.01M196.7 214.2h.01M196.7 215.6h.01M196.7 216.3h.01M196.7 217h.01M196.7 217.7h.01M196.7 218.4h.01M196.7 219.1h.01M196.7 220.5h.01M196.7 221.2h.01M196.7 221.9h.01M196.7 223.3h.01M196.7 224.7h.01M196.7 228.9h.01M197.4 214.2h.01M197.4 214.9h.01M197.4 215.6h.01M197.4 216.3h.01M197.4 217h.01M197.4 218.4h.01M197.4 219.1h.01M197.4 219.8h.01M197.4 220.5h.01M197.4 221.2h.01M197.4 221.9h.01M197.4 222.6h.01M197.4 223.3h.01M197.4 225.4h.01M197.4 228.2h.01M197.4 228.9h.01M198.1 210h.01M198.1 213.5h.01M198.1 214.2h.01M198.1 214.9h.01M198.1 215.6h.01M198.1 216.3h.01M198.1 217h.01M198.1 217.7h.01M198.1 218.4h.01M198.1 219.1h.01M198.1 220.5h.01M198.1 221.2h.01M198.1 221.9h.01M198.1 222.6h.01M198.1 224h.01M198.1 225.4h.01M198.1 226.1h.01M198.1 228.2h.01M198.8 211.4h.01M198.8 212.1h.01M198.8 213.5h.01M198.8 216.3h.01M198.8 217h.01M198.8 217.7h.01M198.8 218.4h.01M198.8 220.5h.01M198.8 221.2h.01M198.8 221.9h.01M198.8 222.6h.01M198.8 223.3h.01M198.8 224h.01M198.8 224.7h.01M198.8 226.1h.01M198.8 226.8h.01M198.8 227.5h.01M198.8 228.2h.01M199.5 208.6h.01M199.5 212.8h.01M199.5 214.2h.01M199.5 215.6h.01M199.5 216.3h.01M199.5 217h.01M199.5 217.7h.01M199.5 218.4h.01M199.5 219.1h.01M199.5 219.8h.01M199.5 220.5h.01M199.5 221.9h.01M199.5 222.6h.01M199.5 223.3h.01M199.5 224h.01M199.5 225.4h.01M199.5 226.1h.01M199.5 228.2h.01M199.5 230.3h.01M200.2 212.1h.01M200.2 213.5h.01M200.2 214.2h.01M200.2 214.9h.01M200.2 215.6h.01M200.2 216.3h.01M200.2 217.7h.01M200.2 218.4h.01M200.2 219.1h.01M200.2 219.8h.01M200.2 220.5h.01M200.2 221.2h.01M200.2 221.9h.01M200.2 222.6h.01M200.2 223.3h.01M200.2 224.7h.01M200.2 225.4h.01M200.2 226.1h.01M200.2 228.2h.01M200.2 228.9h.01M200.2 230.3h.01M200.9 209.3h.01M200.9 212.8h.01M200.9 214.2h.01M200.9 215.6h.01M200.9 216.3h.01M200.9 217h.01M200.9 217.7h.01M200.9 218.4h.01M200.9 219.1h.01M200.9 219.8h.01M200.9 220.5h.01M200.9 221.2h.01M200.9 221.9h.01M200.9 222.6h.01M200.9 224h.01M200.9 224.7h.01M200.9 225.4h.01M200.9 226.1h.01M200.9 226.8h.01M200.9 227.5h.01M200.9 230.3h.01M200.9 231.7h.01M201.6 212.1h.01M201.6 212.8h.01M201.6 213.5h.01M201.6 214.2h.01M201.6 214.9h.01M201.6 215.6h.01M201.6 216.3h.01M201.6 217h.01M201.6 218.4h.01M201.6 219.1h.01M201.6 220.5h.01M201.6 221.2h.01M201.6 221.9h.01M201.6 222.6h.01M201.6 223.3h.01M201.6 224h.01M201.6 224.7h.01M201.6 225.4h.01M201.6 226.8h.01M201.6 229.6h.01M202.3 207.2h.01M202.3 210.7h.01M202.3 211.4h.01M202.3 212.8h.01M202.3 213.5h.01M202.3 214.9h.01M202.3 215.6h.01M202.3 216.3h.01M202.3 217.7h.01M202.3 218.4h.01M202.3 219.1h.01M202.3 219.8h.01M202.3 220.5h.01M202.3 221.2h.01M202.3 221.9h.01M202.3 222.6h.01M202.3 224h.01M202.3 224.7h.01M202.3 225.4h.01M202.3 226.1h.01M202.3 227.5h.01M202.3 228.9h.01M202.3 231h.01M203 213.5h.01M203 214.2h.01M203 216.3h.01M203 217h.01M203 217.7h.01M203 219.1h.01M203 219.8h.01M203 220.5h.01M203 221.2h.01M203 221.9h.01M203 222.6h.01M203 223.3h.01M203 224h.01M203 224.7h.01M203 225.4h.01M203 226.1h.01M203 228.9h.01M203 230.3h.01M203 231h.01M203 233.8h.01M203.7 207.2h.01M203.7 211.4h.01M203.7 212.8h.01M203.7 213.5h.01M203.7 214.2h.01M203.7 214.9h.01M203.7 215.6h.01M203.7 216.3h.01M203.7 217.7h.01M203.7 218.4h.01M203.7 219.1h.01M203.7 219.8h.01M203.7 220.5h.01M203.7 221.2h.01M203.7 221.9h.01M203.7 222.6h.01M203.7 223.3h.01M203.7 224h.01M203.7 225.4h.01M203.7 227.5h.01M203.7 228.2h.01M203.7 228.9h.01M203.7 231.7h.01M203.7 233.1h.01M204.4 213.5h.01M204.4 214.2h.01M204.4 215.6h.01M204.4 216.3h.01M204.4 217h.01M204.4 218.4h.01M204.4 219.1h.01M204.4 219.8h.01M204.4 220.5h.01M204.4 221.2h.01M204.4 221.9h.01M204.4 222.6h.01M204.4 223.3h.01M204.4 224h.01M204.4 224.7h.01M204.4 225.4h.01M204.4 226.1h.01M204.4 226.8h.01M204.4 227.5h.01M204.4 228.2h.01M204.4 228.9h.01M204.4 229.6h.01M205.1 208.6h.01M205.1 211.4h.01M205.1 212.1h.01M205.1 212.8h.01M205.1 213.5h.01M205.1 214.2h.01M205.1 214.9h.01M205.1 216.3h.01M205.1 217h.01M205.1 218.4h.01M205.1 219.1h.01M205.1 219.8h.01M205.1 220.5h.01M205.1 221.2h.01M205.1 221.9h.01M205.1 222.6h.01M205.1 223.3h.01M205.1 224h.01M205.1 224.7h.01M205.1 226.1h.01M205.1 226.8h.01M205.1 227.5h.01M205.1 228.2h.01M205.1 228.9h.01M205.1 229.6h.01M205.1 231h.01M205.1 231.7h.01M205.8 214.2h.01M205.8 214.9h.01M205.8 215.6h.01M205.8 216.3h.01M205.8 217h.01M205.8 217.7h.01M205.8 218.4h.01M205.8 219.1h.01M205.8 219.8h.01M205.8 220.5h.01M205.8 221.2h.01M205.8 221.9h.01M205.8 222.6h.01M205.8 223.3h.01M205.8 224h.01M205.8 224.7h.01M205.8 226.8h.01M205.8 228.9h.01M205.8 229.6h.01M205.8 236.6h.01M206.5 211.4h.01M206.5 214.2h.01M206.5 214.9h.01M206.5 215.6h.01M206.5 216.3h.01M206.5 217h.01M206.5 217.7h.01M206.5 218.4h.01M206.5 219.1h.01M206.5 219.8h.01M206.5 220.5h.01M206.5 221.9h.01M206.5 222.6h.01M206.5 223.3h.01M206.5 224h.01M206.5 224.7h.01M206.5 225.4h.01M206.5 226.1h.01M206.5 226.8h.01M206.5 228.2h.01M206.5 231.7h.01M206.5 234.5h.01M207.2 206.5h.01M207.2 213.5h.01M207.2 214.9h.01M207.2 215.6h.01M207.2 216.3h.01M207.2 217h.01M207.2 217.7h.01M207.2 218.4h.01M207.2 219.1h.01M207.2 219.8h.01M207.2 220.5h.01M207.2 221.2h.01M207.2 221.9h.01M207.2 223.3h.01M207.2 224h.01M207.2 224.7h.01M207.2 226.1h.01M207.2 226.8h.01M207.2 227.5h.01M207.2 228.2h.01M207.2 229.6h.01M207.9 205.8h.01M207.9 209.3h.01M207.9 210.7h.01M207.9 212.8h.01M207.9 213.5h.01M207.9 214.2h.01M207.9 214.9h.01M207.9 215.6h.01M207.9 216.3h.01M207.9 217h.01M207.9 217.7h.01M207.9 218.4h.01M207.9 219.1h.01M207.9 219.8h.01M207.9 220.5h.01M207.9 221.2h.01M207.9 221.9h.01M207.9 222.6h.01M207.9 223.3h.01M207.9 224h.01M207.9 224.7h.01M207.9 225.4h.01M207.9 226.1h.01M207.9 226.8h.01M207.9 228.2h.01M207.9 234.5h.01M208.6 212.1h.01M208.6 212.8h.01M208.6 213.5h.01M208.6 214.2h.01M208.6 214.9h.01M208.6 215.6h.01M208.6 216.3h.01M208.6 217h.01M208.6 217.7h.01M208.6 218.4h.01M208.6 219.1h.01M208.6 219.8h.01M208.6 220.5h.01M208.6 221.2h.01M208.6 221.9h.01M208.6 222.6h.01M208.6 223.3h.01M208.6 224.7h.01M208.6 225.4h.01M208.6 226.1h.01M208.6 226.8h.01M208.6 227.5h.01M208.6 228.9h.01M208.6 230.3h.01M208.6 240.8h.01M209.3 213.5h.01M209.3 214.2h.01M209.3 214.9h.01M209.3 215.6h.01M209.3 216.3h.01M209.3 217h.01M209.3 217.7h.01M209.3 219.8h.01M209.3 220.5h.01M209.3 221.2h.01M209.3 221.9h.01M209.3 222.6h.01M209.3 223.3h.01M209.3 224h.01M209.3 224.7h.01M209.3 225.4h.01M209.3 226.1h.01M209.3 226.8h.01M209.3 227.5h.01M209.3 228.9h.01M209.3 230.3h.01M209.3 231h.01M210 209.3h.01M210 212.1h.01M210 214.2h.01M210 214.9h.01M210 216.3h.01M210 217.7h.01M210 218.4h.01M210 219.1h.01M210 219.8h.01M210 220.5h.01M210 221.2h.01M210 221.9h.01M210 222.6h.01M210 224h.01M210 224.7h.01M210 225.4h.01M210 226.1h.01M210 226.8h.01M210 227.5h.01M210 228.2h.01M210 228.9h.01M210 229.6h.01M210 230.3h.01M210.7 212.1h.01M210.7 212.8h.01M210.7 214.2h.01M210.7 214.9h.01M210.7 216.3h.01M210.7 217.7h.01M210.7 219.1h.01M210.7 219.8h.01M210.7 220.5h.01M210.7 221.2h.01M210.7 221.9h.01M210.7 223.3h.01M210.7 224h.01M210.7 224.7h.01M210.7 225.4h.01M210.7 226.1h.01M210.7 226.8h.01M210.7 227.5h.01M210.7 229.6h.01M211.4 211.4h.01M211.4 214.2h.01M211.4 215.6h.01M211.4 216.3h.01M211.4 217h.01M211.4 218.4h.01M211.4 219.1h.01M211.4 219.8h.01M211.4 220.5h.01M211.4 221.2h.01M211.4 221.9h.01M211.4 222.6h.01M211.4 223.3h.01M211.4 224h.01M211.4 224.7h.01M211.4 225.4h.01M211.4 226.1h.01M211.4 226.8h.01M211.4 227.5h.01M211.4 230.3h.01M211.4 233.8h.01M211.4 237.3h.01M211.4 238h.01M212.1 210.7h.01M212.1 212.8h.01M212.1 214.2h.01M212.1 214.9h.01M212.1 215.6h.01M212.1 216.3h.01M212.1 217h.01M212.1 218.4h.01M212.1 219.8h.01M212.1 220.5h.01M212.1 221.2h.01M212.1 221.9h.01M212.1 222.6h.01M212.1 223.3h.01M212.1 224h.01M212.1 224.7h.01M212.1 225.4h.01M212.1 226.1h.01M212.1 226.8h.01M212.1 228.2h.01M212.1 229.6h.01M212.1 230.3h.01M212.8 210.7h.01M212.8 212.1h.01M212.8 213.5h.01M212.8 214.9h.01M212.8 215.6h.01M212.8 216.3h.01M212.8 217h.01M212.8 217.7h.01M212.8 218.4h.01M212.8 219.1h.01M212.8 219.8h.01M212.8 220.5h.01M212.8 221.2h.01M212.8 221.9h.01M212.8 222.6h.01M212.8 223.3h.01M212.8 224h.01M212.8 224.7h.01M212.8 225.4h.01M212.8 226.1h.01M212.8 226.8h.01M212.8 227.5h.01M212.8 228.2h.01M212.8 229.6h.01M212.8 231h.01M213.5 213.5h.01M213.5 214.2h.01M213.5 214.9h.01M213.5 215.6h.01M213.5 216.3h.01M213.5 217h.01M213.5 217.7h.01M213.5 218.4h.01M213.5 219.1h.01M213.5 219.8h.01M213.5 220.5h.01M213.5 221.2h.01M213.5 221.9h.01M213.5 222.6h.01M213.5 223.3h.01M213.5 224h.01M213.5 224.7h.01M213.5 225.4h.01M213.5 226.1h.01M213.5 226.8h.01M213.5 228.9h.01M214.2 211.4h.01M214.2 212.1h.01M214.2 212.8h.01M214.2 215.6h.01M214.2 217h.01M214.2 217.7h.01M214.2 218.4h.01M214.2 219.1h.01M214.2 219.8h.01M214.2 220.5h.01M214.2 221.2h.01M214.2 221.9h.01M214.2 222.6h.01M214.2 223.3h.01M214.2 224h.01M214.2 224.7h.01M214.2 225.4h.01M214.2 226.1h.01M214.2 226.8h.01M214.2 227.5h.01M214.2 228.2h.01M214.2 228.9h.01M214.2 229.6h.01M214.2 230.3h.01M214.9 210.7h.01M214.9 213.5h.01M214.9 214.2h.01M214.9 215.6h.01M214.9 216.3h.01M214.9 217h.01M214.9 217.7h.01M214.9 218.4h.01M214.9 219.1h.01M214.9 219.8h.01M214.9 220.5h.01M214.9 221.2h.01M214.9 221.9h.01M214.9 222.6h.01M214.9 223.3h.01M214.9 224.7h.01M214.9 225.4h.01M214.9 226.1h.01M214.9 226.8h.01M214.9 227.5h.01M214.9 228.9h.01M214.9 231.7h.01M214.9 235.9h.01M214.9 238.7h.01M215.6 211.4h.01M215.6 212.1h.01M215.6 213.5h.01M215.6 214.9h.01M215.6 216.3h.01M215.6 217h.01M215.6 217.7h.01M215.6 218.4h.01M215.6 219.1h.01M215.6 219.8h.01M215.6 220.5h.01M215.6 221.2h.01M215.6 221.9h.01M215.6 222.6h.01M215.6 223.3h.01M215.6 224h.01M215.6 225.4h.01M215.6 227.5h.01M215.6 228.2h.01M215.6 238.7h.01M216.3 209.3h.01M216.3 210.7h.01M216.3 211.4h.01M216.3 212.1h.01M216.3 213.5h.01M216.3 214.9h.01M216.3 215.6h.01M216.3 216.3h.01M216.3 217.7h.01M216.3 218.4h.01M216.3 219.1h.01M216.3 219.8h.01M216.3 220.5h.01M216.3 221.2h.01M216.3 221.9h.01M216.3 222.6h.01M216.3 223.3h.01M216.3 224h.01M216.3 224.7h.01M216.3 225.4h.01M216.3 226.1h.01M216.3 227.5h.01M216.3 228.9h.01M216.3 229.6h.01M216.3 230.3h.01M217 207.9h.01M217 211.4h.01M217 214.2h.01M217 214.9h.01M217 216.3h.01M217 217h.01M217 217.7h.01M217 218.4h.01M217 219.1h.01M217 219.8h.01M217 220.5h.01M217 221.2h.01M217 221.9h.01M217 222.6h.01M217 223.3h.01M217 224h.01M217 224.7h.01M217 225.4h.01M217 226.1h.01M217 226.8h.01M217 227.5h.01M217 228.2h.01M217 228.9h.01M217 232.4h.01M217 241.5h.01M217.7 210.7h.01M217.7 212.1h.01M217.7 213.5h.01M217.7 214.2h.01M217.7 215.6h.01M217.7 216.3h.01M217.7 217h.01M217.7 217.7h.01M217.7 218.4h.01M217.7 219.1h.01M217.7 219.8h.01M217.7 220.5h.01M217.7 221.2h.01M217.7 221.9h.01M217.7 222.6h.01M217.7 223.3h.01M217.7 224h.01M217.7 224.7h.01M217.7 225.4h.01M217.7 226.1h.01M217.7 227.5h.01M217.7 228.2h.01M217.7 228.9h.01M217.7 229.6h.01M217.7 230.3h.01M217.7 231h.01M217.7 231.7h.01M217.7 233.1h.01M218.4 210.7h.01M218.4 211.4h.01M218.4 212.1h.01M218.4 212.8h.01M218.4 214.2h.01M218.4 215.6h.01M218.4 216.3h.01M218.4 217h.01M218.4 217.7h.01M218.4 218.4h.01M218.4 219.1h.01M218.4 219.8h.01M218.4 220.5h.01M218.4 221.2h.01M218.4 221.9h.01M218.4 222.6h.01M218.4 223.3h.01M218.4 224h.01M218.4 224.7h.01M218.4 225.4h.01M218.4 226.1h.01M218.4 226.8h.01M218.4 227.5h.01M218.4 228.2h.01M218.4 229.6h.01M218.4 230.3h.01M218.4 231.7h.01M218.4 234.5h.01M219.1 209.3h.01M219.1 212.1h.01M219.1 212.8h.01M219.1 213.5h.01M219.1 214.2h.01M219.1 215.6h.01M219.1 216.3h.01M219.1 217h.01M219.1 217.7h.01M219.1 218.4h.01M219.1 219.1h.01M219.1 219.8h.01M219.1 220.5h.01M219.1 221.2h.01M219.1 221.9h.01M219.1 222.6h.01M219.1 223.3h.01M219.1 224h.01M219.1 224.7h.01M219.1 225.4h.01M219.1 226.1h.01M219.1 226.8h.01M219.1 227.5h.01M219.1 228.9h.01M219.1 229.6h.01M219.1 235.2h.01M219.1 236.6h.01M219.8 210.7h.01M219.8 213.5h.01M219.8 214.9h.01M219.8 215.6h.01M219.8 216.3h.01M219.8 217h.01M219.8 217.7h.01M219.8 218.4h.01M219.8 219.1h.01M219.8 219.8h.01M219.8 220.5h.01M219.8 221.2h.01M219.8 221.9h.01M219.8 222.6h.01M219.8 223.3h.01M219.8 224h.01M219.8 224.7h.01M219.8 225.4h.01M219.8 226.1h.01M219.8 226.8h.01M219.8 227.5h.01M219.8 228.9h.01M219.8 229.6h.01M219.8 231.7h.01M219.8 232.4h.01M219.8 233.1h.01M220.5 212.1h.01M220.5 213.5h.01M220.5 216.3h.01M220.5 217h.01M220.5 217.7h.01M220.5 218.4h.01M220.5 219.1h.01M220.5 219.8h.01M220.5 220.5h.01M220.5 221.2h.01M220.5 221.9h.01M220.5 223.3h.01M220.5 224h.01M220.5 224.7h.01M220.5 225.4h.01M220.5 226.8h.01M220.5 227.5h.01M220.5 228.9h.01M220.5 230.3h.01M220.5 231h.01M220.5 232.4h.01M221.2 212.8h.01M221.2 213.5h.01M221.2 215.6h.01M221.2 216.3h.01M221.2 217h.01M221.2 217.7h.01M221.2 218.4h.01M221.2 219.1h.01M221.2 219.8h.01M221.2 220.5h.01M221.2 221.2h.01M221.2 221.9h.01M221.2 222.6h.01M221.2 223.3h.01M221.2 224h.01M221.2 224.7h.01M221.2 225.4h.01M221.2 227.5h.01M221.2 228.2h.01M221.2 229.6h.01M221.2 230.3h.01M221.2 231h.01M221.2 233.8h.01M221.9 211.4h.01M221.9 212.1h.01M221.9 212.8h.01M221.9 214.9h.01M221.9 215.6h.01M221.9 216.3h.01M221.9 217h.01M221.9 217.7h.01M221.9 218.4h.01M221.9 219.1h.01M221.9 219.8h.01M221.9 220.5h.01M221.9 221.2h.01M221.9 221.9h.01M221.9 222.6h.01M221.9 224h.01M221.9 224.7h.01M221.9 226.8h.01M221.9 227.5h.01M221.9 231h.01M221.9 233.1h.01M222.6 207.9h.01M222.6 211.4h.01M222.6 212.1h.01M222.6 212.8h.01M222.6 214.9h.01M222.6 215.6h.01M222.6 216.3h.01M222.6 217h.01M222.6 218.4h.01M222.6 219.1h.01M222.6 219.8h.01M222.6 220.5h.01M222.6 221.2h.01M222.6 221.9h.01M222.6 222.6h.01M222.6 223.3h.01M222.6 224h.01M222.6 224.7h.01M222.6 225.4h.01M222.6 226.1h.01M222.6 226.8h.01M222.6 227.5h.01M222.6 229.6h.01M222.6 230.3h.01M222.6 233.8h.01M222.6 236.6h.01M223.3 205.1h.01M223.3 206.5h.01M223.3 210h.01M223.3 212.1h.01M223.3 214.2h.01M223.3 216.3h.01M223.3 217h.01M223.3 218.4h.01M223.3 219.8h.01M223.3 220.5h.01M223.3 221.9h.01M223.3 222.6h.01M223.3 223.3h.01M223.3 224h.01M223.3 224.7h.01M223.3 225.4h.01M223.3 226.1h.01M223.3 226.8h.01M223.3 227.5h.01M223.3 229.6h.01M223.3 230.3h.01M223.3 232.4h.01M223.3 233.1h.01M223.3 236.6h.01M224 210.7h.01M224 214.9h.01M224 215.6h.01M224 216.3h.01M224 217h.01M224 217.7h.01M224 218.4h.01M224 219.1h.01M224 219.8h.01M224 220.5h.01M224 221.2h.01M224 221.9h.01M224 222.6h.01M224 223.3h.01M224 224h.01M224 225.4h.01M224 226.8h.01M224 227.5h.01M224 228.2h.01M224 228.9h.01M224 229.6h.01M224 231h.01M224 232.4h.01M224.7 214.2h.01M224.7 214.9h.01M224.7 215.6h.01M224.7 216.3h.01M224.7 217h.01M224.7 217.7h.01M224.7 219.1h.01M224.7 219.8h.01M224.7 220.5h.01M224.7 221.2h.01M224.7 221.9h.01M224.7 222.6h.01M224.7 223.3h.01M224.7 224h.01M224.7 224.7h.01M224.7 225.4h.01M224.7 226.1h.01M224.7 227.5h.01M224.7 228.2h.01M224.7 228.9h.01M224.7 229.6h.01M225.4 210.7h.01M225.4 212.1h.01M225.4 214.2h.01M225.4 214.9h.01M225.4 215.6h.01M225.4 216.3h.01M225.4 217h.01M225.4 217.7h.01M225.4 218.4h.01M225.4 219.8h.01M225.4 220.5h.01M225.4 221.2h.01M225.4 221.9h.01M225.4 222.6h.01M225.4 223.3h.01M225.4 224h.01M225.4 224.7h.01M225.4 225.4h.01M225.4 226.1h.01M225.4 226.8h.01M225.4 227.5h.01M225.4 228.2h.01M225.4 228.9h.01M225.4 229.6h.01M225.4 230.3h.01M225.4 231h.01M225.4 233.8h.01M226.1 212.8h.01M226.1 213.5h.01M226.1 214.9h.01M226.1 215.6h.01M226.1 216.3h.01M226.1 217.7h.01M226.1 218.4h.01M226.1 219.1h.01M226.1 219.8h.01M226.1 220.5h.01M226.1 221.2h.01M226.1 221.9h.01M226.1 222.6h.01M226.1 223.3h.01M226.1 224h.01M226.1 224.7h.01M226.1 225.4h.01M226.1 226.1h.01M226.1 226.8h.01M226.1 228.2h.01M226.1 230.3h.01M226.8 212.8h.01M226.8 214.2h.01M226.8 214.9h.01M226.8 215.6h.01M226.8 216.3h.01M226.8 217h.01M226.8 218.4h.01M226.8 219.1h.01M226.8 219.8h.01M226.8 220.5h.01M226.8 221.2h.01M226.8 221.9h.01M226.8 222.6h.01M226.8 223.3h.01M226.8 224h.01M226.8 224.7h.01M226.8 225.4h.01M226.8 226.1h.01M226.8 226.8h.01M226.8 227.5h.01M226.8 228.9h.01M226.8 231.7h.01M226.8 232.4h.01M226.8 233.8h.01M226.8 234.5h.01M226.8 235.9h.01M227.5 211.4h.01M227.5 212.1h.01M227.5 212.8h.01M227.5 214.2h.01M227.5 214.9h.01M227.5 215.6h.01M227.5 216.3h.01M227.5 218.4h.01M227.5 219.1h.01M227.5 219.8h.01M227.5 220.5h.01M227.5 221.9h.01M227.5 222.6h.01M227.5 223.3h.01M227.5 225.4h.01M227.5 226.1h.01M227.5 227.5h.01M227.5 228.2h.01M227.5 233.8h.01M228.2 212.1h.01M228.2 213.5h.01M228.2 215.6h.01M228.2 216.3h.01M228.2 217.7h.01M228.2 218.4h.01M228.2 219.8h.01M228.2 220.5h.01M228.2 221.9h.01M228.2 222.6h.01M228.2 223.3h.01M228.2 224h.01M228.2 224.7h.01M228.2 225.4h.01M228.2 226.1h.01M228.2 226.8h.01M228.2 227.5h.01M228.2 228.2h.01M228.2 229.6h.01M228.9 211.4h.01M228.9 213.5h.01M228.9 217h.01M228.9 217.7h.01M228.9 219.1h.01M228.9 220.5h.01M228.9 221.2h.01M228.9 221.9h.01M228.9 222.6h.01M228.9 224h.01M228.9 224.7h.01M228.9 226.1h.01M228.9 226.8h.01M228.9 227.5h.01M228.9 228.2h.01M228.9 229.6h.01M228.9 230.3h.01M229.6 206.5h.01M229.6 211.4h.01M229.6 214.2h.01M229.6 215.6h.01M229.6 216.3h.01M229.6 217.7h.01M229.6 219.1h.01M229.6 219.8h.01M229.6 220.5h.01M229.6 221.2h.01M229.6 221.9h.01M229.6 222.6h.01M229.6 223.3h.01M229.6 224h.01M229.6 224.7h.01M229.6 225.4h.01M229.6 226.1h.01M229.6 226.8h.01M229.6 228.2h.01M230.3 207.2h.01M230.3 212.8h.01M230.3 213.5h.01M230.3 215.6h.01M230.3 218.4h.01M230.3 219.1h.01M230.3 219.8h.01M230.3 220.5h.01M230.3 221.2h.01M230.3 222.6h.01M230.3 223.3h.01M230.3 224h.01M230.3 224.7h.01M230.3 225.4h.01M230.3 226.8h.01M230.3 227.5h.01M230.3 228.9h.01M230.3 233.1h.01M231 211.4h.01M231 212.1h.01M231 214.9h.01M231 216.3h.01M231 217h.01M231 217.7h.01M231 219.1h.01M231 219.8h.01M231 220.5h.01M231 221.9h.01M231 222.6h.01M231 223.3h.01M231 224h.01M231 224.7h.01M231 225.4h.01M231 226.8h.01M231 227.5h.01M231 228.9h.01M231 229.6h.01M231.7 214.2h.01M231.7 214.9h.01M231.7 217h.01M231.7 217.7h.01M231.7 219.8h.01M231.7 222.6h.01M231.7 223.3h.01M231.7 224h.01M231.7 224.7h.01M231.7 226.8h.01M231.7 231.7h.01M232.4 212.8h.01M232.4 216.3h.01M232.4 217h.01M232.4 218.4h.01M232.4 219.1h.01M232.4 219.8h.01M232.4 220.5h.01M232.4 221.2h.01M232.4 222.6h.01M232.4 223.3h.01M232.4 224h.01M232.4 224.7h.01M232.4 225.4h.01M232.4 226.1h.01M232.4 231h.01M232.4 235.9h.01M233.1 210h.01M233.1 212.8h.01M233.1 216.3h.01M233.1 219.8h.01M233.1 221.2h.01M233.1 221.9h.01M233.1 223.3h.01M233.1 224h.01M233.1 225.4h.01M233.1 228.2h.01M233.1 231h.01M233.1 234.5h.01M233.1 235.9h.01M233.8 211.4h.01M233.8 212.8h.01M233.8 215.6h.01M233.8 219.1h.01M233.8 219.8h.01M233.8 221.9h.01M233.8 222.6h.01M233.8 223.3h.01M233.8 224h.01M233.8 224.7h.01M233.8 225.4h.01M233.8 226.1h.01M233.8 228.2h.01M233.8 228.9h.01M233.8 231h.01M234.5 217h.01M234.5 218.4h.01M234.5 219.1h.01M234.5 219.8h.01M234.5 220.5h.01M234.5 221.2h.01M234.5 222.6h.01M234.5 223.3h.01M234.5 224.7h.01M234.5 226.1h.01M234.5 227.5h.01M234.5 229.6h.01M235.2 213.5h.01M235.2 215.6h.01M235.2 217.7h.01M235.2 219.1h.01M235.2 219.8h.01M235.2 220.5h.01M235.2 221.2h.01M235.2 221.9h.01M235.2 224h.01M235.2 230.3h.01M235.2 232.4h.01M235.9 214.2h.01M235.9 219.1h.01M235.9 219.8h.01M235.9 221.2h.01M235.9 221.9h.01M235.9 223.3h.01M235.9 226.1h.01M235.9 227.5h.01M235.9 228.9h.01M235.9 230.3h.01M235.9 231h.01M235.9 234.5h.01M236.6 212.8h.01M236.6 214.9h.01M236.6 215.6h.01M236.6 217h.01M236.6 217.7h.01M236.6 219.1h.01M236.6 219.8h.01M236.6 220.5h.01M236.6 221.2h.01M236.6 221.9h.01M236.6 224h.01M236.6 226.1h.01M236.6 227.5h.01M237.3 212.1h.01M237.3 214.9h.01M237.3 216.3h.01M237.3 217h.01M237.3 220.5h.01M237.3 221.2h.01M237.3 222.6h.01M237.3 223.3h.01M237.3 228.2h.01M237.3 230.3h.01M238 210.7h.01M238 216.3h.01M238 217.7h.01M238 219.1h.01M238 219.8h.01M238 220.5h.01M238 223.3h.01M238 229.6h.01M238.7 214.9h.01M238.7 217h.01M238.7 218.4h.01M238.7 219.8h.01M238.7 220.5h.01M238.7 231h.01M239.4 221.9h.01M239.4 230.3h.01M240.1 211.4h.01M240.1 217h.01M240.1 218.4h.01M240.1 219.1h.01M240.1 219.8h.01M240.1 220.5h.01M240.1 221.2h.01M240.1 221.9h.01M240.1 224.7h.01M240.1 225.4h.01M240.1 228.9h.01M240.1 230.3h.01M240.1 231.7h.01M240.1 232.4h.01M240.1 234.5h.01M240.8 219.1h.01M240.8 220.5h.01M240.8 221.2h.01M240.8 222.6h.01M240.8 223.3h.01M240.8 224.7h.01M240.8 226.1h.01M240.8 229.6h.01M240.8 230.3h.01M241.5 215.6h.01M241.5 217h.01M241.5 217.7h.01M241.5 219.1h.01M241.5 219.8h.01M241.5 226.8h.01M242.2 217h.01M242.2 218.4h.01M242.2 221.2h.01M242.2 221.9h.01M242.2 226.8h.01M242.9 217h.01M242.9 217.7h.01M242.9 224h.01M242.9 224.7h.01M242.9 225.4h.01M242.9 226.8h.01M242.9 228.2h.01M242.9 235.9h.01M243.6 212.8h.01M243.6 219.1h.01M243.6 224h.01M243.6 225.4h.01M243.6 226.1h.01M243.6 228.9h.01M244.3 217h.01M244.3 221.9h.01M244.3 224.7h.01M244.3 226.1h.01M244.3 226.8h.01M245 216.3h.01M245 218.4h.01M245 224.7h.01M245 226.8h.01M245.7 214.9h.01M245.7 221.9h.01M245.7 224.7h.01M245.7 231.7h.01M246.4 219.1h.01M247.1 218.4h.01M247.1 219.8h.01M247.1 223.3h.01M247.1 226.1h.01M247.1 227.5h.01M247.1 238.7h.01M247.8 209.3h.01M247.8 217h.01M247.8 225.4h.01M248.5 226.8h.01M249.2 212.1h.01M249.2 219.8h.01M249.2 226.8h.01M249.2 227.5h.01M249.2 228.9h.01M249.2 231.7h.01M249.9 217.7h.01M249.9 221.2h.01M249.9 233.8h.01M250.6 218.4h.01M250.6 219.8h.01M250.6 220.5h.01M250.6 221.9h.01M251.3 213.5h.01M252 215.6h.01M252 226.1h.01M252.7 228.2h.01M253.4 216.3h.01M253.4 231h.01M254.1 216.3h.01M255.5 221.2h.01M255.5 229.6h.01M255.5 233.1h.01M255.5 233.8h.01M256.2 221.9h.01M256.9 220.5h.01M256.9 221.2h.01M257.6 233.1h.01M258.3 213.5h.01M258.3 225.4h.01M258.3 228.9h.01M259 225.4h.01M262.5 226.1h.01" stroke="#2556d6" stroke-width="1.35" stroke-linecap="square" fill="none"/>
<line x1="168.5" y1="220.8" x2="271.2" y2="224.4" stroke="#f01020" stroke-width="2"/>
<rect x="165.8" y="201.9" width="109.7" height="96.1" fill="none" stroke="#333" stroke-width="1.6"/>
<text x="179.8" y="195.8" font-size="9">ER+/PR+ (<tspan font-style="italic">n=3,262</tspan>)</text>
<text x="162.7" y="213.3" font-size="6.4" text-anchor="end">1</text>
<text x="162.7" y="229.5" font-size="6.4" text-anchor="end">0</text>
<text x="162.7" y="245.7" font-size="6.4" text-anchor="end">-1</text>
<text x="162.7" y="261.9" font-size="6.4" text-anchor="end">-2</text>
<text x="162.7" y="278.1" font-size="6.4" text-anchor="end">-3</text>
<text x="162.7" y="294.3" font-size="6.4" text-anchor="end">-4</text>
<text x="176" y="307.4" font-size="6.4" text-anchor="middle">-2</text>
<text x="193" y="307.4" font-size="6.4" text-anchor="middle">-1</text>
<text x="209.7" y="307.4" font-size="6.4" text-anchor="middle">0</text>
<text x="225.2" y="307.4" font-size="6.4" text-anchor="middle">1</text>
<text x="240.5" y="307.4" font-size="6.4" text-anchor="middle">2</text>
<text x="256" y="307.4" font-size="6.4" text-anchor="middle">3</text>
<text x="271.5" y="307.4" font-size="6.4" text-anchor="middle">4</text>
<text transform="translate(154.5 254.05) rotate(-90)" font-size="7.8" font-style="italic" text-anchor="middle">FOXA1</text>
<text x="224.4" y="318.1" font-size="8.3" font-style="italic" text-anchor="middle">IL1B</text>
<text transform="translate(172.3 292.6) scale(1 1.1)" font-size="7.8" font-style="italic">R= -0.05</text>
<text transform="translate(270.9 292.6) scale(1 1.1)" font-size="8" font-style="italic" text-anchor="end">P&lt;0.0026</text>
<path d="M384.1 245.8h.01M374.9 244.7h.01M401.5 243.9h.01M389 268.8h.01M385.3 236.8h.01M374.9 240.9h.01M374 235.3h.01M393.3 246.6h.01M393.5 237.3h.01M380.7 248.5h.01M381.1 247.8h.01M389.5 249h.01M391.3 274.3h.01M392.2 242.6h.01M388.5 253.1h.01M391.3 254.5h.01M395.9 261.8h.01M408.3 239.5h.01M388.8 239.9h.01M396 249.3h.01M406.2 258.9h.01M388.1 260.2h.01M405 240h.01M396.9 237.5h.01M400.9 273.2h.01M380.6 241.6h.01M377.8 247.8h.01M406.2 239.3h.01M387.3 244.4h.01M389.3 269h.01M390.3 251.9h.01M375.9 247.4h.01M402.7 251.4h.01M389 245.1h.01M397.8 263.8h.01M405.9 243.1h.01M394.5 254.4h.01M382 260.5h.01M396 253.4h.01M387.1 259.6h.01M391.6 243h.01M391.4 235.4h.01M390.9 254.6h.01M380.8 248.7h.01M374.8 265.6h.01M394.7 264.5h.01M383.4 239.1h.01M394 258.2h.01M384.6 242.9h.01M386.8 249.1h.01M399.7 260h.01M376.8 271.8h.01M385.3 237h.01M391.9 254.8h.01M392 281.4h.01M384 244.5h.01M387.8 237.4h.01M375.9 237.2h.01M382.1 250.7h.01M394.5 244.6h.01M379.2 241.3h.01M384.8 243.2h.01M382.2 235.5h.01M381.8 287.8h.01M395 243.3h.01M386 272.6h.01M377.4 244h.01M378.9 255.9h.01M341.4 292.6h.01M378.4 292.1h.01M372.7 252.9h.01M339.1 285.7h.01M343.8 250h.01M354.6 251.9h.01M362.9 270.5h.01M376.5 277.4h.01M370.5 250.4h.01M346.1 255.1h.01M377.3 270.3h.01M353 251.6h.01M376.6 290.6h.01" stroke="#5580e4" stroke-width="1.6" stroke-linecap="square" fill="none"/>
<path d="M312.9 214.9h.01M317.1 218.4h.01M319.2 210h.01M320.6 219.8h.01M322.7 207.2h.01M322.7 210.7h.01M322.7 211.4h.01M323.4 212.8h.01M324.1 206.5h.01M324.8 210.7h.01M326.2 222.6h.01M326.9 209.3h.01M326.9 211.4h.01M327.6 219.1h.01M328.3 210.7h.01M328.3 214.2h.01M328.3 214.9h.01M329 207.9h.01M329 214.9h.01M329.7 207.9h.01M329.7 212.8h.01M330.4 207.2h.01M330.4 221.9h.01M331.1 219.1h.01M331.8 210.7h.01M331.8 212.8h.01M331.8 213.5h.01M331.8 214.9h.01M331.8 216.3h.01M331.8 221.9h.01M332.5 210.7h.01M332.5 217h.01M333.2 212.8h.01M333.2 217.7h.01M333.2 219.1h.01M333.2 223.3h.01M333.2 228.9h.01M333.9 209.3h.01M333.9 216.3h.01M333.9 218.4h.01M333.9 223.3h.01M334.6 205.8h.01M334.6 212.1h.01M334.6 216.3h.01M334.6 220.5h.01M335.3 204.4h.01M335.3 210.7h.01M335.3 214.2h.01M335.3 223.3h.01M336 217h.01M336 218.4h.01M336 219.8h.01M336.7 207.2h.01M336.7 209.3h.01M336.7 210.7h.01M336.7 213.5h.01M336.7 214.2h.01M336.7 214.9h.01M336.7 215.6h.01M336.7 219.1h.01M337.4 210h.01M337.4 210.7h.01M337.4 212.1h.01M337.4 212.8h.01M337.4 214.2h.01M337.4 217.7h.01M337.4 218.4h.01M337.4 219.1h.01M337.4 221.2h.01M337.4 226.1h.01M338.1 214.2h.01M338.1 214.9h.01M338.1 215.6h.01M338.1 217.7h.01M338.1 222.6h.01M338.1 225.4h.01M338.8 214.2h.01M338.8 214.9h.01M338.8 215.6h.01M338.8 216.3h.01M338.8 220.5h.01M338.8 224h.01M339.5 211.4h.01M339.5 212.8h.01M339.5 214.9h.01M339.5 215.6h.01M339.5 220.5h.01M339.5 221.2h.01M339.5 231.7h.01M340.2 209.3h.01M340.2 212.8h.01M340.2 214.2h.01M340.2 214.9h.01M340.2 215.6h.01M340.2 216.3h.01M340.2 217.7h.01M340.2 219.8h.01M340.2 221.9h.01M340.2 226.8h.01M340.9 209.3h.01M340.9 210h.01M340.9 210.7h.01M340.9 213.5h.01M340.9 214.9h.01M340.9 215.6h.01M340.9 218.4h.01M340.9 219.1h.01M340.9 219.8h.01M340.9 222.6h.01M341.6 205.8h.01M341.6 210.7h.01M341.6 212.1h.01M341.6 212.8h.01M341.6 214.9h.01M341.6 215.6h.01M341.6 216.3h.01M341.6 217h.01M341.6 217.7h.01M341.6 218.4h.01M342.3 209.3h.01M342.3 212.1h.01M342.3 212.8h.01M342.3 214.9h.01M342.3 215.6h.01M342.3 221.9h.01M343 209.3h.01M343 212.1h.01M343 214.2h.01M343 214.9h.01M343 215.6h.01M343 216.3h.01M343 217h.01M343 219.1h.01M343 221.9h.01M343.7 205.8h.01M343.7 209.3h.01M343.7 210.7h.01M343.7 212.1h.01M343.7 214.9h.01M343.7 215.6h.01M343.7 217.7h.01M343.7 218.4h.01M343.7 224.7h.01M343.7 226.1h.01M344.4 210h.01M344.4 210.7h.01M344.4 212.8h.01M344.4 216.3h.01M344.4 217h.01M344.4 217.7h.01M344.4 218.4h.01M344.4 219.1h.01M344.4 219.8h.01M344.4 220.5h.01M344.4 222.6h.01M344.4 223.3h.01M344.4 228.2h.01M345.1 207.9h.01M345.1 210h.01M345.1 214.2h.01M345.1 215.6h.01M345.1 216.3h.01M345.1 217h.01M345.1 217.7h.01M345.1 218.4h.01M345.1 219.1h.01M345.1 220.5h.01M345.1 221.2h.01M345.8 210h.01M345.8 211.4h.01M345.8 212.1h.01M345.8 212.8h.01M345.8 214.2h.01M345.8 214.9h.01M345.8 216.3h.01M345.8 217h.01M345.8 217.7h.01M345.8 218.4h.01M345.8 219.1h.01M345.8 219.8h.01M345.8 221.2h.01M345.8 223.3h.01M345.8 224h.01M345.8 224.7h.01M346.5 204.4h.01M346.5 205.1h.01M346.5 210.7h.01M346.5 212.1h.01M346.5 212.8h.01M346.5 213.5h.01M346.5 214.9h.01M346.5 215.6h.01M346.5 217h.01M346.5 217.7h.01M346.5 218.4h.01M346.5 219.1h.01M346.5 220.5h.01M346.5 222.6h.01M346.5 223.3h.01M346.5 224.7h.01M347.2 210.7h.01M347.2 212.1h.01M347.2 212.8h.01M347.2 214.9h.01M347.2 216.3h.01M347.2 218.4h.01M347.2 219.1h.01M347.2 219.8h.01M347.2 220.5h.01M347.2 221.2h.01M347.2 221.9h.01M347.9 208.6h.01M347.9 210.7h.01M347.9 211.4h.01M347.9 212.1h.01M347.9 213.5h.01M347.9 217h.01M347.9 217.7h.01M347.9 218.4h.01M347.9 219.1h.01M347.9 219.8h.01M347.9 220.5h.01M347.9 222.6h.01M347.9 224h.01M347.9 224.7h.01M348.6 212.1h.01M348.6 212.8h.01M348.6 213.5h.01M348.6 214.2h.01M348.6 214.9h.01M348.6 216.3h.01M348.6 217h.01M348.6 217.7h.01M348.6 218.4h.01M348.6 219.1h.01M348.6 219.8h.01M348.6 220.5h.01M348.6 221.2h.01M348.6 228.2h.01M349.3 210h.01M349.3 212.1h.01M349.3 213.5h.01M349.3 214.2h.01M349.3 214.9h.01M349.3 215.6h.01M349.3 216.3h.01M349.3 219.1h.01M349.3 219.8h.01M349.3 221.2h.01M349.3 223.3h.01M349.3 227.5h.01M350 214.2h.01M350 215.6h.01M350 217h.01M350 217.7h.01M350 218.4h.01M350 219.1h.01M350 219.8h.01M350 220.5h.01M350 221.2h.01M350 222.6h.01M350 224h.01M350 225.4h.01M350 226.8h.01M350 227.5h.01M350.7 211.4h.01M350.7 212.8h.01M350.7 213.5h.01M350.7 214.2h.01M350.7 214.9h.01M350.7 215.6h.01M350.7 216.3h.01M350.7 217.7h.01M350.7 218.4h.01M350.7 219.1h.01M350.7 219.8h.01M350.7 220.5h.01M350.7 221.2h.01M350.7 221.9h.01M350.7 222.6h.01M350.7 223.3h.01M350.7 224h.01M350.7 226.8h.01M350.7 228.2h.01M351.4 207.9h.01M351.4 209.3h.01M351.4 210.7h.01M351.4 212.1h.01M351.4 212.8h.01M351.4 215.6h.01M351.4 216.3h.01M351.4 217.7h.01M351.4 219.8h.01M351.4 220.5h.01M351.4 221.2h.01M351.4 222.6h.01M351.4 224h.01M351.4 224.7h.01M351.4 226.8h.01M351.4 228.2h.01M352.1 212.8h.01M352.1 214.2h.01M352.1 214.9h.01M352.1 215.6h.01M352.1 216.3h.01M352.1 217h.01M352.1 217.7h.01M352.1 218.4h.01M352.1 219.1h.01M352.1 219.8h.01M352.1 220.5h.01M352.1 221.2h.01M352.1 221.9h.01M352.1 222.6h.01M352.1 224h.01M352.1 224.7h.01M352.1 226.8h.01M352.1 227.5h.01M352.1 229.6h.01M352.1 232.4h.01M352.8 212.8h.01M352.8 214.2h.01M352.8 214.9h.01M352.8 215.6h.01M352.8 216.3h.01M352.8 217h.01M352.8 217.7h.01M352.8 218.4h.01M352.8 219.1h.01M352.8 219.8h.01M352.8 220.5h.01M352.8 221.2h.01M352.8 221.9h.01M352.8 222.6h.01M352.8 224.7h.01M352.8 226.8h.01M353.5 210.7h.01M353.5 212.8h.01M353.5 213.5h.01M353.5 214.9h.01M353.5 215.6h.01M353.5 216.3h.01M353.5 217.7h.01M353.5 218.4h.01M353.5 219.1h.01M353.5 219.8h.01M353.5 220.5h.01M353.5 221.2h.01M353.5 221.9h.01M353.5 222.6h.01M353.5 223.3h.01M353.5 224.7h.01M353.5 226.1h.01M353.5 227.5h.01M353.5 228.9h.01M353.5 230.3h.01M353.5 231h.01M354.2 210h.01M354.2 210.7h.01M354.2 211.4h.01M354.2 212.1h.01M354.2 212.8h.01M354.2 213.5h.01M354.2 214.9h.01M354.2 215.6h.01M354.2 216.3h.01M354.2 217h.01M354.2 217.7h.01M354.2 218.4h.01M354.2 219.1h.01M354.2 219.8h.01M354.2 220.5h.01M354.2 221.9h.01M354.2 222.6h.01M354.2 224h.01M354.2 225.4h.01M354.2 226.1h.01M354.9 205.8h.01M354.9 214.2h.01M354.9 215.6h.01M354.9 216.3h.01M354.9 217h.01M354.9 217.7h.01M354.9 218.4h.01M354.9 219.1h.01M354.9 219.8h.01M354.9 220.5h.01M354.9 221.2h.01M354.9 221.9h.01M354.9 224h.01M354.9 224.7h.01M354.9 225.4h.01M354.9 226.8h.01M354.9 229.6h.01M355.6 207.2h.01M355.6 212.1h.01M355.6 213.5h.01M355.6 214.2h.01M355.6 214.9h.01M355.6 215.6h.01M355.6 216.3h.01M355.6 217h.01M355.6 217.7h.01M355.6 218.4h.01M355.6 219.1h.01M355.6 219.8h.01M355.6 221.2h.01M355.6 222.6h.01M355.6 224h.01M355.6 224.7h.01M355.6 225.4h.01M355.6 227.5h.01M355.6 228.2h.01M356.3 211.4h.01M356.3 212.1h.01M356.3 212.8h.01M356.3 213.5h.01M356.3 214.9h.01M356.3 215.6h.01M356.3 216.3h.01M356.3 217h.01M356.3 217.7h.01M356.3 218.4h.01M356.3 219.1h.01M356.3 219.8h.01M356.3 221.9h.01M356.3 222.6h.01M356.3 223.3h.01M356.3 224.7h.01M356.3 228.2h.01M357 205.8h.01M357 210.7h.01M357 212.1h.01M357 212.8h.01M357 214.9h.01M357 215.6h.01M357 216.3h.01M357 217h.01M357 217.7h.01M357 218.4h.01M357 219.1h.01M357 219.8h.01M357 220.5h.01M357 221.2h.01M357 221.9h.01M357 222.6h.01M357 223.3h.01M357 224h.01M357 225.4h.01M357 226.8h.01M357.7 209.3h.01M357.7 212.8h.01M357.7 214.9h.01M357.7 215.6h.01M357.7 216.3h.01M357.7 217h.01M357.7 217.7h.01M357.7 218.4h.01M357.7 219.1h.01M357.7 219.8h.01M357.7 220.5h.01M357.7 221.2h.01M357.7 221.9h.01M357.7 222.6h.01M357.7 223.3h.01M357.7 224h.01M357.7 224.7h.01M357.7 226.8h.01M357.7 230.3h.01M358.4 211.4h.01M358.4 212.8h.01M358.4 214.2h.01M358.4 214.9h.01M358.4 215.6h.01M358.4 216.3h.01M358.4 217.7h.01M358.4 218.4h.01M358.4 219.1h.01M358.4 219.8h.01M358.4 220.5h.01M358.4 221.2h.01M358.4 221.9h.01M358.4 223.3h.01M358.4 224h.01M358.4 224.7h.01M358.4 225.4h.01M358.4 226.1h.01M358.4 226.8h.01M358.4 228.9h.01M359.1 211.4h.01M359.1 212.1h.01M359.1 212.8h.01M359.1 213.5h.01M359.1 214.9h.01M359.1 215.6h.01M359.1 216.3h.01M359.1 217h.01M359.1 217.7h.01M359.1 218.4h.01M359.1 219.1h.01M359.1 219.8h.01M359.1 220.5h.01M359.1 221.2h.01M359.1 223.3h.01M359.1 224h.01M359.1 224.7h.01M359.1 225.4h.01M359.1 226.8h.01M359.1 231h.01M359.8 210.7h.01M359.8 213.5h.01M359.8 214.2h.01M359.8 214.9h.01M359.8 215.6h.01M359.8 216.3h.01M359.8 217h.01M359.8 217.7h.01M359.8 218.4h.01M359.8 219.1h.01M359.8 219.8h.01M359.8 220.5h.01M359.8 221.2h.01M359.8 221.9h.01M359.8 222.6h.01M359.8 224h.01M359.8 224.7h.01M359.8 225.4h.01M359.8 226.1h.01M359.8 227.5h.01M359.8 230.3h.01M359.8 231.7h.01M360.5 208.6h.01M360.5 211.4h.01M360.5 212.1h.01M360.5 216.3h.01M360.5 218.4h.01M360.5 219.1h.01M360.5 219.8h.01M360.5 220.5h.01M360.5 221.9h.01M360.5 222.6h.01M360.5 223.3h.01M360.5 224h.01M360.5 224.7h.01M360.5 225.4h.01M360.5 227.5h.01M361.2 212.8h.01M361.2 214.2h.01M361.2 215.6h.01M361.2 217h.01M361.2 217.7h.01M361.2 218.4h.01M361.2 219.1h.01M361.2 219.8h.01M361.2 220.5h.01M361.2 221.2h.01M361.2 221.9h.01M361.2 222.6h.01M361.2 223.3h.01M361.2 224h.01M361.2 224.7h.01M361.2 225.4h.01M361.2 226.1h.01M361.2 226.8h.01M361.2 227.5h.01M361.2 229.6h.01M361.9 212.1h.01M361.9 214.2h.01M361.9 214.9h.01M361.9 216.3h.01M361.9 217h.01M361.9 217.7h.01M361.9 218.4h.01M361.9 219.1h.01M361.9 219.8h.01M361.9 220.5h.01M361.9 221.2h.01M361.9 221.9h.01M361.9 222.6h.01M361.9 224h.01M361.9 225.4h.01M361.9 226.1h.01M361.9 227.5h.01M361.9 229.6h.01M361.9 230.3h.01M362.6 210.7h.01M362.6 213.5h.01M362.6 214.2h.01M362.6 214.9h.01M362.6 215.6h.01M362.6 216.3h.01M362.6 217h.01M362.6 217.7h.01M362.6 218.4h.01M362.6 219.1h.01M362.6 219.8h.01M362.6 220.5h.01M362.6 221.2h.01M362.6 221.9h.01M362.6 222.6h.01M362.6 223.3h.01M362.6 224h.01M362.6 224.7h.01M362.6 225.4h.01M362.6 226.1h.01M362.6 227.5h.01M363.3 210.7h.01M363.3 213.5h.01M363.3 215.6h.01M363.3 216.3h.01M363.3 217.7h.01M363.3 218.4h.01M363.3 219.1h.01M363.3 219.8h.01M363.3 220.5h.01M363.3 221.2h.01M363.3 221.9h.01M363.3 222.6h.01M363.3 223.3h.01M363.3 225.4h.01M363.3 226.1h.01M363.3 226.8h.01M363.3 232.4h.01M364 213.5h.01M364 214.9h.01M364 215.6h.01M364 216.3h.01M364 217h.01M364 217.7h.01M364 218.4h.01M364 219.1h.01M364 219.8h.01M364 220.5h.01M364 221.2h.01M364 221.9h.01M364 222.6h.01M364 223.3h.01M364 224h.01M364 224.7h.01M364 225.4h.01M364 226.1h.01M364 226.8h.01M364 227.5h.01M364 228.9h.01M364 229.6h.01M364.7 208.6h.01M364.7 214.2h.01M364.7 214.9h.01M364.7 215.6h.01M364.7 217h.01M364.7 217.7h.01M364.7 218.4h.01M364.7 219.1h.01M364.7 219.8h.01M364.7 220.5h.01M364.7 221.2h.01M364.7 221.9h.01M364.7 222.6h.01M364.7 223.3h.01M364.7 224h.01M364.7 224.7h.01M364.7 225.4h.01M364.7 226.1h.01M364.7 226.8h.01M364.7 228.9h.01M365.4 211.4h.01M365.4 213.5h.01M365.4 216.3h.01M365.4 217h.01M365.4 217.7h.01M365.4 218.4h.01M365.4 219.1h.01M365.4 219.8h.01M365.4 220.5h.01M365.4 221.2h.01M365.4 221.9h.01M365.4 222.6h.01M365.4 223.3h.01M365.4 224h.01M365.4 224.7h.01M365.4 225.4h.01M365.4 226.8h.01M365.4 227.5h.01M365.4 228.2h.01M365.4 229.6h.01M365.4 231.7h.01M365.4 232.4h.01M366.1 212.8h.01M366.1 214.9h.01M366.1 217.7h.01M366.1 218.4h.01M366.1 219.1h.01M366.1 219.8h.01M366.1 220.5h.01M366.1 221.2h.01M366.1 221.9h.01M366.1 222.6h.01M366.1 224h.01M366.1 224.7h.01M366.1 225.4h.01M366.1 226.1h.01M366.1 226.8h.01M366.1 227.5h.01M366.1 228.2h.01M366.1 229.6h.01M366.8 216.3h.01M366.8 217.7h.01M366.8 218.4h.01M366.8 219.1h.01M366.8 219.8h.01M366.8 220.5h.01M366.8 221.2h.01M366.8 221.9h.01M366.8 222.6h.01M366.8 223.3h.01M366.8 224h.01M366.8 224.7h.01M366.8 225.4h.01M366.8 226.8h.01M366.8 227.5h.01M366.8 228.2h.01M366.8 232.4h.01M367.5 213.5h.01M367.5 214.9h.01M367.5 216.3h.01M367.5 217h.01M367.5 217.7h.01M367.5 219.1h.01M367.5 219.8h.01M367.5 220.5h.01M367.5 221.2h.01M367.5 221.9h.01M367.5 222.6h.01M367.5 223.3h.01M367.5 224h.01M367.5 224.7h.01M367.5 226.1h.01M367.5 226.8h.01M367.5 227.5h.01M367.5 228.2h.01M367.5 228.9h.01M367.5 231.7h.01M368.2 213.5h.01M368.2 214.2h.01M368.2 216.3h.01M368.2 217h.01M368.2 217.7h.01M368.2 218.4h.01M368.2 219.1h.01M368.2 219.8h.01M368.2 220.5h.01M368.2 221.2h.01M368.2 221.9h.01M368.2 222.6h.01M368.2 223.3h.01M368.2 224h.01M368.2 224.7h.01M368.2 225.4h.01M368.2 226.8h.01M368.2 227.5h.01M368.2 228.2h.01M368.2 229.6h.01M368.9 211.4h.01M368.9 212.1h.01M368.9 214.9h.01M368.9 215.6h.01M368.9 217.7h.01M368.9 218.4h.01M368.9 219.1h.01M368.9 219.8h.01M368.9 220.5h.01M368.9 221.2h.01M368.9 221.9h.01M368.9 222.6h.01M368.9 223.3h.01M368.9 224h.01M368.9 224.7h.01M368.9 225.4h.01M368.9 226.1h.01M368.9 226.8h.01M368.9 227.5h.01M368.9 228.2h.01M368.9 229.6h.01M368.9 231.7h.01M368.9 233.1h.01M369.6 212.8h.01M369.6 213.5h.01M369.6 214.2h.01M369.6 216.3h.01M369.6 217h.01M369.6 218.4h.01M369.6 219.1h.01M369.6 219.8h.01M369.6 220.5h.01M369.6 221.2h.01M369.6 221.9h.01M369.6 222.6h.01M369.6 223.3h.01M369.6 224h.01M369.6 224.7h.01M369.6 225.4h.01M369.6 226.8h.01M369.6 227.5h.01M369.6 228.2h.01M369.6 228.9h.01M369.6 230.3h.01M370.3 212.8h.01M370.3 213.5h.01M370.3 214.2h.01M370.3 214.9h.01M370.3 216.3h.01M370.3 217.7h.01M370.3 218.4h.01M370.3 219.1h.01M370.3 219.8h.01M370.3 220.5h.01M370.3 221.2h.01M370.3 221.9h.01M370.3 222.6h.01M370.3 223.3h.01M370.3 224h.01M370.3 224.7h.01M370.3 225.4h.01M370.3 226.1h.01M370.3 226.8h.01M370.3 227.5h.01M370.3 228.9h.01M370.3 231h.01M371 215.6h.01M371 216.3h.01M371 217h.01M371 217.7h.01M371 219.1h.01M371 219.8h.01M371 220.5h.01M371 221.2h.01M371 221.9h.01M371 222.6h.01M371 223.3h.01M371 224h.01M371 224.7h.01M371 225.4h.01M371 226.1h.01M371 226.8h.01M371 227.5h.01M371 228.2h.01M371 229.6h.01M371 230.3h.01M371 231h.01M371 233.8h.01M371.7 213.5h.01M371.7 214.9h.01M371.7 215.6h.01M371.7 216.3h.01M371.7 217h.01M371.7 217.7h.01M371.7 218.4h.01M371.7 219.1h.01M371.7 219.8h.01M371.7 220.5h.01M371.7 221.2h.01M371.7 221.9h.01M371.7 222.6h.01M371.7 223.3h.01M371.7 224h.01M371.7 224.7h.01M371.7 225.4h.01M371.7 226.1h.01M371.7 226.8h.01M371.7 227.5h.01M371.7 228.2h.01M371.7 228.9h.01M371.7 229.6h.01M371.7 233.1h.01M372.4 214.2h.01M372.4 214.9h.01M372.4 215.6h.01M372.4 216.3h.01M372.4 217h.01M372.4 218.4h.01M372.4 219.1h.01M372.4 219.8h.01M372.4 220.5h.01M372.4 221.2h.01M372.4 222.6h.01M372.4 223.3h.01M372.4 224h.01M372.4 225.4h.01M372.4 226.1h.01M372.4 227.5h.01M372.4 228.9h.01M372.4 229.6h.01M372.4 237.3h.01M373.1 213.5h.01M373.1 215.6h.01M373.1 216.3h.01M373.1 217h.01M373.1 217.7h.01M373.1 218.4h.01M373.1 219.1h.01M373.1 219.8h.01M373.1 220.5h.01M373.1 221.2h.01M373.1 221.9h.01M373.1 222.6h.01M373.1 223.3h.01M373.1 224h.01M373.1 224.7h.01M373.1 225.4h.01M373.1 226.1h.01M373.1 227.5h.01M373.1 228.2h.01M373.1 228.9h.01M373.1 230.3h.01M373.1 232.4h.01M373.1 234.5h.01M373.8 213.5h.01M373.8 214.9h.01M373.8 216.3h.01M373.8 217h.01M373.8 217.7h.01M373.8 218.4h.01M373.8 219.1h.01M373.8 219.8h.01M373.8 220.5h.01M373.8 221.2h.01M373.8 221.9h.01M373.8 222.6h.01M373.8 224h.01M373.8 224.7h.01M373.8 225.4h.01M373.8 226.1h.01M373.8 226.8h.01M373.8 227.5h.01M373.8 228.2h.01M373.8 228.9h.01M373.8 229.6h.01M373.8 230.3h.01M373.8 231.7h.01M374.5 212.1h.01M374.5 215.6h.01M374.5 217.7h.01M374.5 218.4h.01M374.5 219.1h.01M374.5 219.8h.01M374.5 220.5h.01M374.5 221.2h.01M374.5 221.9h.01M374.5 222.6h.01M374.5 223.3h.01M374.5 224h.01M374.5 224.7h.01M374.5 225.4h.01M374.5 226.8h.01M374.5 227.5h.01M374.5 228.2h.01M374.5 228.9h.01M374.5 229.6h.01M374.5 230.3h.01M374.5 231h.01M374.5 231.7h.01M375.2 214.9h.01M375.2 216.3h.01M375.2 217h.01M375.2 218.4h.01M375.2 219.1h.01M375.2 219.8h.01M375.2 220.5h.01M375.2 221.2h.01M375.2 221.9h.01M375.2 222.6h.01M375.2 223.3h.01M375.2 224h.01M375.2 224.7h.01M375.2 225.4h.01M375.2 226.1h.01M375.2 226.8h.01M375.2 227.5h.01M375.2 228.2h.01M375.2 228.9h.01M375.2 235.2h.01M375.9 212.1h.01M375.9 212.8h.01M375.9 213.5h.01M375.9 216.3h.01M375.9 217h.01M375.9 217.7h.01M375.9 218.4h.01M375.9 219.1h.01M375.9 219.8h.01M375.9 220.5h.01M375.9 221.2h.01M375.9 221.9h.01M375.9 222.6h.01M375.9 223.3h.01M375.9 224h.01M375.9 224.7h.01M375.9 225.4h.01M375.9 226.1h.01M375.9 226.8h.01M375.9 228.2h.01M375.9 228.9h.01M375.9 229.6h.01M375.9 230.3h.01M375.9 233.1h.01M376.6 211.4h.01M376.6 213.5h.01M376.6 217h.01M376.6 217.7h.01M376.6 219.1h.01M376.6 219.8h.01M376.6 220.5h.01M376.6 221.2h.01M376.6 221.9h.01M376.6 222.6h.01M376.6 223.3h.01M376.6 224h.01M376.6 224.7h.01M376.6 225.4h.01M376.6 226.1h.01M376.6 228.9h.01M376.6 230.3h.01M376.6 235.9h.01M377.3 216.3h.01M377.3 217h.01M377.3 217.7h.01M377.3 218.4h.01M377.3 219.1h.01M377.3 219.8h.01M377.3 220.5h.01M377.3 221.2h.01M377.3 221.9h.01M377.3 222.6h.01M377.3 223.3h.01M377.3 224h.01M377.3 224.7h.01M377.3 225.4h.01M377.3 226.1h.01M377.3 226.8h.01M377.3 227.5h.01M377.3 228.2h.01M377.3 230.3h.01M377.3 231h.01M377.3 231.7h.01M378 217h.01M378 217.7h.01M378 218.4h.01M378 219.8h.01M378 220.5h.01M378 221.2h.01M378 221.9h.01M378 222.6h.01M378 223.3h.01M378 224h.01M378 224.7h.01M378 225.4h.01M378 226.1h.01M378 227.5h.01M378 228.2h.01M378 228.9h.01M378 230.3h.01M378 231.7h.01M378.7 217h.01M378.7 218.4h.01M378.7 219.1h.01M378.7 219.8h.01M378.7 220.5h.01M378.7 221.2h.01M378.7 221.9h.01M378.7 222.6h.01M378.7 223.3h.01M378.7 224h.01M378.7 224.7h.01M378.7 225.4h.01M378.7 226.1h.01M378.7 226.8h.01M378.7 227.5h.01M378.7 228.2h.01M378.7 228.9h.01M378.7 229.6h.01M378.7 230.3h.01M378.7 233.1h.01M378.7 235.2h.01M379.4 212.8h.01M379.4 215.6h.01M379.4 216.3h.01M379.4 217h.01M379.4 218.4h.01M379.4 219.8h.01M379.4 220.5h.01M379.4 222.6h.01M379.4 223.3h.01M379.4 224h.01M379.4 224.7h.01M379.4 225.4h.01M379.4 226.1h.01M379.4 226.8h.01M379.4 227.5h.01M379.4 228.2h.01M379.4 228.9h.01M379.4 232.4h.01M379.4 233.1h.01M379.4 234.5h.01M380.1 216.3h.01M380.1 217.7h.01M380.1 218.4h.01M380.1 219.1h.01M380.1 219.8h.01M380.1 220.5h.01M380.1 221.2h.01M380.1 221.9h.01M380.1 222.6h.01M380.1 223.3h.01M380.1 224h.01M380.1 224.7h.01M380.1 225.4h.01M380.1 226.1h.01M380.1 226.8h.01M380.1 227.5h.01M380.1 228.2h.01M380.1 228.9h.01M380.1 229.6h.01M380.1 231h.01M380.8 214.9h.01M380.8 217.7h.01M380.8 218.4h.01M380.8 219.8h.01M380.8 220.5h.01M380.8 221.2h.01M380.8 221.9h.01M380.8 222.6h.01M380.8 223.3h.01M380.8 224.7h.01M380.8 225.4h.01M380.8 226.1h.01M380.8 226.8h.01M380.8 227.5h.01M380.8 228.2h.01M380.8 230.3h.01M380.8 238.7h.01M380.8 240.8h.01M381.5 215.6h.01M381.5 217.7h.01M381.5 219.1h.01M381.5 219.8h.01M381.5 220.5h.01M381.5 221.9h.01M381.5 222.6h.01M381.5 223.3h.01M381.5 224h.01M381.5 224.7h.01M381.5 225.4h.01M381.5 226.1h.01M381.5 226.8h.01M381.5 228.2h.01M381.5 228.9h.01M381.5 230.3h.01M381.5 232.4h.01M382.2 215.6h.01M382.2 216.3h.01M382.2 217.7h.01M382.2 220.5h.01M382.2 221.2h.01M382.2 221.9h.01M382.2 222.6h.01M382.2 223.3h.01M382.2 226.1h.01M382.2 226.8h.01M382.2 227.5h.01M382.2 228.2h.01M382.2 228.9h.01M382.2 229.6h.01M382.2 230.3h.01M382.2 231h.01M382.2 231.7h.01M382.2 233.8h.01M382.9 218.4h.01M382.9 219.1h.01M382.9 219.8h.01M382.9 220.5h.01M382.9 221.2h.01M382.9 221.9h.01M382.9 222.6h.01M382.9 223.3h.01M382.9 224h.01M382.9 224.7h.01M382.9 225.4h.01M382.9 226.1h.01M382.9 226.8h.01M382.9 227.5h.01M382.9 228.2h.01M382.9 228.9h.01M382.9 229.6h.01M382.9 230.3h.01M382.9 231h.01M382.9 231.7h.01M382.9 232.4h.01M383.6 219.1h.01M383.6 220.5h.01M383.6 221.2h.01M383.6 222.6h.01M383.6 223.3h.01M383.6 224.7h.01M383.6 225.4h.01M383.6 226.1h.01M383.6 226.8h.01M383.6 227.5h.01M383.6 228.2h.01M383.6 230.3h.01M383.6 233.8h.01M383.6 239.4h.01M384.3 218.4h.01M384.3 219.8h.01M384.3 221.2h.01M384.3 221.9h.01M384.3 222.6h.01M384.3 223.3h.01M384.3 224h.01M384.3 224.7h.01M384.3 225.4h.01M384.3 226.1h.01M384.3 226.8h.01M384.3 227.5h.01M384.3 228.9h.01M384.3 229.6h.01M384.3 230.3h.01M384.3 231h.01M384.3 231.7h.01M384.3 235.2h.01M385 215.6h.01M385 218.4h.01M385 219.1h.01M385 220.5h.01M385 221.2h.01M385 222.6h.01M385 223.3h.01M385 224h.01M385 224.7h.01M385 226.1h.01M385 226.8h.01M385 228.2h.01M385 228.9h.01M385 229.6h.01M385 230.3h.01M385 231.7h.01M385 238.7h.01M385.7 217.7h.01M385.7 219.8h.01M385.7 221.2h.01M385.7 222.6h.01M385.7 223.3h.01M385.7 224h.01M385.7 224.7h.01M385.7 225.4h.01M385.7 226.1h.01M385.7 226.8h.01M385.7 227.5h.01M385.7 228.2h.01M385.7 228.9h.01M385.7 230.3h.01M385.7 231h.01M385.7 233.8h.01M385.7 235.2h.01M385.7 235.9h.01M385.7 241.5h.01M386.4 218.4h.01M386.4 219.1h.01M386.4 219.8h.01M386.4 221.2h.01M386.4 222.6h.01M386.4 224h.01M386.4 224.7h.01M386.4 225.4h.01M386.4 226.8h.01M386.4 227.5h.01M386.4 228.9h.01M386.4 229.6h.01M386.4 230.3h.01M386.4 231h.01M386.4 231.7h.01M386.4 232.4h.01M386.4 235.9h.01M386.4 237.3h.01M387.1 219.8h.01M387.1 222.6h.01M387.1 224h.01M387.1 225.4h.01M387.1 226.8h.01M387.1 228.2h.01M387.1 228.9h.01M387.1 229.6h.01M387.1 230.3h.01M387.1 231h.01M387.1 232.4h.01M387.8 219.1h.01M387.8 220.5h.01M387.8 221.2h.01M387.8 221.9h.01M387.8 224h.01M387.8 224.7h.01M387.8 225.4h.01M387.8 226.8h.01M387.8 227.5h.01M387.8 228.2h.01M387.8 228.9h.01M387.8 229.6h.01M387.8 230.3h.01M387.8 231h.01M387.8 232.4h.01M387.8 234.5h.01M387.8 238.7h.01M388.5 217h.01M388.5 220.5h.01M388.5 221.2h.01M388.5 222.6h.01M388.5 224h.01M388.5 224.7h.01M388.5 225.4h.01M388.5 226.1h.01M388.5 226.8h.01M388.5 229.6h.01M388.5 230.3h.01M389.2 217.7h.01M389.2 221.9h.01M389.2 222.6h.01M389.2 223.3h.01M389.2 224h.01M389.2 225.4h.01M389.2 226.1h.01M389.2 226.8h.01M389.2 227.5h.01M389.2 228.2h.01M389.2 228.9h.01M389.2 231h.01M389.2 234.5h.01M389.9 219.8h.01M389.9 221.9h.01M389.9 222.6h.01M389.9 223.3h.01M389.9 224h.01M389.9 225.4h.01M389.9 226.8h.01M389.9 227.5h.01M389.9 228.2h.01M389.9 228.9h.01M389.9 229.6h.01M389.9 230.3h.01M389.9 232.4h.01M389.9 233.1h.01M390.6 221.2h.01M390.6 221.9h.01M390.6 224.7h.01M390.6 226.1h.01M390.6 226.8h.01M390.6 227.5h.01M390.6 228.2h.01M390.6 228.9h.01M390.6 229.6h.01M390.6 230.3h.01M390.6 231h.01M390.6 231.7h.01M390.6 232.4h.01M390.6 233.8h.01M391.3 215.6h.01M391.3 219.8h.01M391.3 220.5h.01M391.3 221.2h.01M391.3 222.6h.01M391.3 223.3h.01M391.3 224h.01M391.3 224.7h.01M391.3 225.4h.01M391.3 227.5h.01M391.3 228.2h.01M391.3 228.9h.01M391.3 229.6h.01M391.3 232.4h.01M391.3 233.8h.01M391.3 234.5h.01M391.3 235.2h.01M392 218.4h.01M392 219.8h.01M392 221.2h.01M392 222.6h.01M392 224.7h.01M392 225.4h.01M392 227.5h.01M392 228.2h.01M392 228.9h.01M392 231h.01M392 233.1h.01M392.7 220.5h.01M392.7 221.2h.01M392.7 221.9h.01M392.7 224.7h.01M392.7 225.4h.01M392.7 226.8h.01M392.7 228.9h.01M392.7 229.6h.01M392.7 231h.01M392.7 232.4h.01M392.7 234.5h.01M392.7 235.9h.01M392.7 238h.01M392.7 239.4h.01M393.4 219.1h.01M393.4 224.7h.01M393.4 226.1h.01M393.4 227.5h.01M393.4 228.2h.01M393.4 228.9h.01M393.4 229.6h.01M393.4 230.3h.01M393.4 232.4h.01M393.4 233.8h.01M393.4 235.9h.01M394.1 223.3h.01M394.1 225.4h.01M394.1 226.1h.01M394.1 228.2h.01M394.1 240.1h.01M394.8 218.4h.01M394.8 219.1h.01M394.8 221.9h.01M394.8 223.3h.01M394.8 224.7h.01M394.8 225.4h.01M394.8 226.1h.01M394.8 226.8h.01M394.8 227.5h.01M394.8 228.2h.01M394.8 228.9h.01M394.8 231.7h.01M394.8 232.4h.01M394.8 235.2h.01M394.8 238h.01M395.5 223.3h.01M395.5 224.7h.01M395.5 225.4h.01M395.5 228.9h.01M395.5 230.3h.01M395.5 231.7h.01M395.5 233.1h.01M395.5 234.5h.01M396.2 221.2h.01M396.2 222.6h.01M396.2 226.1h.01M396.2 227.5h.01M396.2 228.2h.01M396.2 229.6h.01M396.2 232.4h.01M396.2 233.1h.01M396.2 235.9h.01M396.9 227.5h.01M396.9 228.2h.01M396.9 228.9h.01M396.9 231h.01M396.9 237.3h.01M397.6 221.9h.01M397.6 224h.01M397.6 225.4h.01M397.6 226.1h.01M397.6 228.2h.01M397.6 231h.01M397.6 233.1h.01M397.6 235.2h.01M398.3 222.6h.01M398.3 228.2h.01M399 220.5h.01M399 228.2h.01M399 229.6h.01M399 231h.01M399 234.5h.01M399.7 232.4h.01M399.7 234.5h.01M400.4 222.6h.01M400.4 224h.01M400.4 226.1h.01M401.1 222.6h.01M401.1 229.6h.01M401.1 232.4h.01M401.8 219.1h.01M401.8 223.3h.01M401.8 225.4h.01M401.8 228.9h.01M401.8 229.6h.01M401.8 231h.01M401.8 232.4h.01M402.5 227.5h.01M402.5 228.9h.01M402.5 229.6h.01M402.5 231.7h.01M402.5 233.8h.01M403.2 229.6h.01M403.2 231h.01M403.2 234.5h.01M403.9 225.4h.01M403.9 233.1h.01M403.9 235.9h.01M404.6 230.3h.01M404.6 235.2h.01M405.3 236.6h.01M406 232.4h.01M406.7 236.6h.01M407.4 228.2h.01M407.4 236.6h.01M408.1 231.7h.01M409.5 230.3h.01" stroke="#2556d6" stroke-width="1.35" stroke-linecap="square" fill="none"/>
<line x1="303.2" y1="204.6" x2="408.3" y2="232.8" stroke="#f01020" stroke-width="2"/>
<rect x="301.3" y="201.9" width="110" height="96.1" fill="none" stroke="#333" stroke-width="1.6"/>
<text x="313.4" y="195.8" font-size="9">ER+/PR+ (<tspan font-style="italic">n=3,262</tspan>)</text>
<text x="298.2" y="213.3" font-size="6.4" text-anchor="end">1</text>
<text x="298.2" y="229.5" font-size="6.4" text-anchor="end">0</text>
<text x="298.2" y="245.7" font-size="6.4" text-anchor="end">-1</text>
<text x="298.2" y="261.9" font-size="6.4" text-anchor="end">-2</text>
<text x="298.2" y="278.1" font-size="6.4" text-anchor="end">-3</text>
<text x="298.2" y="294.3" font-size="6.4" text-anchor="end">-4</text>
<text x="316" y="307.4" font-size="6.4" text-anchor="middle">-4</text>
<text x="332.7" y="307.4" font-size="6.4" text-anchor="middle">-2</text>
<text x="349.7" y="307.4" font-size="6.4" text-anchor="middle">-1</text>
<text x="366.5" y="307.4" font-size="6.4" text-anchor="middle">0</text>
<text x="381.7" y="307.4" font-size="6.4" text-anchor="middle">1</text>
<text x="397.2" y="307.4" font-size="6.4" text-anchor="middle">2</text>
<text transform="translate(290 254.05) rotate(-90)" font-size="7.8" font-style="italic" text-anchor="middle">FOXA1</text>
<text x="360.6" y="318.1" font-size="8.3" font-style="italic" text-anchor="middle">ANXA1</text>
<text transform="translate(307.8 292.6) scale(1 1.1)" font-size="7.8" font-style="italic">R= -0.46</text>
<text transform="translate(406.7 292.6) scale(1 1.1)" font-size="8" font-style="italic" text-anchor="end">P&lt;0.0001</text>
<path d="M487 240.2h.01M519.6 252.2h.01M501.4 235.4h.01M502.3 234.5h.01M458.1 240h.01M459.5 266.8h.01M480.4 231.7h.01M492.5 281.5h.01M452 234.3h.01M488.2 246.3h.01M489.1 260h.01M491 235.6h.01M510.6 244.3h.01M451.9 245.2h.01M459.7 238.2h.01M490.7 237.3h.01M471.1 232.4h.01M489.6 233.5h.01M494.9 238.1h.01M444.7 245.8h.01M516.8 244h.01M513.2 255.6h.01M450.7 276.6h.01M469.5 252.6h.01M498.2 247.6h.01M472.2 239.4h.01M489.7 241.6h.01M462.8 235.9h.01M505.9 259.2h.01M454.5 255.8h.01M477.2 237.4h.01M484.7 250.2h.01M452.5 250.9h.01M485.2 255.5h.01M484.8 246h.01M493.7 236.5h.01M450.8 236.7h.01M507 231.6h.01M463.6 232.2h.01M464.6 238.2h.01M469.8 231.1h.01M492.8 246.3h.01M474.6 251.8h.01M475.2 234.3h.01M490 243.3h.01M475.3 238.3h.01M468.6 259.6h.01M466.4 254h.01M473.5 259.7h.01M483.4 247.6h.01M503.8 244.5h.01M481.5 246.2h.01M501.1 248.9h.01M495.4 278.5h.01M509.4 234.7h.01M485 238.3h.01M473.2 232.3h.01M476.1 246.7h.01M489.2 240.8h.01M492.7 249.6h.01M449.2 269.6h.01M464.9 273.3h.01M463.1 252h.01M470.4 242.4h.01M495.5 266.1h.01M491.3 233.4h.01M504 287.2h.01M450.6 245.8h.01M448 249.4h.01M479.5 239.8h.01M465.7 272.4h.01M480.1 240.1h.01M495.9 249.5h.01M501.5 237.3h.01M469.1 247.2h.01M487.1 237.9h.01M490.4 239.8h.01M508.3 257.8h.01M486.4 235h.01M447 231.1h.01M487.5 254.9h.01M473.7 239.3h.01M452.3 259.5h.01M500.5 291.4h.01M468.4 234.8h.01M481 250.4h.01M469 250.2h.01M481.4 240.5h.01M478.9 275.2h.01M541.3 270.9h.01M540.3 246.5h.01M470.7 264.4h.01M524.5 264.9h.01M474.9 289.4h.01M486.3 296h.01M470.8 248.4h.01M451.7 256.2h.01M505.9 273.9h.01M503.9 274h.01M491.3 250.7h.01M512.6 273.2h.01M513.4 277.8h.01M533.9 262.8h.01M513.8 265.7h.01M531.6 268.8h.01M529.5 265.7h.01M526.8 276.2h.01M509.1 271.8h.01M508.9 280.2h.01M529.9 272h.01M514.1 267.5h.01M524.4 280.9h.01M514.8 264.7h.01M539.8 267.1h.01M515.1 277.3h.01M504.3 266.5h.01M528.9 265.5h.01M509.8 269.1h.01M519.4 277.1h.01M504.4 267.2h.01M516.4 263.4h.01M530.6 262.3h.01" stroke="#5580e4" stroke-width="1.6" stroke-linecap="square" fill="none"/>
<path d="M438.9 221.2h.01M439.6 217.7h.01M440.3 226.8h.01M441 219.1h.01M445.2 217h.01M445.2 222.6h.01M446.6 213.5h.01M446.6 220.5h.01M446.6 221.9h.01M446.6 226.8h.01M446.6 231h.01M447.3 216.3h.01M447.3 218.4h.01M447.3 226.8h.01M448 218.4h.01M448.7 211.4h.01M448.7 214.9h.01M448.7 218.4h.01M448.7 224.7h.01M450.1 217.7h.01M450.1 226.8h.01M450.8 226.1h.01M451.5 207.2h.01M451.5 211.4h.01M451.5 216.3h.01M451.5 219.8h.01M451.5 226.8h.01M452.2 225.4h.01M452.2 226.1h.01M452.2 227.5h.01M452.9 221.2h.01M453.6 216.3h.01M453.6 219.8h.01M453.6 220.5h.01M453.6 224.7h.01M453.6 226.8h.01M454.3 214.9h.01M454.3 222.6h.01M455 213.5h.01M455 215.6h.01M455 217h.01M455 217.7h.01M455 222.6h.01M455 225.4h.01M455 226.8h.01M455 228.9h.01M455.7 212.1h.01M455.7 217h.01M455.7 218.4h.01M455.7 221.9h.01M456.4 219.8h.01M456.4 220.5h.01M456.4 224.7h.01M456.4 226.8h.01M456.4 227.5h.01M457.1 215.6h.01M457.1 217h.01M457.1 218.4h.01M457.1 219.8h.01M457.1 224h.01M457.1 229.6h.01M457.1 231.7h.01M457.8 215.6h.01M457.8 219.8h.01M457.8 223.3h.01M457.8 231h.01M458.5 219.1h.01M458.5 221.2h.01M458.5 222.6h.01M458.5 224.7h.01M458.5 225.4h.01M459.2 211.4h.01M459.2 215.6h.01M459.2 217h.01M459.2 220.5h.01M459.2 221.2h.01M459.2 224h.01M459.2 229.6h.01M459.2 230.3h.01M459.9 219.1h.01M459.9 219.8h.01M459.9 221.2h.01M459.9 223.3h.01M459.9 228.9h.01M459.9 234.5h.01M460.6 213.5h.01M460.6 217h.01M460.6 218.4h.01M460.6 219.1h.01M460.6 221.9h.01M460.6 224.7h.01M460.6 225.4h.01M460.6 231h.01M461.3 214.9h.01M461.3 215.6h.01M461.3 219.8h.01M461.3 221.2h.01M461.3 224h.01M461.3 224.7h.01M461.3 226.1h.01M461.3 227.5h.01M461.3 230.3h.01M462 209.3h.01M462 216.3h.01M462 218.4h.01M462 219.8h.01M462 220.5h.01M462 221.2h.01M462 221.9h.01M462 223.3h.01M462 224h.01M462 225.4h.01M462 227.5h.01M462 228.9h.01M462 230.3h.01M462.7 210.7h.01M462.7 214.2h.01M462.7 217h.01M462.7 219.1h.01M462.7 221.2h.01M462.7 222.6h.01M462.7 223.3h.01M462.7 225.4h.01M462.7 226.8h.01M462.7 229.6h.01M462.7 230.3h.01M463.4 212.1h.01M463.4 216.3h.01M463.4 217h.01M463.4 223.3h.01M463.4 224h.01M463.4 224.7h.01M463.4 225.4h.01M463.4 226.8h.01M463.4 228.2h.01M463.4 229.6h.01M464.1 212.1h.01M464.1 213.5h.01M464.1 217h.01M464.1 217.7h.01M464.1 219.1h.01M464.1 219.8h.01M464.1 220.5h.01M464.1 221.9h.01M464.1 223.3h.01M464.1 224h.01M464.1 224.7h.01M464.1 225.4h.01M464.1 226.8h.01M464.1 227.5h.01M464.1 228.2h.01M464.1 228.9h.01M464.8 214.9h.01M464.8 215.6h.01M464.8 218.4h.01M464.8 219.1h.01M464.8 219.8h.01M464.8 221.2h.01M464.8 222.6h.01M464.8 226.8h.01M464.8 231.7h.01M464.8 233.8h.01M464.8 235.2h.01M465.5 213.5h.01M465.5 214.9h.01M465.5 217.7h.01M465.5 218.4h.01M465.5 220.5h.01M465.5 221.9h.01M465.5 223.3h.01M465.5 225.4h.01M465.5 227.5h.01M465.5 228.2h.01M465.5 228.9h.01M465.5 229.6h.01M466.2 209.3h.01M466.2 210.7h.01M466.2 215.6h.01M466.2 216.3h.01M466.2 217.7h.01M466.2 218.4h.01M466.2 219.1h.01M466.2 219.8h.01M466.2 221.2h.01M466.2 222.6h.01M466.2 223.3h.01M466.2 224h.01M466.2 226.1h.01M466.2 226.8h.01M466.2 227.5h.01M466.2 228.9h.01M466.2 229.6h.01M466.2 231h.01M466.9 210.7h.01M466.9 214.9h.01M466.9 218.4h.01M466.9 219.1h.01M466.9 220.5h.01M466.9 221.9h.01M466.9 222.6h.01M466.9 223.3h.01M466.9 224.7h.01M466.9 226.1h.01M466.9 226.8h.01M466.9 230.3h.01M467.6 214.2h.01M467.6 215.6h.01M467.6 216.3h.01M467.6 217.7h.01M467.6 219.1h.01M467.6 219.8h.01M467.6 221.2h.01M467.6 223.3h.01M467.6 224h.01M467.6 224.7h.01M467.6 225.4h.01M467.6 226.1h.01M467.6 227.5h.01M467.6 229.6h.01M467.6 230.3h.01M467.6 238h.01M468.3 207.2h.01M468.3 213.5h.01M468.3 217h.01M468.3 217.7h.01M468.3 218.4h.01M468.3 220.5h.01M468.3 221.2h.01M468.3 221.9h.01M468.3 223.3h.01M468.3 224.7h.01M468.3 225.4h.01M468.3 226.1h.01M468.3 226.8h.01M468.3 228.9h.01M468.3 229.6h.01M468.3 235.2h.01M469 209.3h.01M469 212.1h.01M469 214.2h.01M469 216.3h.01M469 217h.01M469 217.7h.01M469 218.4h.01M469 219.1h.01M469 220.5h.01M469 221.9h.01M469 222.6h.01M469 223.3h.01M469 225.4h.01M469 226.8h.01M469 230.3h.01M469 233.1h.01M469.7 212.1h.01M469.7 213.5h.01M469.7 214.9h.01M469.7 215.6h.01M469.7 216.3h.01M469.7 217h.01M469.7 217.7h.01M469.7 218.4h.01M469.7 219.1h.01M469.7 220.5h.01M469.7 221.2h.01M469.7 221.9h.01M469.7 222.6h.01M469.7 223.3h.01M469.7 224h.01M469.7 226.1h.01M469.7 226.8h.01M469.7 227.5h.01M469.7 228.9h.01M469.7 229.6h.01M470.4 214.2h.01M470.4 216.3h.01M470.4 217h.01M470.4 217.7h.01M470.4 218.4h.01M470.4 219.1h.01M470.4 219.8h.01M470.4 220.5h.01M470.4 221.2h.01M470.4 221.9h.01M470.4 222.6h.01M470.4 223.3h.01M470.4 224h.01M470.4 224.7h.01M470.4 226.1h.01M470.4 227.5h.01M470.4 228.2h.01M470.4 228.9h.01M470.4 231.7h.01M470.4 233.1h.01M471.1 212.1h.01M471.1 213.5h.01M471.1 214.2h.01M471.1 214.9h.01M471.1 215.6h.01M471.1 217h.01M471.1 217.7h.01M471.1 218.4h.01M471.1 220.5h.01M471.1 221.9h.01M471.1 222.6h.01M471.1 223.3h.01M471.1 224h.01M471.1 224.7h.01M471.1 225.4h.01M471.1 226.1h.01M471.1 226.8h.01M471.1 227.5h.01M471.1 228.2h.01M471.1 229.6h.01M471.1 231.7h.01M471.1 235.9h.01M471.8 208.6h.01M471.8 215.6h.01M471.8 217.7h.01M471.8 218.4h.01M471.8 219.1h.01M471.8 219.8h.01M471.8 220.5h.01M471.8 221.2h.01M471.8 221.9h.01M471.8 222.6h.01M471.8 224h.01M471.8 224.7h.01M471.8 225.4h.01M471.8 226.8h.01M471.8 228.9h.01M471.8 230.3h.01M471.8 231.7h.01M471.8 234.5h.01M472.5 204.4h.01M472.5 213.5h.01M472.5 214.9h.01M472.5 215.6h.01M472.5 217.7h.01M472.5 218.4h.01M472.5 219.1h.01M472.5 219.8h.01M472.5 220.5h.01M472.5 221.2h.01M472.5 221.9h.01M472.5 222.6h.01M472.5 223.3h.01M472.5 224.7h.01M472.5 225.4h.01M472.5 226.1h.01M472.5 228.2h.01M472.5 229.6h.01M472.5 233.8h.01M473.2 212.8h.01M473.2 213.5h.01M473.2 214.9h.01M473.2 215.6h.01M473.2 217h.01M473.2 217.7h.01M473.2 218.4h.01M473.2 220.5h.01M473.2 221.2h.01M473.2 221.9h.01M473.2 222.6h.01M473.2 223.3h.01M473.2 224h.01M473.2 224.7h.01M473.2 225.4h.01M473.2 226.1h.01M473.2 226.8h.01M473.2 227.5h.01M473.2 228.2h.01M473.2 228.9h.01M473.2 237.3h.01M473.9 210h.01M473.9 212.1h.01M473.9 213.5h.01M473.9 215.6h.01M473.9 216.3h.01M473.9 217h.01M473.9 217.7h.01M473.9 218.4h.01M473.9 219.1h.01M473.9 219.8h.01M473.9 220.5h.01M473.9 221.2h.01M473.9 221.9h.01M473.9 222.6h.01M473.9 223.3h.01M473.9 224.7h.01M473.9 226.1h.01M473.9 226.8h.01M473.9 227.5h.01M473.9 228.9h.01M473.9 229.6h.01M474.6 211.4h.01M474.6 214.2h.01M474.6 214.9h.01M474.6 215.6h.01M474.6 216.3h.01M474.6 217h.01M474.6 217.7h.01M474.6 218.4h.01M474.6 219.1h.01M474.6 219.8h.01M474.6 220.5h.01M474.6 221.2h.01M474.6 221.9h.01M474.6 222.6h.01M474.6 224h.01M474.6 225.4h.01M474.6 226.8h.01M474.6 228.2h.01M474.6 230.3h.01M474.6 239.4h.01M475.3 212.8h.01M475.3 214.2h.01M475.3 214.9h.01M475.3 215.6h.01M475.3 216.3h.01M475.3 217h.01M475.3 217.7h.01M475.3 219.1h.01M475.3 219.8h.01M475.3 220.5h.01M475.3 222.6h.01M475.3 223.3h.01M475.3 224h.01M475.3 224.7h.01M475.3 225.4h.01M475.3 227.5h.01M475.3 228.2h.01M475.3 228.9h.01M475.3 231h.01M475.3 233.1h.01M476 212.8h.01M476 214.2h.01M476 215.6h.01M476 216.3h.01M476 217h.01M476 217.7h.01M476 218.4h.01M476 219.1h.01M476 219.8h.01M476 220.5h.01M476 221.2h.01M476 221.9h.01M476 222.6h.01M476 223.3h.01M476 224h.01M476 224.7h.01M476 225.4h.01M476 226.1h.01M476 226.8h.01M476 231h.01M476 232.4h.01M476.7 214.9h.01M476.7 217h.01M476.7 218.4h.01M476.7 219.1h.01M476.7 219.8h.01M476.7 220.5h.01M476.7 221.2h.01M476.7 221.9h.01M476.7 222.6h.01M476.7 223.3h.01M476.7 224h.01M476.7 224.7h.01M476.7 225.4h.01M476.7 226.1h.01M476.7 227.5h.01M476.7 228.2h.01M476.7 229.6h.01M477.4 207.2h.01M477.4 211.4h.01M477.4 212.1h.01M477.4 212.8h.01M477.4 214.9h.01M477.4 215.6h.01M477.4 216.3h.01M477.4 217.7h.01M477.4 219.1h.01M477.4 219.8h.01M477.4 220.5h.01M477.4 221.9h.01M477.4 222.6h.01M477.4 223.3h.01M477.4 224h.01M477.4 224.7h.01M477.4 225.4h.01M477.4 226.1h.01M477.4 227.5h.01M477.4 229.6h.01M477.4 235.2h.01M478.1 212.1h.01M478.1 212.8h.01M478.1 216.3h.01M478.1 217h.01M478.1 218.4h.01M478.1 219.1h.01M478.1 219.8h.01M478.1 220.5h.01M478.1 221.2h.01M478.1 221.9h.01M478.1 222.6h.01M478.1 223.3h.01M478.1 224h.01M478.1 224.7h.01M478.1 225.4h.01M478.1 226.1h.01M478.1 226.8h.01M478.1 227.5h.01M478.1 228.2h.01M478.1 228.9h.01M478.8 212.1h.01M478.8 212.8h.01M478.8 214.2h.01M478.8 214.9h.01M478.8 215.6h.01M478.8 217h.01M478.8 217.7h.01M478.8 218.4h.01M478.8 219.8h.01M478.8 220.5h.01M478.8 221.2h.01M478.8 221.9h.01M478.8 222.6h.01M478.8 223.3h.01M478.8 224.7h.01M478.8 225.4h.01M478.8 226.1h.01M478.8 226.8h.01M478.8 227.5h.01M478.8 228.2h.01M478.8 229.6h.01M478.8 231.7h.01M478.8 232.4h.01M478.8 237.3h.01M479.5 209.3h.01M479.5 212.1h.01M479.5 213.5h.01M479.5 214.2h.01M479.5 215.6h.01M479.5 216.3h.01M479.5 217h.01M479.5 217.7h.01M479.5 218.4h.01M479.5 219.1h.01M479.5 219.8h.01M479.5 220.5h.01M479.5 221.2h.01M479.5 221.9h.01M479.5 222.6h.01M479.5 223.3h.01M479.5 224h.01M479.5 224.7h.01M479.5 225.4h.01M479.5 226.1h.01M479.5 226.8h.01M479.5 227.5h.01M479.5 228.2h.01M479.5 228.9h.01M479.5 230.3h.01M479.5 232.4h.01M480.2 207.9h.01M480.2 213.5h.01M480.2 214.2h.01M480.2 215.6h.01M480.2 216.3h.01M480.2 217h.01M480.2 217.7h.01M480.2 218.4h.01M480.2 219.1h.01M480.2 219.8h.01M480.2 220.5h.01M480.2 221.2h.01M480.2 221.9h.01M480.2 222.6h.01M480.2 223.3h.01M480.2 224h.01M480.2 224.7h.01M480.2 225.4h.01M480.2 226.1h.01M480.2 226.8h.01M480.2 227.5h.01M480.2 228.2h.01M480.2 231h.01M480.2 231.7h.01M480.9 210h.01M480.9 210.7h.01M480.9 214.9h.01M480.9 215.6h.01M480.9 217h.01M480.9 217.7h.01M480.9 219.1h.01M480.9 219.8h.01M480.9 220.5h.01M480.9 221.2h.01M480.9 221.9h.01M480.9 222.6h.01M480.9 223.3h.01M480.9 224h.01M480.9 224.7h.01M480.9 225.4h.01M480.9 226.1h.01M480.9 226.8h.01M480.9 228.2h.01M480.9 231h.01M480.9 233.8h.01M481.6 210h.01M481.6 212.8h.01M481.6 213.5h.01M481.6 214.9h.01M481.6 215.6h.01M481.6 216.3h.01M481.6 217.7h.01M481.6 218.4h.01M481.6 219.1h.01M481.6 219.8h.01M481.6 220.5h.01M481.6 221.2h.01M481.6 221.9h.01M481.6 222.6h.01M481.6 224h.01M481.6 224.7h.01M481.6 225.4h.01M481.6 226.1h.01M481.6 226.8h.01M481.6 227.5h.01M481.6 228.9h.01M481.6 229.6h.01M481.6 230.3h.01M481.6 231.7h.01M482.3 214.9h.01M482.3 216.3h.01M482.3 217h.01M482.3 217.7h.01M482.3 218.4h.01M482.3 219.1h.01M482.3 219.8h.01M482.3 220.5h.01M482.3 221.2h.01M482.3 221.9h.01M482.3 222.6h.01M482.3 223.3h.01M482.3 224.7h.01M482.3 225.4h.01M482.3 226.1h.01M482.3 226.8h.01M482.3 227.5h.01M482.3 229.6h.01M482.3 230.3h.01M482.3 231h.01M482.3 231.7h.01M482.3 241.5h.01M483 210h.01M483 213.5h.01M483 214.9h.01M483 215.6h.01M483 216.3h.01M483 217h.01M483 217.7h.01M483 218.4h.01M483 219.1h.01M483 219.8h.01M483 220.5h.01M483 221.2h.01M483 221.9h.01M483 222.6h.01M483 223.3h.01M483 224h.01M483 224.7h.01M483 225.4h.01M483 226.1h.01M483 226.8h.01M483 227.5h.01M483 229.6h.01M483 230.3h.01M483 232.4h.01M483.7 212.1h.01M483.7 212.8h.01M483.7 213.5h.01M483.7 215.6h.01M483.7 216.3h.01M483.7 217h.01M483.7 217.7h.01M483.7 218.4h.01M483.7 219.1h.01M483.7 220.5h.01M483.7 221.2h.01M483.7 221.9h.01M483.7 222.6h.01M483.7 223.3h.01M483.7 224h.01M483.7 224.7h.01M483.7 225.4h.01M483.7 226.1h.01M483.7 226.8h.01M483.7 227.5h.01M483.7 228.2h.01M483.7 228.9h.01M483.7 229.6h.01M483.7 230.3h.01M483.7 232.4h.01M484.4 209.3h.01M484.4 210.7h.01M484.4 212.1h.01M484.4 215.6h.01M484.4 216.3h.01M484.4 217h.01M484.4 219.1h.01M484.4 219.8h.01M484.4 220.5h.01M484.4 221.2h.01M484.4 221.9h.01M484.4 222.6h.01M484.4 223.3h.01M484.4 224h.01M484.4 224.7h.01M484.4 225.4h.01M484.4 226.8h.01M484.4 227.5h.01M484.4 228.2h.01M484.4 228.9h.01M484.4 230.3h.01M484.4 231h.01M484.4 231.7h.01M485.1 211.4h.01M485.1 212.1h.01M485.1 214.9h.01M485.1 215.6h.01M485.1 216.3h.01M485.1 217h.01M485.1 217.7h.01M485.1 218.4h.01M485.1 219.1h.01M485.1 220.5h.01M485.1 221.2h.01M485.1 221.9h.01M485.1 222.6h.01M485.1 223.3h.01M485.1 224.7h.01M485.1 225.4h.01M485.1 226.1h.01M485.1 226.8h.01M485.1 228.2h.01M485.1 229.6h.01M485.1 233.8h.01M485.8 211.4h.01M485.8 212.8h.01M485.8 213.5h.01M485.8 214.9h.01M485.8 215.6h.01M485.8 216.3h.01M485.8 217h.01M485.8 217.7h.01M485.8 218.4h.01M485.8 219.1h.01M485.8 219.8h.01M485.8 220.5h.01M485.8 221.2h.01M485.8 221.9h.01M485.8 222.6h.01M485.8 223.3h.01M485.8 224h.01M485.8 224.7h.01M485.8 225.4h.01M485.8 226.1h.01M485.8 226.8h.01M485.8 227.5h.01M485.8 228.2h.01M485.8 229.6h.01M485.8 230.3h.01M485.8 232.4h.01M485.8 233.1h.01M486.5 211.4h.01M486.5 213.5h.01M486.5 214.2h.01M486.5 214.9h.01M486.5 215.6h.01M486.5 216.3h.01M486.5 217h.01M486.5 217.7h.01M486.5 218.4h.01M486.5 219.1h.01M486.5 219.8h.01M486.5 221.2h.01M486.5 221.9h.01M486.5 222.6h.01M486.5 223.3h.01M486.5 224h.01M486.5 224.7h.01M486.5 225.4h.01M486.5 226.1h.01M486.5 226.8h.01M486.5 227.5h.01M486.5 228.2h.01M486.5 228.9h.01M486.5 229.6h.01M486.5 230.3h.01M486.5 233.1h.01M486.5 235.2h.01M487.2 211.4h.01M487.2 213.5h.01M487.2 214.9h.01M487.2 216.3h.01M487.2 217.7h.01M487.2 218.4h.01M487.2 219.8h.01M487.2 220.5h.01M487.2 221.2h.01M487.2 221.9h.01M487.2 222.6h.01M487.2 223.3h.01M487.2 224h.01M487.2 224.7h.01M487.2 226.1h.01M487.2 226.8h.01M487.2 227.5h.01M487.2 228.2h.01M487.2 230.3h.01M487.2 231h.01M487.2 232.4h.01M487.2 233.1h.01M487.9 210.7h.01M487.9 211.4h.01M487.9 212.1h.01M487.9 212.8h.01M487.9 213.5h.01M487.9 214.2h.01M487.9 214.9h.01M487.9 216.3h.01M487.9 217h.01M487.9 217.7h.01M487.9 218.4h.01M487.9 219.1h.01M487.9 219.8h.01M487.9 220.5h.01M487.9 221.2h.01M487.9 221.9h.01M487.9 222.6h.01M487.9 223.3h.01M487.9 224h.01M487.9 224.7h.01M487.9 225.4h.01M487.9 226.1h.01M487.9 227.5h.01M487.9 228.2h.01M487.9 228.9h.01M487.9 229.6h.01M487.9 230.3h.01M487.9 231h.01M487.9 231.7h.01M487.9 233.1h.01M487.9 236.6h.01M488.6 211.4h.01M488.6 214.9h.01M488.6 215.6h.01M488.6 216.3h.01M488.6 217h.01M488.6 217.7h.01M488.6 218.4h.01M488.6 219.1h.01M488.6 219.8h.01M488.6 220.5h.01M488.6 221.2h.01M488.6 221.9h.01M488.6 222.6h.01M488.6 223.3h.01M488.6 224h.01M488.6 224.7h.01M488.6 225.4h.01M488.6 226.1h.01M488.6 226.8h.01M488.6 228.9h.01M488.6 230.3h.01M488.6 231h.01M488.6 233.1h.01M489.3 212.1h.01M489.3 212.8h.01M489.3 214.2h.01M489.3 215.6h.01M489.3 216.3h.01M489.3 217h.01M489.3 217.7h.01M489.3 218.4h.01M489.3 219.1h.01M489.3 219.8h.01M489.3 220.5h.01M489.3 221.2h.01M489.3 221.9h.01M489.3 222.6h.01M489.3 223.3h.01M489.3 224h.01M489.3 224.7h.01M489.3 225.4h.01M489.3 226.1h.01M489.3 226.8h.01M489.3 228.2h.01M489.3 228.9h.01M489.3 229.6h.01M489.3 230.3h.01M489.3 232.4h.01M489.3 233.1h.01M490 212.1h.01M490 214.9h.01M490 215.6h.01M490 216.3h.01M490 217h.01M490 217.7h.01M490 218.4h.01M490 219.1h.01M490 219.8h.01M490 220.5h.01M490 221.2h.01M490 221.9h.01M490 222.6h.01M490 223.3h.01M490 224h.01M490 224.7h.01M490 225.4h.01M490 226.1h.01M490 226.8h.01M490 227.5h.01M490 228.2h.01M490 228.9h.01M490 229.6h.01M490 230.3h.01M490 231h.01M490 231.7h.01M490.7 211.4h.01M490.7 212.1h.01M490.7 214.2h.01M490.7 214.9h.01M490.7 216.3h.01M490.7 217h.01M490.7 217.7h.01M490.7 218.4h.01M490.7 219.1h.01M490.7 219.8h.01M490.7 220.5h.01M490.7 221.2h.01M490.7 221.9h.01M490.7 222.6h.01M490.7 223.3h.01M490.7 224h.01M490.7 224.7h.01M490.7 225.4h.01M490.7 226.1h.01M490.7 226.8h.01M490.7 227.5h.01M490.7 228.9h.01M490.7 229.6h.01M490.7 231h.01M490.7 232.4h.01M490.7 233.8h.01M490.7 237.3h.01M490.7 238.7h.01M491.4 212.8h.01M491.4 214.2h.01M491.4 214.9h.01M491.4 215.6h.01M491.4 216.3h.01M491.4 217h.01M491.4 217.7h.01M491.4 218.4h.01M491.4 219.1h.01M491.4 219.8h.01M491.4 220.5h.01M491.4 221.2h.01M491.4 221.9h.01M491.4 222.6h.01M491.4 223.3h.01M491.4 224h.01M491.4 224.7h.01M491.4 225.4h.01M491.4 226.1h.01M491.4 226.8h.01M491.4 228.2h.01M491.4 228.9h.01M491.4 229.6h.01M491.4 238h.01M492.1 212.1h.01M492.1 212.8h.01M492.1 214.2h.01M492.1 217.7h.01M492.1 218.4h.01M492.1 219.1h.01M492.1 219.8h.01M492.1 220.5h.01M492.1 221.2h.01M492.1 221.9h.01M492.1 222.6h.01M492.1 223.3h.01M492.1 224h.01M492.1 224.7h.01M492.1 225.4h.01M492.1 226.1h.01M492.1 226.8h.01M492.1 227.5h.01M492.1 228.9h.01M492.1 232.4h.01M492.8 213.5h.01M492.8 214.9h.01M492.8 215.6h.01M492.8 216.3h.01M492.8 217h.01M492.8 217.7h.01M492.8 218.4h.01M492.8 219.1h.01M492.8 219.8h.01M492.8 220.5h.01M492.8 221.2h.01M492.8 221.9h.01M492.8 222.6h.01M492.8 223.3h.01M492.8 224h.01M492.8 224.7h.01M492.8 225.4h.01M492.8 226.1h.01M492.8 226.8h.01M492.8 227.5h.01M492.8 228.2h.01M492.8 229.6h.01M492.8 230.3h.01M492.8 233.8h.01M493.5 208.6h.01M493.5 212.1h.01M493.5 212.8h.01M493.5 214.2h.01M493.5 215.6h.01M493.5 216.3h.01M493.5 217h.01M493.5 217.7h.01M493.5 218.4h.01M493.5 219.1h.01M493.5 219.8h.01M493.5 220.5h.01M493.5 221.2h.01M493.5 221.9h.01M493.5 222.6h.01M493.5 223.3h.01M493.5 224h.01M493.5 224.7h.01M493.5 225.4h.01M493.5 226.1h.01M493.5 226.8h.01M493.5 227.5h.01M493.5 228.2h.01M493.5 231h.01M493.5 232.4h.01M493.5 234.5h.01M494.2 207.9h.01M494.2 214.2h.01M494.2 215.6h.01M494.2 216.3h.01M494.2 217h.01M494.2 217.7h.01M494.2 218.4h.01M494.2 219.1h.01M494.2 219.8h.01M494.2 220.5h.01M494.2 221.2h.01M494.2 221.9h.01M494.2 222.6h.01M494.2 223.3h.01M494.2 224h.01M494.2 224.7h.01M494.2 225.4h.01M494.2 226.1h.01M494.2 226.8h.01M494.2 227.5h.01M494.2 228.2h.01M494.2 228.9h.01M494.2 229.6h.01M494.2 232.4h.01M494.2 235.2h.01M494.2 236.6h.01M494.9 214.2h.01M494.9 214.9h.01M494.9 216.3h.01M494.9 217h.01M494.9 217.7h.01M494.9 218.4h.01M494.9 219.1h.01M494.9 219.8h.01M494.9 220.5h.01M494.9 221.2h.01M494.9 221.9h.01M494.9 222.6h.01M494.9 223.3h.01M494.9 224h.01M494.9 224.7h.01M494.9 225.4h.01M494.9 226.1h.01M494.9 228.2h.01M494.9 229.6h.01M494.9 231.7h.01M494.9 235.9h.01M495.6 210h.01M495.6 213.5h.01M495.6 214.2h.01M495.6 216.3h.01M495.6 217h.01M495.6 217.7h.01M495.6 218.4h.01M495.6 219.1h.01M495.6 219.8h.01M495.6 221.2h.01M495.6 221.9h.01M495.6 222.6h.01M495.6 223.3h.01M495.6 224h.01M495.6 224.7h.01M495.6 225.4h.01M495.6 226.1h.01M495.6 226.8h.01M495.6 227.5h.01M495.6 228.2h.01M495.6 230.3h.01M495.6 231.7h.01M495.6 235.2h.01M496.3 217h.01M496.3 217.7h.01M496.3 218.4h.01M496.3 219.1h.01M496.3 219.8h.01M496.3 220.5h.01M496.3 221.2h.01M496.3 221.9h.01M496.3 222.6h.01M496.3 223.3h.01M496.3 224h.01M496.3 224.7h.01M496.3 225.4h.01M496.3 226.1h.01M496.3 226.8h.01M496.3 227.5h.01M496.3 228.2h.01M496.3 228.9h.01M496.3 231h.01M496.3 233.1h.01M496.3 233.8h.01M496.3 236.6h.01M496.3 241.5h.01M497 213.5h.01M497 214.9h.01M497 215.6h.01M497 216.3h.01M497 217h.01M497 217.7h.01M497 218.4h.01M497 219.1h.01M497 219.8h.01M497 220.5h.01M497 221.2h.01M497 222.6h.01M497 223.3h.01M497 224h.01M497 224.7h.01M497 225.4h.01M497 226.1h.01M497 226.8h.01M497 227.5h.01M497 228.2h.01M497 228.9h.01M497 229.6h.01M497 235.2h.01M497.7 210.7h.01M497.7 214.2h.01M497.7 215.6h.01M497.7 216.3h.01M497.7 217h.01M497.7 217.7h.01M497.7 218.4h.01M497.7 219.1h.01M497.7 219.8h.01M497.7 220.5h.01M497.7 221.2h.01M497.7 221.9h.01M497.7 223.3h.01M497.7 224h.01M497.7 224.7h.01M497.7 225.4h.01M497.7 226.1h.01M497.7 226.8h.01M497.7 227.5h.01M497.7 228.2h.01M497.7 229.6h.01M497.7 230.3h.01M498.4 215.6h.01M498.4 216.3h.01M498.4 217h.01M498.4 217.7h.01M498.4 218.4h.01M498.4 219.1h.01M498.4 219.8h.01M498.4 221.2h.01M498.4 221.9h.01M498.4 222.6h.01M498.4 223.3h.01M498.4 224h.01M498.4 224.7h.01M498.4 225.4h.01M498.4 226.1h.01M498.4 226.8h.01M498.4 227.5h.01M498.4 228.2h.01M498.4 228.9h.01M498.4 229.6h.01M498.4 232.4h.01M498.4 234.5h.01M499.1 204.4h.01M499.1 214.2h.01M499.1 214.9h.01M499.1 215.6h.01M499.1 216.3h.01M499.1 217h.01M499.1 217.7h.01M499.1 218.4h.01M499.1 219.1h.01M499.1 219.8h.01M499.1 220.5h.01M499.1 221.2h.01M499.1 221.9h.01M499.1 223.3h.01M499.1 224h.01M499.1 224.7h.01M499.1 225.4h.01M499.1 226.1h.01M499.1 226.8h.01M499.1 228.2h.01M499.1 228.9h.01M499.1 229.6h.01M499.1 231.7h.01M499.1 233.1h.01M499.1 234.5h.01M499.1 235.2h.01M499.8 210h.01M499.8 214.9h.01M499.8 215.6h.01M499.8 216.3h.01M499.8 217h.01M499.8 219.1h.01M499.8 219.8h.01M499.8 220.5h.01M499.8 221.2h.01M499.8 221.9h.01M499.8 222.6h.01M499.8 223.3h.01M499.8 224h.01M499.8 224.7h.01M499.8 225.4h.01M499.8 226.1h.01M499.8 226.8h.01M499.8 228.2h.01M499.8 230.3h.01M499.8 231.7h.01M499.8 233.1h.01M500.5 212.8h.01M500.5 213.5h.01M500.5 214.9h.01M500.5 215.6h.01M500.5 217.7h.01M500.5 218.4h.01M500.5 219.1h.01M500.5 219.8h.01M500.5 220.5h.01M500.5 221.2h.01M500.5 221.9h.01M500.5 222.6h.01M500.5 223.3h.01M500.5 224h.01M500.5 224.7h.01M500.5 225.4h.01M500.5 226.1h.01M500.5 227.5h.01M500.5 228.2h.01M500.5 229.6h.01M500.5 230.3h.01M500.5 231h.01M500.5 231.7h.01M500.5 233.1h.01M501.2 211.4h.01M501.2 214.9h.01M501.2 215.6h.01M501.2 216.3h.01M501.2 217.7h.01M501.2 218.4h.01M501.2 219.1h.01M501.2 219.8h.01M501.2 220.5h.01M501.2 221.2h.01M501.2 221.9h.01M501.2 222.6h.01M501.2 223.3h.01M501.2 224h.01M501.2 224.7h.01M501.2 225.4h.01M501.2 226.8h.01M501.2 228.2h.01M501.2 230.3h.01M501.2 231h.01M501.2 233.8h.01M501.2 235.9h.01M501.9 212.1h.01M501.9 213.5h.01M501.9 217.7h.01M501.9 218.4h.01M501.9 219.1h.01M501.9 219.8h.01M501.9 220.5h.01M501.9 221.2h.01M501.9 221.9h.01M501.9 222.6h.01M501.9 223.3h.01M501.9 224h.01M501.9 224.7h.01M501.9 225.4h.01M501.9 228.9h.01M501.9 229.6h.01M501.9 230.3h.01M501.9 233.8h.01M501.9 235.2h.01M502.6 212.1h.01M502.6 213.5h.01M502.6 216.3h.01M502.6 217h.01M502.6 217.7h.01M502.6 218.4h.01M502.6 219.1h.01M502.6 219.8h.01M502.6 220.5h.01M502.6 221.2h.01M502.6 222.6h.01M502.6 223.3h.01M502.6 224.7h.01M502.6 225.4h.01M502.6 226.8h.01M502.6 228.9h.01M502.6 231h.01M503.3 212.1h.01M503.3 214.2h.01M503.3 216.3h.01M503.3 219.8h.01M503.3 220.5h.01M503.3 221.9h.01M503.3 223.3h.01M503.3 224h.01M503.3 225.4h.01M503.3 226.1h.01M503.3 226.8h.01M503.3 228.2h.01M503.3 228.9h.01M503.3 229.6h.01M503.3 231h.01M503.3 233.8h.01M503.3 234.5h.01M504 212.1h.01M504 214.9h.01M504 216.3h.01M504 217.7h.01M504 218.4h.01M504 219.1h.01M504 219.8h.01M504 220.5h.01M504 221.2h.01M504 221.9h.01M504 222.6h.01M504 224h.01M504 225.4h.01M504 226.1h.01M504 226.8h.01M504 227.5h.01M504 228.2h.01M504 229.6h.01M504 231h.01M504.7 211.4h.01M504.7 212.8h.01M504.7 214.2h.01M504.7 214.9h.01M504.7 216.3h.01M504.7 218.4h.01M504.7 219.1h.01M504.7 219.8h.01M504.7 220.5h.01M504.7 221.2h.01M504.7 221.9h.01M504.7 222.6h.01M504.7 223.3h.01M504.7 224h.01M504.7 224.7h.01M504.7 226.8h.01M504.7 227.5h.01M504.7 228.9h.01M504.7 230.3h.01M504.7 233.8h.01M505.4 211.4h.01M505.4 214.2h.01M505.4 215.6h.01M505.4 216.3h.01M505.4 217h.01M505.4 217.7h.01M505.4 218.4h.01M505.4 219.1h.01M505.4 219.8h.01M505.4 220.5h.01M505.4 221.2h.01M505.4 221.9h.01M505.4 222.6h.01M505.4 223.3h.01M505.4 224h.01M505.4 224.7h.01M505.4 226.1h.01M505.4 228.2h.01M505.4 231h.01M505.4 232.4h.01M506.1 213.5h.01M506.1 214.9h.01M506.1 217.7h.01M506.1 218.4h.01M506.1 219.1h.01M506.1 220.5h.01M506.1 221.2h.01M506.1 221.9h.01M506.1 222.6h.01M506.1 223.3h.01M506.1 224.7h.01M506.1 225.4h.01M506.1 226.1h.01M506.1 227.5h.01M506.1 228.2h.01M506.1 229.6h.01M506.1 230.3h.01M506.8 212.1h.01M506.8 217h.01M506.8 217.7h.01M506.8 219.1h.01M506.8 222.6h.01M506.8 223.3h.01M506.8 224h.01M506.8 224.7h.01M506.8 226.1h.01M506.8 226.8h.01M506.8 227.5h.01M506.8 228.2h.01M506.8 230.3h.01M507.5 210h.01M507.5 213.5h.01M507.5 217h.01M507.5 217.7h.01M507.5 219.8h.01M507.5 220.5h.01M507.5 221.9h.01M507.5 222.6h.01M507.5 223.3h.01M507.5 224h.01M507.5 224.7h.01M507.5 225.4h.01M507.5 226.1h.01M507.5 226.8h.01M507.5 227.5h.01M507.5 228.2h.01M507.5 233.8h.01M508.2 212.8h.01M508.2 214.9h.01M508.2 218.4h.01M508.2 219.1h.01M508.2 220.5h.01M508.2 221.2h.01M508.2 221.9h.01M508.2 222.6h.01M508.2 224h.01M508.2 224.7h.01M508.2 225.4h.01M508.2 226.1h.01M508.2 226.8h.01M508.2 228.2h.01M508.2 229.6h.01M508.2 235.2h.01M508.2 242.2h.01M508.9 213.5h.01M508.9 214.2h.01M508.9 214.9h.01M508.9 217.7h.01M508.9 218.4h.01M508.9 219.8h.01M508.9 220.5h.01M508.9 221.2h.01M508.9 221.9h.01M508.9 222.6h.01M508.9 224h.01M508.9 224.7h.01M508.9 225.4h.01M508.9 228.9h.01M508.9 229.6h.01M508.9 235.9h.01M509.6 212.1h.01M509.6 217h.01M509.6 218.4h.01M509.6 219.1h.01M509.6 219.8h.01M509.6 221.9h.01M509.6 223.3h.01M509.6 224h.01M509.6 224.7h.01M509.6 225.4h.01M509.6 230.3h.01M510.3 214.9h.01M510.3 215.6h.01M510.3 219.1h.01M510.3 219.8h.01M510.3 220.5h.01M510.3 221.9h.01M510.3 222.6h.01M510.3 224.7h.01M510.3 225.4h.01M510.3 226.1h.01M510.3 226.8h.01M510.3 228.2h.01M510.3 229.6h.01M510.3 231h.01M510.3 231.7h.01M511 208.6h.01M511 214.2h.01M511 214.9h.01M511 215.6h.01M511 218.4h.01M511 219.8h.01M511 220.5h.01M511 221.2h.01M511 222.6h.01M511 223.3h.01M511 224h.01M511 224.7h.01M511 227.5h.01M511 228.2h.01M511 229.6h.01M511 231h.01M511 231.7h.01M511 233.1h.01M511.7 213.5h.01M511.7 214.9h.01M511.7 217.7h.01M511.7 220.5h.01M511.7 223.3h.01M511.7 224.7h.01M511.7 225.4h.01M511.7 226.1h.01M511.7 233.1h.01M512.4 219.1h.01M512.4 220.5h.01M512.4 221.2h.01M512.4 222.6h.01M512.4 224h.01M512.4 226.1h.01M512.4 228.9h.01M512.4 234.5h.01M513.1 215.6h.01M513.1 217h.01M513.1 219.1h.01M513.1 220.5h.01M513.1 222.6h.01M513.1 223.3h.01M513.1 224h.01M513.1 226.1h.01M513.1 226.8h.01M513.1 238.7h.01M513.8 215.6h.01M513.8 221.2h.01M513.8 222.6h.01M513.8 223.3h.01M513.8 224.7h.01M513.8 226.8h.01M513.8 228.2h.01M513.8 229.6h.01M514.5 213.5h.01M514.5 214.9h.01M514.5 217.7h.01M514.5 220.5h.01M514.5 221.2h.01M514.5 222.6h.01M514.5 224h.01M514.5 224.7h.01M514.5 228.2h.01M514.5 229.6h.01M514.5 230.3h.01M515.2 212.1h.01M515.2 216.3h.01M515.2 217.7h.01M515.2 219.8h.01M515.2 220.5h.01M515.2 223.3h.01M515.2 224.7h.01M515.2 226.1h.01M515.2 226.8h.01M515.2 227.5h.01M515.2 229.6h.01M515.2 231h.01M515.9 217h.01M515.9 219.8h.01M515.9 221.9h.01M515.9 224.7h.01M515.9 225.4h.01M515.9 230.3h.01M515.9 231h.01M515.9 235.2h.01M516.6 219.8h.01M516.6 224h.01M516.6 224.7h.01M517.3 207.2h.01M517.3 226.8h.01M517.3 228.2h.01M518 217.7h.01M518 219.1h.01M518 224h.01M518 224.7h.01M518 226.1h.01M518 230.3h.01M518 236.6h.01M518.7 205.1h.01M518.7 214.9h.01M518.7 217h.01M518.7 219.8h.01M519.4 220.5h.01M519.4 221.9h.01M519.4 224h.01M519.4 226.1h.01M519.4 227.5h.01M520.1 219.1h.01M520.1 223.3h.01M520.1 228.2h.01M520.8 224.7h.01M520.8 227.5h.01M520.8 228.2h.01M521.5 219.8h.01M521.5 223.3h.01M521.5 226.1h.01M521.5 228.9h.01M521.5 231h.01M522.2 219.1h.01M522.2 222.6h.01M522.2 224h.01M522.9 221.9h.01M522.9 228.2h.01M522.9 235.9h.01M523.6 215.6h.01M523.6 226.1h.01M523.6 229.6h.01M523.6 232.4h.01M524.3 221.9h.01M524.3 222.6h.01M524.3 227.5h.01M525 216.3h.01M525 226.1h.01M526.4 217h.01M526.4 223.3h.01M526.4 224h.01M526.4 231h.01M527.1 218.4h.01M527.8 214.2h.01M527.8 220.5h.01M528.5 212.1h.01M528.5 222.6h.01M528.5 228.9h.01M528.5 230.3h.01M529.2 212.1h.01M529.2 224h.01M529.2 226.1h.01M529.9 222.6h.01M530.6 228.2h.01M532.7 217.7h.01M532.7 224.7h.01M536.2 217.7h.01M536.9 233.1h.01M541.8 221.2h.01" stroke="#2556d6" stroke-width="1.35" stroke-linecap="square" fill="none"/>
<line x1="439.5" y1="221.3" x2="542.5" y2="225.8" stroke="#f01020" stroke-width="2"/>
<rect x="437" y="201.9" width="109.5" height="96.1" fill="none" stroke="#333" stroke-width="1.6"/>
<text x="451.8" y="195.8" font-size="9">ER+/PR+ (<tspan font-style="italic">n=3,262</tspan>)</text>
<text x="433.9" y="213.3" font-size="6.4" text-anchor="end">1</text>
<text x="433.9" y="229.5" font-size="6.4" text-anchor="end">0</text>
<text x="433.9" y="245.7" font-size="6.4" text-anchor="end">-1</text>
<text x="433.9" y="261.9" font-size="6.4" text-anchor="end">-2</text>
<text x="433.9" y="278.1" font-size="6.4" text-anchor="end">-3</text>
<text x="433.9" y="294.3" font-size="6.4" text-anchor="end">-4</text>
<text x="447.2" y="307.4" font-size="6.4" text-anchor="middle">-3</text>
<text x="464" y="307.4" font-size="6.4" text-anchor="middle">-2</text>
<text x="479.7" y="307.4" font-size="6.4" text-anchor="middle">-1</text>
<text x="495.5" y="307.4" font-size="6.4" text-anchor="middle">0</text>
<text x="510.2" y="307.4" font-size="6.4" text-anchor="middle">1</text>
<text x="524.2" y="307.4" font-size="6.4" text-anchor="middle">2</text>
<text x="539" y="307.4" font-size="6.4" text-anchor="middle">3</text>
<text transform="translate(425.7 254.05) rotate(-90)" font-size="7.8" font-style="italic" text-anchor="middle">FOXA1</text>
<text x="492.4" y="318.1" font-size="8.3" font-style="italic" text-anchor="middle">CDC20</text>
<text transform="translate(443.5 292.6) scale(1 1.1)" font-size="7.8" font-style="italic">R= -0.09</text>
<text transform="translate(540.9 292.6) scale(1 1.1)" font-size="8" font-style="italic" text-anchor="end">P&lt;0.0001</text>
</g></svg></body></html>
